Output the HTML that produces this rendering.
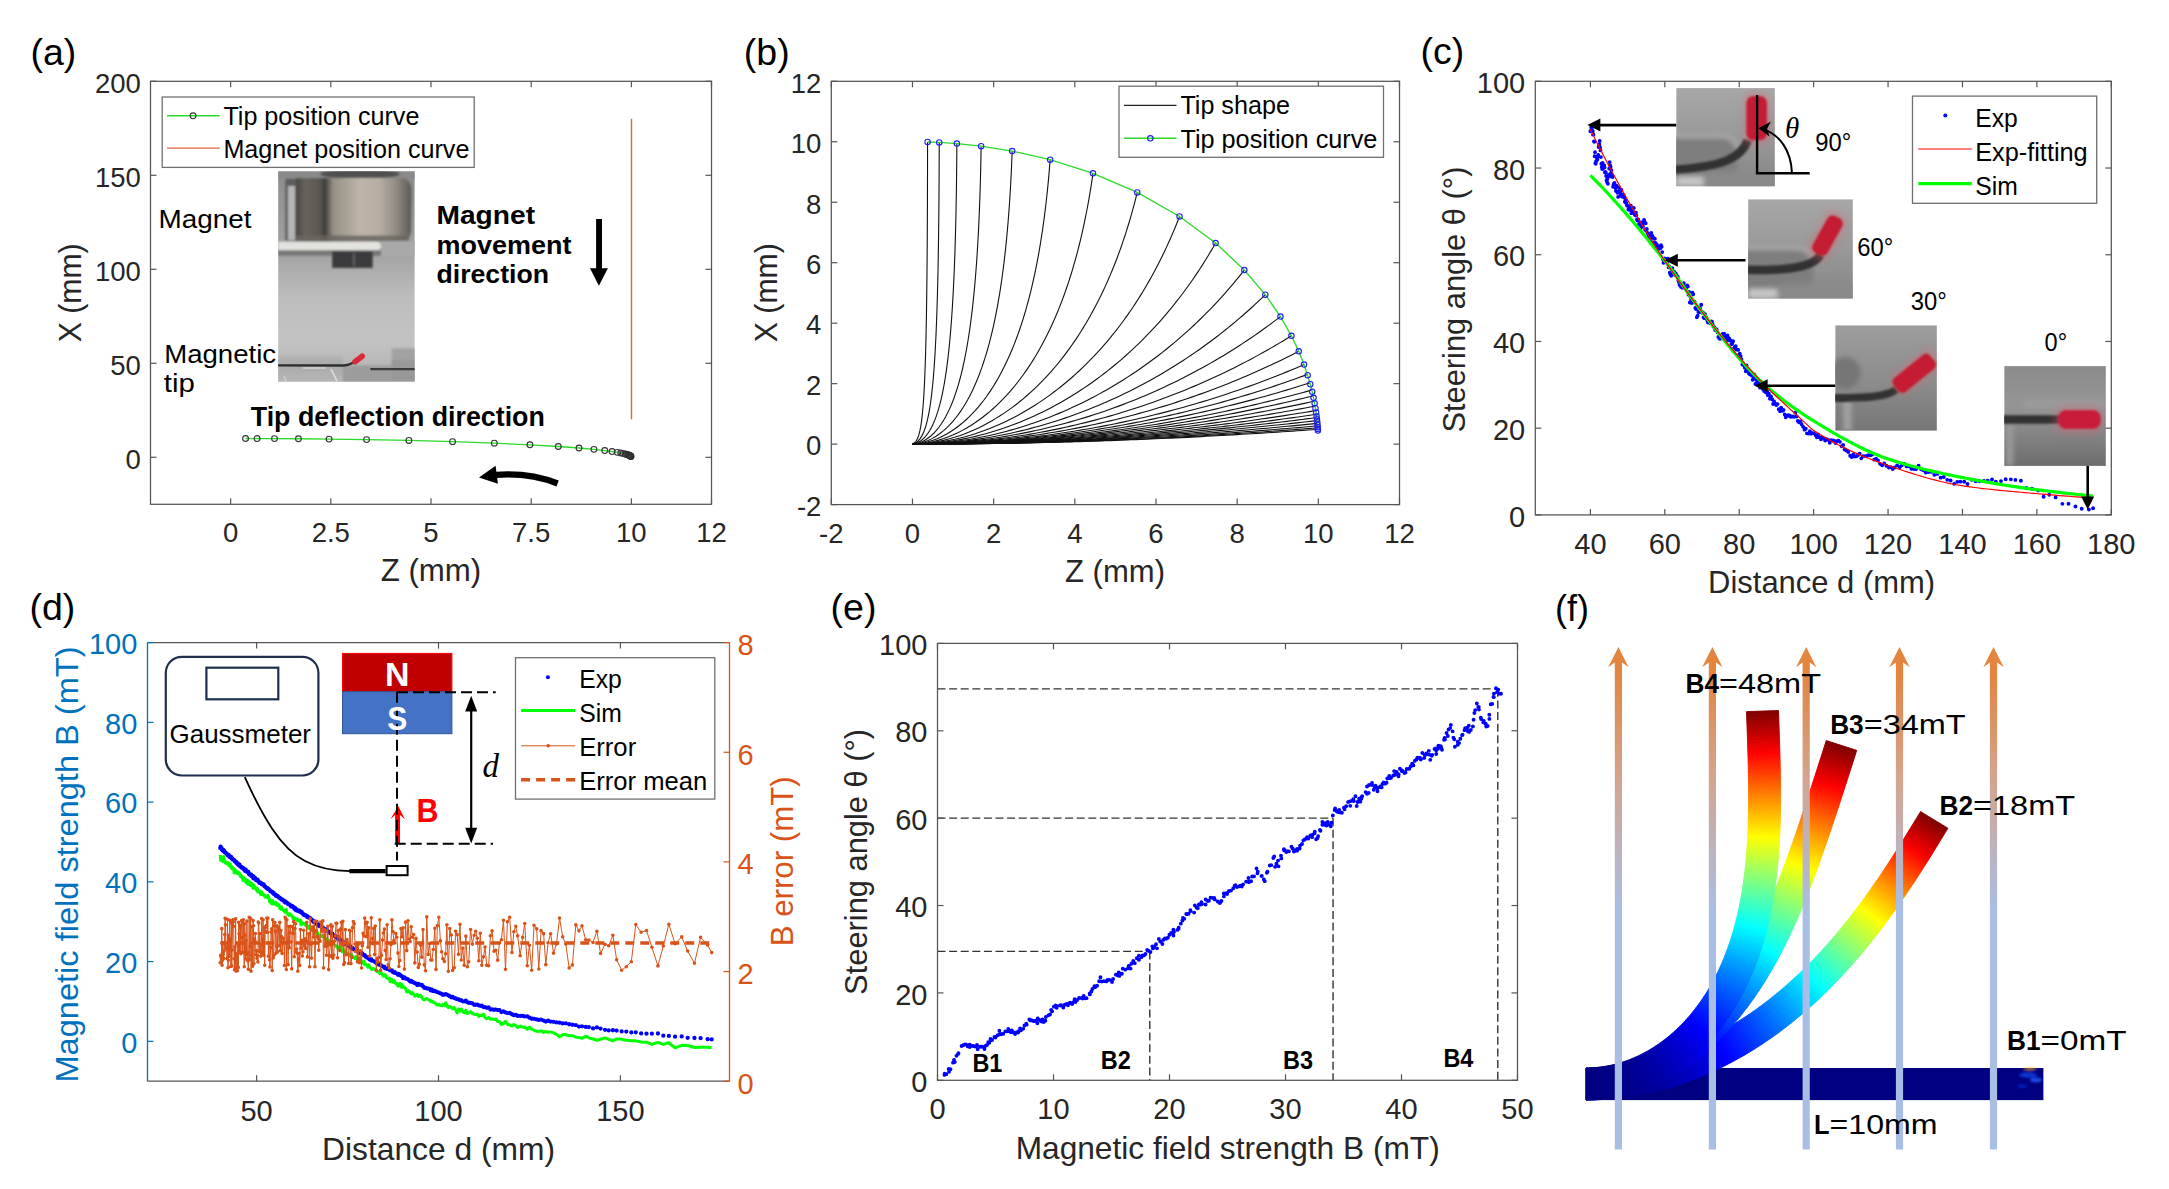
<!DOCTYPE html><html><head><meta charset="utf-8"><title>figure</title><style>html,body{margin:0;padding:0;background:#fff;overflow:hidden}svg{display:block}</style></head><body>
<svg width="2169" height="1189" viewBox="0 0 2169 1189" font-family="Liberation Sans, sans-serif">
<rect width="100%" height="100%" fill="#fff"/>
<text x="30.5" y="64.7" font-size="37.5" fill="#000">(a)</text>
<line x1="631.5" y1="118.8" x2="631.5" y2="419.3" stroke="#e0663a" stroke-width="1.4"/>
<!--tip-->
<polyline points="245.54,438.51 257.06,438.54 274.48,438.61 298.43,438.77 329.08,439.08 366.58,439.61 408.88,440.46 452.57,441.65 494.33,443.14 529.92,444.8 558.29,446.48 578.99,448.01 593.96,449.37 604.77,450.57 612.02,451.53 617.25,452.36 620.8,453.01 623.42,453.58 625.32,454.05 626.64,454.42 627.69,454.76 628.51,455.06 629.16,455.33 629.64,455.56 630.01,455.76 630.31,455.94 630.54,456.1 630.73,456.25 630.86,456.37 630.95,456.45" fill="none" stroke="#2bd92b" stroke-width="1.3"/>
<circle cx="245.54" cy="438.51" r="2.9" fill="none" stroke="#333" stroke-width="1.1"/>
<circle cx="257.06" cy="438.54" r="2.9" fill="none" stroke="#333" stroke-width="1.1"/>
<circle cx="274.48" cy="438.61" r="2.9" fill="none" stroke="#333" stroke-width="1.1"/>
<circle cx="298.43" cy="438.77" r="2.9" fill="none" stroke="#333" stroke-width="1.1"/>
<circle cx="329.08" cy="439.08" r="2.9" fill="none" stroke="#333" stroke-width="1.1"/>
<circle cx="366.58" cy="439.61" r="2.9" fill="none" stroke="#333" stroke-width="1.1"/>
<circle cx="408.88" cy="440.46" r="2.9" fill="none" stroke="#333" stroke-width="1.1"/>
<circle cx="452.57" cy="441.65" r="2.9" fill="none" stroke="#333" stroke-width="1.1"/>
<circle cx="494.33" cy="443.14" r="2.9" fill="none" stroke="#333" stroke-width="1.1"/>
<circle cx="529.92" cy="444.8" r="2.9" fill="none" stroke="#333" stroke-width="1.1"/>
<circle cx="558.29" cy="446.48" r="2.9" fill="none" stroke="#333" stroke-width="1.1"/>
<circle cx="578.99" cy="448.01" r="2.9" fill="none" stroke="#333" stroke-width="1.1"/>
<circle cx="593.96" cy="449.37" r="2.9" fill="none" stroke="#333" stroke-width="1.1"/>
<circle cx="604.77" cy="450.57" r="2.9" fill="none" stroke="#333" stroke-width="1.1"/>
<circle cx="612.02" cy="451.53" r="2.9" fill="none" stroke="#333" stroke-width="1.1"/>
<circle cx="617.25" cy="452.36" r="2.9" fill="none" stroke="#333" stroke-width="1.1"/>
<circle cx="620.8" cy="453.01" r="2.9" fill="none" stroke="#333" stroke-width="1.1"/>
<circle cx="623.42" cy="453.58" r="2.9" fill="none" stroke="#333" stroke-width="1.1"/>
<circle cx="625.32" cy="454.05" r="2.9" fill="none" stroke="#333" stroke-width="1.1"/>
<circle cx="626.64" cy="454.42" r="2.9" fill="none" stroke="#333" stroke-width="1.1"/>
<circle cx="627.69" cy="454.76" r="2.9" fill="none" stroke="#333" stroke-width="1.1"/>
<circle cx="628.51" cy="455.06" r="2.9" fill="none" stroke="#333" stroke-width="1.1"/>
<circle cx="629.16" cy="455.33" r="2.9" fill="none" stroke="#333" stroke-width="1.1"/>
<circle cx="629.64" cy="455.56" r="2.9" fill="none" stroke="#333" stroke-width="1.1"/>
<circle cx="630.01" cy="455.76" r="2.9" fill="none" stroke="#333" stroke-width="1.1"/>
<circle cx="630.31" cy="455.94" r="2.9" fill="none" stroke="#333" stroke-width="1.1"/>
<circle cx="630.54" cy="456.1" r="2.9" fill="none" stroke="#333" stroke-width="1.1"/>
<circle cx="630.73" cy="456.25" r="2.9" fill="none" stroke="#333" stroke-width="1.1"/>
<circle cx="630.86" cy="456.37" r="2.9" fill="none" stroke="#333" stroke-width="1.1"/>
<circle cx="630.95" cy="456.45" r="2.9" fill="none" stroke="#333" stroke-width="1.1"/>
<rect x="150.5" y="81.3" width="561" height="423" fill="none" stroke="#555555" stroke-width="1.25"/>
<line x1="230.64" y1="504.3" x2="230.64" y2="498.3" stroke="#555555" stroke-width="1.2"/>
<line x1="230.64" y1="81.3" x2="230.64" y2="87.3" stroke="#555555" stroke-width="1.2"/>
<line x1="330.82" y1="504.3" x2="330.82" y2="498.3" stroke="#555555" stroke-width="1.2"/>
<line x1="330.82" y1="81.3" x2="330.82" y2="87.3" stroke="#555555" stroke-width="1.2"/>
<line x1="431" y1="504.3" x2="431" y2="498.3" stroke="#555555" stroke-width="1.2"/>
<line x1="431" y1="81.3" x2="431" y2="87.3" stroke="#555555" stroke-width="1.2"/>
<line x1="531.18" y1="504.3" x2="531.18" y2="498.3" stroke="#555555" stroke-width="1.2"/>
<line x1="531.18" y1="81.3" x2="531.18" y2="87.3" stroke="#555555" stroke-width="1.2"/>
<line x1="631.36" y1="504.3" x2="631.36" y2="498.3" stroke="#555555" stroke-width="1.2"/>
<line x1="631.36" y1="81.3" x2="631.36" y2="87.3" stroke="#555555" stroke-width="1.2"/>
<line x1="711.5" y1="504.3" x2="711.5" y2="498.3" stroke="#555555" stroke-width="1.2"/>
<line x1="711.5" y1="81.3" x2="711.5" y2="87.3" stroke="#555555" stroke-width="1.2"/>
<line x1="150.5" y1="457.3" x2="156.5" y2="457.3" stroke="#555555" stroke-width="1.2"/>
<line x1="711.5" y1="457.3" x2="705.5" y2="457.3" stroke="#555555" stroke-width="1.2"/>
<line x1="150.5" y1="363.3" x2="156.5" y2="363.3" stroke="#555555" stroke-width="1.2"/>
<line x1="711.5" y1="363.3" x2="705.5" y2="363.3" stroke="#555555" stroke-width="1.2"/>
<line x1="150.5" y1="269.3" x2="156.5" y2="269.3" stroke="#555555" stroke-width="1.2"/>
<line x1="711.5" y1="269.3" x2="705.5" y2="269.3" stroke="#555555" stroke-width="1.2"/>
<line x1="150.5" y1="175.3" x2="156.5" y2="175.3" stroke="#555555" stroke-width="1.2"/>
<line x1="711.5" y1="175.3" x2="705.5" y2="175.3" stroke="#555555" stroke-width="1.2"/>
<line x1="150.5" y1="81.3" x2="156.5" y2="81.3" stroke="#555555" stroke-width="1.2"/>
<line x1="711.5" y1="81.3" x2="705.5" y2="81.3" stroke="#555555" stroke-width="1.2"/>
<text x="230.64" y="541.6" font-size="27.5" fill="#262626" text-anchor="middle">0</text>
<text x="330.82" y="541.6" font-size="27.5" fill="#262626" text-anchor="middle">2.5</text>
<text x="431" y="541.6" font-size="27.5" fill="#262626" text-anchor="middle">5</text>
<text x="531.18" y="541.6" font-size="27.5" fill="#262626" text-anchor="middle">7.5</text>
<text x="631.36" y="541.6" font-size="27.5" fill="#262626" text-anchor="middle">10</text>
<text x="711.5" y="541.6" font-size="27.5" fill="#262626" text-anchor="middle">12</text>
<text x="140.8" y="468.9" font-size="27.5" fill="#262626" text-anchor="end">0</text>
<text x="140.8" y="374.9" font-size="27.5" fill="#262626" text-anchor="end">50</text>
<text x="140.8" y="280.9" font-size="27.5" fill="#262626" text-anchor="end">100</text>
<text x="140.8" y="186.9" font-size="27.5" fill="#262626" text-anchor="end">150</text>
<text x="140.8" y="92.9" font-size="27.5" fill="#262626" text-anchor="end">200</text>
<text x="0" y="0" transform="translate(80.8 292.85) rotate(-90)" font-size="30.5" fill="#262626" text-anchor="middle" textLength="99" lengthAdjust="spacingAndGlyphs">X (mm)</text>
<text x="431" y="580.8" font-size="30.5" fill="#262626" text-anchor="middle" textLength="100.5" lengthAdjust="spacingAndGlyphs">Z (mm)</text>
<rect x="162.2" y="97" width="312" height="70.4" fill="#fff" stroke="#707070" stroke-width="1.3"/>
<line x1="167.1" y1="115.8" x2="219.6" y2="115.8" stroke="#2bd92b" stroke-width="1.4"/>
<circle cx="193.1" cy="115.8" r="2.9" fill="none" stroke="#333" stroke-width="1.1"/>
<line x1="167.1" y1="148.1" x2="219.6" y2="148.1" stroke="#e0663a" stroke-width="1.4"/>
<text x="223.4" y="124.6" font-size="25" fill="#000" textLength="196" lengthAdjust="spacingAndGlyphs">Tip position curve</text>
<text x="223.4" y="157.5" font-size="25" fill="#000" textLength="246" lengthAdjust="spacingAndGlyphs">Magnet position curve</text>
<defs><clipPath id="clipA"><rect x="278.1" y="171.2" width="136.7" height="210.5"/></clipPath>
<linearGradient id="gA_bg" gradientUnits="userSpaceOnUse" x1="0" y1="171" x2="0" y2="382"><stop offset="0" stop-color="#8c8c8c"/><stop offset="0.4" stop-color="#a4a4a4"/><stop offset="0.6" stop-color="#bdbdbd"/><stop offset="0.8" stop-color="#c3c3c3"/><stop offset="1" stop-color="#b0b0b0"/></linearGradient>
<linearGradient id="gA_mag" gradientUnits="userSpaceOnUse" x1="296" y1="0" x2="412" y2="0"><stop offset="0" stop-color="#4a4741"/><stop offset="0.08" stop-color="#67635b"/><stop offset="0.2" stop-color="#5c5852"/><stop offset="0.25" stop-color="#3f3d39"/><stop offset="0.32" stop-color="#958f85"/><stop offset="0.55" stop-color="#bdb5a8"/><stop offset="0.72" stop-color="#b6aea2"/><stop offset="0.85" stop-color="#958f86"/><stop offset="0.96" stop-color="#6c6861"/><stop offset="1" stop-color="#55524c"/></linearGradient>
<linearGradient id="gA_plat" gradientUnits="userSpaceOnUse" x1="0" y1="355" x2="0" y2="382"><stop offset="0" stop-color="#b4b4b4"/><stop offset="0.35" stop-color="#aaaaaa"/><stop offset="1" stop-color="#b6b6b6"/></linearGradient>
<filter id="blurA" x="-5%" y="-5%" width="110%" height="110%"><feGaussianBlur stdDeviation="0.8"/></filter>
<filter id="blurA2" x="-20%" y="-20%" width="140%" height="140%"><feGaussianBlur stdDeviation="0.6"/></filter>
</defs>
<g clip-path="url(#clipA)">
<rect x="278.1" y="171.2" width="136.7" height="210.5" fill="url(#gA_bg)" stroke="none" stroke-width="1"/>
<g filter="url(#blurA)">
<rect x="278.1" y="171.2" width="136.7" height="8" fill="#8a8a8a" stroke="none" stroke-width="1"/>
<ellipse cx="360" cy="174" rx="40" ry="5" fill="#505050"/>
<rect x="285.4" y="178.8" width="11" height="62" fill="#5c5c5c" stroke="none" stroke-width="1"/>
<rect x="288" y="186" width="7" height="54" fill="#b5b5b5" stroke="none" stroke-width="1"/>
<path d="M296,178 L404,178 Q412,181 411.5,192 L411,232 Q410,241 398,243 L296,241 Z" fill="url(#gA_mag)" stroke="none" stroke-width="1"/>
<rect x="296" y="235.5" width="113" height="6" fill="#6a665f" stroke="none" stroke-width="1" opacity="0.85"/>
<path d="M278,241.8 L376,241.8 Q381,242 381,246 Q381,250.3 376,250.3 L278,250.3 Z" fill="#e2e2df" stroke="none" stroke-width="1"/>
<rect x="278.1" y="250.3" width="103" height="5.5" fill="#777777" stroke="none" stroke-width="1"/>
<rect x="381" y="241" width="34" height="15" fill="#a9a9a9" stroke="none" stroke-width="1"/>
<rect x="332.2" y="251.2" width="40.5" height="16.7" fill="#3a3a3c" stroke="none" stroke-width="1"/>
<line x1="354" y1="253" x2="354" y2="266" stroke="#9a9a9a" stroke-width="0.8"/>
<rect x="278.1" y="355.1" width="64.6" height="27" fill="url(#gA_plat)" stroke="none" stroke-width="1"/>
<rect x="278.1" y="355.1" width="64.6" height="2.5" fill="#b8b8b8" stroke="none" stroke-width="1"/>
<rect x="342.7" y="365.5" width="49" height="17" fill="#9c9c9c" stroke="none" stroke-width="1"/>
<rect x="391.6" y="348.4" width="24" height="34" fill="#a2a2a2" stroke="none" stroke-width="1"/>
<rect x="391.6" y="360" width="24" height="22" fill="#989898" stroke="none" stroke-width="1"/>
</g>
<g filter="url(#blurA2)" opacity="0.85">
<path d="M331,369 L337,381" fill="none" stroke="#e8e8e8" stroke-width="1.6"/>
<path d="M303,368 L326,368" fill="none" stroke="#e0e0e0" stroke-width="1.3"/>
<path d="M284,376 L286,381" fill="none" stroke="#dcdcdc" stroke-width="1.2"/>
</g>
<g filter="url(#blurA2)">
<line x1="370.3" y1="369.1" x2="414.8" y2="369.1" stroke="#3a3a3a" stroke-width="2.4"/>
<path d="M278,365.3 L343.7,365.5 Q349,365 353.5,362.4" fill="none" stroke="#2e2e2e" stroke-width="2.3"/>
<path d="M355,361.7 L362.2,356.2" fill="none" stroke="#d82a3a" stroke-width="5.6" stroke-linecap="round"/>
</g>
</g>
<text x="158.5" y="227.8" font-size="25.5" fill="#000" textLength="93" lengthAdjust="spacingAndGlyphs">Magnet</text>
<text x="164.2" y="362.6" font-size="25.5" fill="#000" textLength="112" lengthAdjust="spacingAndGlyphs">Magnetic</text>
<text x="163.8" y="391.6" font-size="25.5" fill="#000" textLength="31" lengthAdjust="spacingAndGlyphs">tip</text>
<text x="436.5" y="224" font-size="26" fill="#000" font-weight="bold" textLength="98.5" lengthAdjust="spacingAndGlyphs">Magnet</text>
<text x="436.5" y="253.8" font-size="26" fill="#000" font-weight="bold" textLength="135" lengthAdjust="spacingAndGlyphs">movement</text>
<text x="436.5" y="283" font-size="26" fill="#000" font-weight="bold" textLength="112.5" lengthAdjust="spacingAndGlyphs">direction</text>
<text x="250.8" y="426.3" font-size="27.5" fill="#000" font-weight="bold" textLength="294" lengthAdjust="spacingAndGlyphs">Tip deflection direction</text>
<path d="M596.1,218.9 H602 V268.2 H607.9 L598.9,285.7 L590,268.2 H596.1 Z" fill="#000"/>
<path d="M496,474.8 Q530,472.5 557.6,483.5" fill="none" stroke="#000" stroke-width="6.2"/>
<path d="M479,477.4 L495.6,465.8 L497.9,483.8 Z" fill="#000"/>
<text x="743.8" y="64.7" font-size="37.5" fill="#000">(b)</text>
<polyline points="912.47,444.13 915.99,441.38 917.83,437.84 919.06,434.15 919.97,430.42 920.69,426.66 921.29,422.89 921.79,419.11 922.22,415.32 922.6,411.54 922.94,407.75 923.24,403.96 923.52,400.17 923.77,396.37 923.99,392.58 924.2,388.78 924.4,384.99 924.58,381.2 924.74,377.4 924.9,373.6 925.05,369.81 925.18,366.01 925.31,362.22 925.43,358.42 925.55,354.62 925.65,350.83 925.76,347.03 925.85,343.23 925.94,339.44 926.03,335.64 926.11,331.84 926.19,328.05 926.27,324.25 926.34,320.45 926.4,316.66 926.47,312.86 926.53,309.06 926.59,305.26 926.64,301.47 926.69,297.67 926.74,293.87 926.79,290.08 926.84,286.28 926.88,282.48 926.92,278.68 926.96,274.89 927,271.09 927.04,267.29 927.07,263.49 927.1,259.7 927.13,255.9 927.16,252.1 927.19,248.31 927.22,244.51 927.24,240.71 927.27,236.91 927.29,233.12 927.31,229.32 927.33,225.52 927.35,221.72 927.37,217.93 927.39,214.13 927.4,210.33 927.42,206.54 927.43,202.74 927.45,198.94 927.46,195.14 927.47,191.35 927.48,187.55 927.49,183.75 927.5,179.95 927.51,176.16 927.52,172.36 927.53,168.56 927.53,164.76 927.54,160.97 927.54,157.17 927.55,153.37 927.55,149.58 927.55,145.78 927.56,141.98" fill="none" stroke="#111" stroke-width="1.1"/>
<polyline points="912.47,444.13 916.89,442.2 919.86,439.08 922.02,435.62 923.7,432.01 925.07,428.33 926.22,424.61 927.2,420.86 928.06,417.1 928.82,413.32 929.5,409.54 930.12,405.75 930.67,401.95 931.18,398.15 931.65,394.35 932.08,390.54 932.48,386.73 932.85,382.93 933.2,379.12 933.52,375.3 933.82,371.49 934.11,367.68 934.38,363.87 934.63,360.05 934.87,356.24 935.1,352.42 935.31,348.61 935.51,344.79 935.71,340.98 935.89,337.16 936.06,333.34 936.23,329.53 936.38,325.71 936.53,321.89 936.68,318.08 936.81,314.26 936.94,310.44 937.07,306.62 937.19,302.8 937.3,298.99 937.41,295.17 937.51,291.35 937.61,287.53 937.7,283.72 937.79,279.9 937.88,276.08 937.96,272.26 938.04,268.44 938.11,264.62 938.18,260.81 938.25,256.99 938.32,253.17 938.38,249.35 938.44,245.53 938.49,241.71 938.55,237.9 938.6,234.08 938.65,230.26 938.69,226.44 938.74,222.62 938.78,218.8 938.82,214.98 938.86,211.17 938.89,207.35 938.92,203.53 938.96,199.71 938.98,195.89 939.01,192.07 939.04,188.25 939.06,184.43 939.08,180.62 939.11,176.8 939.13,172.98 939.14,169.16 939.16,165.34 939.17,161.52 939.19,157.7 939.2,153.89 939.21,150.07 939.22,146.25 939.23,142.43" fill="none" stroke="#111" stroke-width="1.1"/>
<polyline points="912.47,444.13 917.38,442.91 921.37,440.47 924.62,437.48 927.32,434.19 929.62,430.74 931.6,427.18 933.35,423.56 934.89,419.88 936.28,416.17 937.53,412.44 938.67,408.68 939.72,404.91 940.68,401.12 941.57,397.33 942.39,393.53 943.16,389.72 943.88,385.9 944.55,382.09 945.18,378.26 945.77,374.44 946.33,370.61 946.86,366.78 947.36,362.94 947.83,359.11 948.27,355.27 948.7,351.43 949.1,347.59 949.49,343.75 949.85,339.91 950.2,336.07 950.53,332.22 950.85,328.38 951.15,324.53 951.44,320.69 951.72,316.84 951.98,313 952.23,309.15 952.47,305.3 952.7,301.45 952.92,297.61 953.14,293.76 953.34,289.91 953.53,286.06 953.72,282.21 953.9,278.36 954.07,274.51 954.23,270.66 954.39,266.81 954.54,262.97 954.68,259.12 954.82,255.26 954.95,251.41 955.07,247.56 955.19,243.71 955.31,239.86 955.42,236.01 955.52,232.16 955.62,228.31 955.72,224.46 955.81,220.61 955.9,216.76 955.98,212.91 956.06,209.06 956.13,205.21 956.2,201.36 956.27,197.5 956.33,193.65 956.39,189.8 956.45,185.95 956.5,182.1 956.55,178.25 956.6,174.4 956.64,170.55 956.68,166.69 956.72,162.84 956.75,158.99 956.79,155.14 956.82,151.29 956.84,147.44 956.87,143.59" fill="none" stroke="#111" stroke-width="1.1"/>
<polyline points="912.47,444.13 917.6,443.39 922.28,441.65 926.44,439.29 930.14,436.54 933.44,433.52 936.4,430.31 939.08,426.97 941.52,423.52 943.75,420 945.8,416.42 947.69,412.79 949.45,409.12 951.08,405.42 952.6,401.69 954.02,397.94 955.35,394.18 956.61,390.4 957.79,386.61 958.91,382.8 959.96,378.99 960.96,375.16 961.91,371.33 962.81,367.5 963.66,363.66 964.48,359.81 965.25,355.96 965.99,352.1 966.7,348.24 967.37,344.38 968.02,340.52 968.63,336.65 969.22,332.78 969.79,328.91 970.33,325.04 970.85,321.16 971.34,317.28 971.82,313.41 972.28,309.53 972.72,305.65 973.14,301.76 973.54,297.88 973.93,294 974.3,290.11 974.66,286.23 975.01,282.34 975.34,278.45 975.66,274.57 975.96,270.68 976.25,266.79 976.54,262.9 976.81,259.01 977.07,255.12 977.32,251.23 977.56,247.34 977.79,243.45 978.01,239.56 978.22,235.67 978.42,231.78 978.62,227.89 978.8,224 978.98,220.1 979.15,216.21 979.32,212.32 979.47,208.43 979.62,204.53 979.76,200.64 979.9,196.75 980.03,192.85 980.15,188.96 980.27,185.07 980.38,181.17 980.48,177.28 980.58,173.39 980.68,169.49 980.77,165.6 980.85,161.71 980.93,157.81 981,153.92 981.07,150.02 981.13,146.13" fill="none" stroke="#111" stroke-width="1.1"/>
<polyline points="912.47,444.13 917.73,443.67 922.78,442.49 927.54,440.76 931.99,438.63 936.13,436.18 940,433.48 943.6,430.6 946.97,427.55 950.11,424.38 953.07,421.11 955.84,417.75 958.45,414.32 960.9,410.83 963.23,407.28 965.42,403.7 967.5,400.07 969.48,396.41 971.35,392.73 973.14,389.01 974.84,385.28 976.46,381.52 978,377.75 979.48,373.97 980.89,370.17 982.24,366.35 983.53,362.53 984.77,358.7 985.96,354.85 987.1,351 988.2,347.15 989.25,343.28 990.26,339.41 991.23,335.53 992.16,331.65 993.06,327.77 993.92,323.88 994.76,319.98 995.56,316.09 996.33,312.18 997.07,308.28 997.79,304.37 998.48,300.46 999.14,296.55 999.79,292.64 1000.41,288.72 1001,284.8 1001.58,280.88 1002.13,276.96 1002.67,273.04 1003.18,269.12 1003.68,265.19 1004.16,261.26 1004.62,257.34 1005.07,253.41 1005.5,249.48 1005.91,245.55 1006.31,241.61 1006.69,237.68 1007.06,233.75 1007.42,229.81 1007.76,225.88 1008.09,221.94 1008.41,218.01 1008.71,214.07 1009.01,210.13 1009.29,206.2 1009.56,202.26 1009.82,198.32 1010.07,194.38 1010.3,190.44 1010.53,186.5 1010.75,182.56 1010.96,178.62 1011.16,174.68 1011.35,170.74 1011.53,166.8 1011.7,162.86 1011.87,158.92 1012.02,154.98 1012.17,151.04" fill="none" stroke="#111" stroke-width="1.1"/>
<polyline points="912.47,444.13 917.81,443.84 923.06,443.05 928.17,441.84 933.1,440.28 937.83,438.42 942.38,436.31 946.72,433.98 950.88,431.46 954.86,428.79 958.66,425.98 962.3,423.05 965.78,420.02 969.1,416.89 972.29,413.68 975.35,410.41 978.27,407.07 981.08,403.67 983.78,400.22 986.37,396.73 988.85,393.19 991.24,389.62 993.54,386.02 995.76,382.39 997.89,378.73 999.94,375.04 1001.92,371.33 1003.83,367.6 1005.67,363.86 1007.45,360.09 1009.16,356.31 1010.81,352.52 1012.41,348.71 1013.96,344.89 1015.45,341.06 1016.89,337.21 1018.29,333.36 1019.64,329.5 1020.94,325.63 1022.2,321.75 1023.42,317.87 1024.61,313.98 1025.75,310.08 1026.86,306.18 1027.93,302.27 1028.97,298.35 1029.97,294.43 1030.95,290.51 1031.89,286.58 1032.8,282.65 1033.69,278.71 1034.54,274.78 1035.37,270.83 1036.17,266.89 1036.95,262.94 1037.7,258.99 1038.43,255.04 1039.14,251.08 1039.82,247.12 1040.48,243.17 1041.12,239.2 1041.73,235.24 1042.33,231.28 1042.91,227.31 1043.47,223.34 1044.01,219.37 1044.53,215.4 1045.03,211.43 1045.52,207.45 1045.99,203.48 1046.44,199.5 1046.88,195.53 1047.3,191.55 1047.71,187.57 1048.1,183.59 1048.48,179.61 1048.84,175.63 1049.19,171.65 1049.52,167.67 1049.84,163.68 1050.15,159.7" fill="none" stroke="#111" stroke-width="1.1"/>
<polyline points="912.47,444.13 917.87,443.94 923.22,443.42 928.5,442.58 933.69,441.47 938.78,440.11 943.74,438.52 948.58,436.74 953.29,434.77 957.88,432.65 962.33,430.37 966.65,427.96 970.85,425.43 974.93,422.79 978.88,420.05 982.71,417.21 986.43,414.29 990.04,411.3 993.53,408.23 996.93,405.1 1000.22,401.92 1003.41,398.67 1006.51,395.38 1009.52,392.03 1012.44,388.65 1015.27,385.23 1018.02,381.76 1020.7,378.27 1023.29,374.74 1025.81,371.18 1028.26,367.59 1030.64,363.98 1032.95,360.35 1035.19,356.69 1037.38,353.01 1039.5,349.31 1041.56,345.59 1043.57,341.85 1045.52,338.1 1047.41,334.33 1049.26,330.55 1051.05,326.76 1052.79,322.95 1054.49,319.13 1056.14,315.3 1057.74,311.46 1059.31,307.61 1060.83,303.75 1062.3,299.88 1063.74,296 1065.14,292.11 1066.5,288.22 1067.82,284.32 1069.11,280.41 1070.36,276.5 1071.58,272.58 1072.77,268.65 1073.92,264.72 1075.04,260.79 1076.13,256.84 1077.19,252.9 1078.22,248.95 1079.22,245 1080.19,241.04 1081.14,237.08 1082.06,233.11 1082.95,229.15 1083.82,225.17 1084.66,221.2 1085.47,217.22 1086.27,213.24 1087.04,209.26 1087.79,205.28 1088.51,201.29 1089.21,197.3 1089.89,193.31 1090.55,189.32 1091.19,185.32 1091.81,181.33 1092.41,177.33 1092.99,173.33" fill="none" stroke="#111" stroke-width="1.1"/>
<polyline points="912.47,444.13 917.88,444 923.28,443.64 928.63,443.06 933.94,442.28 939.2,441.3 944.38,440.14 949.5,438.81 954.53,437.33 959.48,435.7 964.35,433.93 969.13,432.04 973.82,430.02 978.42,427.89 982.93,425.66 987.35,423.33 991.68,420.91 995.92,418.4 1000.07,415.81 1004.13,413.15 1008.11,410.41 1012,407.6 1015.81,404.73 1019.53,401.8 1023.17,398.82 1026.73,395.78 1030.22,392.69 1033.62,389.56 1036.96,386.38 1040.21,383.16 1043.4,379.9 1046.52,376.6 1049.56,373.26 1052.54,369.89 1055.45,366.49 1058.3,363.06 1061.08,359.6 1063.8,356.12 1066.46,352.6 1069.06,349.07 1071.61,345.5 1074.09,341.92 1076.53,338.32 1078.9,334.69 1081.23,331.05 1083.5,327.39 1085.72,323.71 1087.89,320.01 1090.01,316.3 1092.08,312.58 1094.11,308.84 1096.09,305.08 1098.03,301.32 1099.92,297.54 1101.77,293.75 1103.58,289.94 1105.35,286.13 1107.07,282.31 1108.76,278.48 1110.41,274.63 1112.02,270.78 1113.59,266.92 1115.13,263.05 1116.63,259.18 1118.09,255.29 1119.52,251.4 1120.92,247.51 1122.28,243.6 1123.61,239.69 1124.91,235.78 1126.18,231.86 1127.42,227.93 1128.62,224 1129.8,220.06 1130.95,216.12 1132.06,212.17 1133.16,208.22 1134.22,204.27 1135.25,200.31 1136.26,196.34 1137.25,192.38" fill="none" stroke="#111" stroke-width="1.1"/>
<polyline points="912.47,444.13 917.87,444.04 923.25,443.79 928.62,443.39 933.96,442.83 939.27,442.13 944.55,441.29 949.79,440.32 954.98,439.22 960.12,438 965.21,436.66 970.24,435.22 975.22,433.67 980.13,432.01 984.99,430.26 989.79,428.42 994.52,426.49 999.19,424.48 1003.79,422.38 1008.33,420.21 1012.81,417.96 1017.21,415.64 1021.56,413.26 1025.83,410.81 1030.04,408.29 1034.19,405.72 1038.27,403.09 1042.29,400.41 1046.24,397.67 1050.13,394.88 1053.95,392.05 1057.71,389.17 1061.41,386.24 1065.05,383.28 1068.63,380.27 1072.15,377.22 1075.61,374.13 1079.01,371.01 1082.35,367.86 1085.64,364.67 1088.86,361.45 1092.04,358.2 1095.15,354.92 1098.22,351.61 1101.23,348.27 1104.18,344.91 1107.09,341.52 1109.94,338.11 1112.74,334.68 1115.5,331.22 1118.2,327.74 1120.86,324.24 1123.46,320.72 1126.02,317.18 1128.53,313.63 1131,310.05 1133.42,306.46 1135.8,302.85 1138.13,299.23 1140.42,295.59 1142.67,291.94 1144.88,288.27 1147.04,284.58 1149.16,280.89 1151.25,277.18 1153.29,273.46 1155.29,269.73 1157.26,265.99 1159.19,262.23 1161.08,258.47 1162.93,254.69 1164.75,250.91 1166.53,247.11 1168.27,243.31 1169.98,239.5 1171.66,235.68 1173.3,231.85 1174.91,228.01 1176.48,224.17 1178.03,220.32 1179.54,216.46" fill="none" stroke="#111" stroke-width="1.1"/>
<polyline points="912.47,444.13 917.82,444.07 923.17,443.89 928.51,443.6 933.84,443.2 939.15,442.69 944.43,442.07 949.7,441.36 954.94,440.54 960.15,439.63 965.33,438.62 970.48,437.53 975.59,436.35 980.67,435.08 985.7,433.73 990.7,432.29 995.65,430.79 1000.57,429.2 1005.43,427.54 1010.26,425.81 1015.04,424.02 1019.77,422.15 1024.45,420.22 1029.09,418.23 1033.68,416.18 1038.22,414.06 1042.71,411.9 1047.16,409.67 1051.55,407.39 1055.89,405.06 1060.19,402.68 1064.43,400.25 1068.62,397.77 1072.77,395.25 1076.86,392.68 1080.91,390.06 1084.9,387.41 1088.85,384.71 1092.74,381.98 1096.59,379.2 1100.39,376.39 1104.13,373.55 1107.83,370.66 1111.48,367.75 1115.09,364.8 1118.64,361.82 1122.15,358.8 1125.61,355.76 1129.02,352.69 1132.39,349.59 1135.71,346.46 1138.99,343.31 1142.21,340.13 1145.4,336.92 1148.54,333.69 1151.63,330.43 1154.68,327.16 1157.69,323.86 1160.65,320.54 1163.57,317.19 1166.45,313.83 1169.28,310.45 1172.07,307.04 1174.82,303.62 1177.53,300.18 1180.2,296.73 1182.83,293.25 1185.42,289.76 1187.97,286.26 1190.48,282.73 1192.95,279.2 1195.38,275.64 1197.78,272.08 1200.13,268.49 1202.45,264.9 1204.73,261.29 1206.98,257.67 1209.18,254.04 1211.36,250.39 1213.49,246.74 1215.59,243.07" fill="none" stroke="#111" stroke-width="1.1"/>
<polyline points="912.47,444.13 917.77,444.09 923.07,443.96 928.36,443.74 933.65,443.45 938.93,443.07 944.19,442.61 949.45,442.08 954.68,441.47 959.9,440.78 965.11,440.02 970.29,439.19 975.45,438.29 980.59,437.31 985.7,436.27 990.79,435.17 995.85,433.99 1000.89,432.76 1005.89,431.46 1010.87,430.1 1015.81,428.68 1020.73,427.2 1025.61,425.66 1030.46,424.06 1035.28,422.41 1040.06,420.71 1044.81,418.96 1049.52,417.15 1054.2,415.29 1058.84,413.38 1063.45,411.42 1068.01,409.42 1072.55,407.37 1077.04,405.27 1081.49,403.13 1085.91,400.95 1090.29,398.72 1094.63,396.45 1098.93,394.14 1103.19,391.8 1107.41,389.41 1111.6,386.98 1115.74,384.52 1119.84,382.02 1123.91,379.48 1127.93,376.91 1131.92,374.31 1135.87,371.67 1139.77,369 1143.64,366.3 1147.47,363.57 1151.25,360.8 1155,358.01 1158.71,355.19 1162.38,352.34 1166.01,349.46 1169.6,346.55 1173.15,343.62 1176.66,340.66 1180.13,337.68 1183.57,334.67 1186.96,331.64 1190.32,328.58 1193.64,325.5 1196.92,322.4 1200.16,319.27 1203.36,316.13 1206.53,312.96 1209.65,309.77 1212.75,306.56 1215.8,303.33 1218.81,300.09 1221.79,296.82 1224.74,293.53 1227.64,290.23 1230.51,286.91 1233.34,283.57 1236.14,280.22 1238.9,276.85 1241.63,273.46 1244.32,270.06" fill="none" stroke="#111" stroke-width="1.1"/>
<polyline points="912.47,444.13 917.72,444.1 922.97,444 928.22,443.84 933.47,443.61 938.7,443.33 943.94,442.98 949.16,442.57 954.37,442.1 959.58,441.57 964.77,440.99 969.95,440.34 975.12,439.64 980.27,438.88 985.41,438.07 990.53,437.2 995.63,436.28 1000.72,435.3 1005.79,434.28 1010.84,433.2 1015.86,432.07 1020.87,430.89 1025.86,429.66 1030.82,428.38 1035.76,427.05 1040.68,425.67 1045.57,424.25 1050.44,422.78 1055.28,421.27 1060.1,419.71 1064.89,418.11 1069.66,416.46 1074.4,414.78 1079.11,413.05 1083.79,411.27 1088.45,409.46 1093.07,407.61 1097.67,405.72 1102.24,403.79 1106.78,401.82 1111.29,399.81 1115.76,397.77 1120.21,395.69 1124.63,393.57 1129.02,391.42 1133.37,389.23 1137.7,387.01 1141.99,384.76 1146.25,382.47 1150.48,380.15 1154.68,377.8 1158.84,375.41 1162.97,373 1167.08,370.55 1171.14,368.08 1175.18,365.57 1179.18,363.04 1183.15,360.47 1187.09,357.88 1190.99,355.27 1194.86,352.62 1198.7,349.95 1202.5,347.25 1206.27,344.53 1210.01,341.78 1213.71,339.01 1217.39,336.21 1221.02,333.39 1224.63,330.54 1228.2,327.67 1231.74,324.78 1235.24,321.86 1238.71,318.93 1242.15,315.97 1245.56,312.99 1248.93,309.99 1252.27,306.97 1255.57,303.93 1258.85,300.87 1262.09,297.79 1265.29,294.69" fill="none" stroke="#111" stroke-width="1.1"/>
<polyline points="912.47,444.13 917.68,444.1 922.89,444.03 928.1,443.9 933.3,443.73 938.51,443.51 943.7,443.24 948.9,442.92 954.08,442.55 959.26,442.14 964.44,441.68 969.6,441.17 974.76,440.62 979.91,440.02 985.05,439.38 990.18,438.69 995.29,437.95 1000.4,437.18 1005.49,436.36 1010.57,435.49 1015.64,434.58 1020.69,433.64 1025.73,432.64 1030.75,431.61 1035.76,430.54 1040.75,429.42 1045.72,428.27 1050.68,427.07 1055.62,425.84 1060.54,424.57 1065.44,423.25 1070.33,421.9 1075.19,420.51 1080.04,419.09 1084.87,417.62 1089.67,416.12 1094.46,414.59 1099.22,413.01 1103.96,411.41 1108.68,409.76 1113.38,408.08 1118.06,406.37 1122.71,404.63 1127.34,402.84 1131.95,401.03 1136.53,399.18 1141.09,397.31 1145.62,395.39 1150.13,393.45 1154.62,391.48 1159.08,389.47 1163.52,387.44 1167.93,385.37 1172.31,383.27 1176.67,381.15 1181.01,378.99 1185.31,376.81 1189.59,374.59 1193.85,372.35 1198.08,370.08 1202.28,367.79 1206.45,365.46 1210.6,363.11 1214.72,360.74 1218.81,358.33 1222.87,355.91 1226.91,353.45 1230.92,350.97 1234.9,348.47 1238.85,345.94 1242.78,343.38 1246.67,340.81 1250.54,338.21 1254.38,335.58 1258.19,332.94 1261.97,330.27 1265.73,327.57 1269.45,324.86 1273.15,322.12 1276.81,319.36 1280.45,316.59" fill="none" stroke="#111" stroke-width="1.1"/>
<polyline points="912.47,444.13 917.65,444.11 922.82,444.05 928,443.95 933.17,443.82 938.34,443.64 943.51,443.43 948.68,443.17 953.84,442.88 959,442.56 964.15,442.19 969.3,441.79 974.44,441.35 979.58,440.87 984.71,440.35 989.83,439.8 994.94,439.21 1000.05,438.59 1005.15,437.93 1010.24,437.23 1015.33,436.5 1020.4,435.73 1025.46,434.93 1030.52,434.09 1035.56,433.22 1040.59,432.31 1045.61,431.37 1050.62,430.4 1055.61,429.39 1060.6,428.35 1065.57,427.27 1070.52,426.16 1075.47,425.02 1080.4,423.84 1085.31,422.63 1090.22,421.39 1095.1,420.12 1099.97,418.82 1104.83,417.48 1109.67,416.11 1114.49,414.71 1119.3,413.28 1124.09,411.82 1128.86,410.33 1133.62,408.81 1138.36,407.26 1143.08,405.68 1147.78,404.07 1152.47,402.43 1157.14,400.76 1161.78,399.06 1166.41,397.33 1171.02,395.58 1175.61,393.8 1180.18,391.98 1184.73,390.15 1189.26,388.28 1193.77,386.38 1198.26,384.46 1202.73,382.52 1207.17,380.54 1211.6,378.54 1216,376.51 1220.38,374.46 1224.74,372.38 1229.08,370.28 1233.4,368.15 1237.69,366 1241.96,363.82 1246.21,361.62 1250.44,359.39 1254.64,357.14 1258.82,354.86 1262.97,352.56 1267.11,350.24 1271.22,347.89 1275.3,345.52 1279.36,343.13 1283.4,340.72 1287.41,338.28 1291.4,335.82" fill="none" stroke="#111" stroke-width="1.1"/>
<polyline points="912.47,444.13 917.62,444.11 922.77,444.07 927.92,443.99 933.07,443.88 938.22,443.73 943.37,443.56 948.51,443.35 953.65,443.12 958.79,442.85 963.93,442.55 969.06,442.22 974.19,441.86 979.31,441.47 984.43,441.05 989.55,440.6 994.66,440.12 999.77,439.6 1004.87,439.06 1009.96,438.49 1015.05,437.88 1020.13,437.25 1025.2,436.59 1030.27,435.9 1035.33,435.17 1040.38,434.42 1045.42,433.64 1050.46,432.83 1055.48,431.99 1060.5,431.12 1065.51,430.22 1070.51,429.3 1075.5,428.34 1080.48,427.36 1085.45,426.35 1090.41,425.3 1095.35,424.24 1100.29,423.14 1105.22,422.01 1110.13,420.86 1115.03,419.68 1119.92,418.47 1124.8,417.24 1129.66,415.98 1134.52,414.69 1139.35,413.37 1144.18,412.03 1148.99,410.66 1153.79,409.26 1158.57,407.84 1163.34,406.39 1168.1,404.91 1172.84,403.41 1177.57,401.88 1182.28,400.33 1186.97,398.75 1191.65,397.14 1196.31,395.51 1200.96,393.86 1205.59,392.18 1210.21,390.47 1214.81,388.74 1219.39,386.99 1223.95,385.21 1228.5,383.4 1233.03,381.57 1237.54,379.72 1242.03,377.85 1246.51,375.95 1250.97,374.02 1255.41,372.08 1259.83,370.11 1264.23,368.11 1268.61,366.1 1272.98,364.06 1277.32,361.99 1281.65,359.91 1285.95,357.8 1290.24,355.67 1294.5,353.52 1298.75,351.35" fill="none" stroke="#111" stroke-width="1.1"/>
<polyline points="912.47,444.13 917.6,444.12 922.74,444.08 927.87,444.01 933,443.92 938.13,443.8 943.26,443.66 948.38,443.49 953.51,443.3 958.63,443.08 963.76,442.83 968.87,442.56 973.99,442.26 979.11,441.94 984.22,441.59 989.32,441.22 994.43,440.82 999.53,440.39 1004.63,439.94 1009.72,439.47 1014.81,438.97 1019.89,438.44 1024.97,437.89 1030.04,437.31 1035.11,436.71 1040.17,436.08 1045.23,435.43 1050.28,434.75 1055.33,434.05 1060.36,433.32 1065.4,432.57 1070.42,431.79 1075.44,430.99 1080.45,430.16 1085.45,429.31 1090.45,428.43 1095.44,427.53 1100.42,426.61 1105.39,425.66 1110.35,424.68 1115.3,423.68 1120.25,422.66 1125.19,421.61 1130.11,420.54 1135.03,419.45 1139.94,418.33 1144.83,417.18 1149.72,416.02 1154.6,414.83 1159.47,413.61 1164.32,412.37 1169.17,411.11 1174,409.83 1178.82,408.52 1183.63,407.18 1188.43,405.83 1193.22,404.45 1197.99,403.05 1202.76,401.62 1207.51,400.17 1212.24,398.7 1216.97,397.21 1221.68,395.69 1226.38,394.15 1231.06,392.59 1235.73,391.01 1240.39,389.4 1245.03,387.77 1249.66,386.12 1254.28,384.45 1258.88,382.75 1263.46,381.03 1268.03,379.29 1272.59,377.53 1277.13,375.75 1281.65,373.94 1286.16,372.12 1290.65,370.27 1295.13,368.4 1299.59,366.51 1304.04,364.6" fill="none" stroke="#111" stroke-width="1.1"/>
<polyline points="912.47,444.13 917.59,444.12 922.71,444.08 927.83,444.03 932.94,443.95 938.06,443.85 943.18,443.72 948.29,443.58 953.41,443.41 958.52,443.22 963.63,443.01 968.74,442.77 973.84,442.51 978.95,442.24 984.05,441.93 989.15,441.61 994.25,441.26 999.34,440.89 1004.44,440.5 1009.52,440.09 1014.61,439.66 1019.69,439.2 1024.77,438.72 1029.84,438.22 1034.91,437.7 1039.98,437.15 1045.04,436.58 1050.1,435.99 1055.15,435.38 1060.2,434.75 1065.24,434.1 1070.28,433.42 1075.31,432.72 1080.34,432 1085.36,431.26 1090.37,430.5 1095.38,429.71 1100.38,428.9 1105.38,428.08 1110.37,427.23 1115.35,426.36 1120.33,425.46 1125.3,424.55 1130.26,423.62 1135.22,422.66 1140.17,421.68 1145.11,420.68 1150.04,419.66 1154.96,418.62 1159.88,417.56 1164.79,416.48 1169.68,415.37 1174.58,414.25 1179.46,413.1 1184.33,411.93 1189.19,410.75 1194.05,409.54 1198.89,408.31 1203.73,407.06 1208.56,405.79 1213.37,404.5 1218.18,403.18 1222.98,401.85 1227.76,400.5 1232.54,399.13 1237.3,397.73 1242.06,396.32 1246.8,394.89 1251.53,393.43 1256.25,391.96 1260.96,390.47 1265.66,388.95 1270.35,387.42 1275.02,385.87 1279.68,384.29 1284.33,382.7 1288.97,381.09 1293.6,379.46 1298.21,377.81 1302.81,376.14 1307.4,374.44" fill="none" stroke="#111" stroke-width="1.1"/>
<polyline points="912.47,444.13 917.58,444.12 922.69,444.09 927.8,444.04 932.9,443.97 938.01,443.88 943.12,443.77 948.22,443.65 953.32,443.5 958.43,443.33 963.53,443.15 968.63,442.94 973.73,442.72 978.83,442.47 983.92,442.21 989.02,441.92 994.11,441.62 999.2,441.3 1004.29,440.95 1009.37,440.59 1014.45,440.21 1019.53,439.81 1024.61,439.39 1029.68,438.95 1034.75,438.49 1039.82,438.02 1044.89,437.52 1049.95,437 1055.01,436.47 1060.06,435.91 1065.11,435.34 1070.15,434.75 1075.2,434.13 1080.23,433.5 1085.27,432.85 1090.29,432.18 1095.32,431.49 1100.34,430.79 1105.35,430.06 1110.36,429.32 1115.37,428.55 1120.36,427.77 1125.36,426.97 1130.35,426.15 1135.33,425.31 1140.3,424.45 1145.27,423.57 1150.24,422.68 1155.2,421.76 1160.15,420.83 1165.1,419.88 1170.04,418.91 1174.97,417.92 1179.89,416.91 1184.81,415.89 1189.73,414.84 1194.63,413.78 1199.53,412.7 1204.42,411.6 1209.3,410.48 1214.18,409.35 1219.04,408.19 1223.9,407.02 1228.76,405.83 1233.6,404.62 1238.44,403.4 1243.26,402.15 1248.08,400.89 1252.89,399.61 1257.69,398.31 1262.49,396.99 1267.27,395.66 1272.05,394.31 1276.81,392.94 1281.57,391.55 1286.32,390.15 1291.05,388.73 1295.78,387.29 1300.5,385.83 1305.21,384.35 1309.91,382.86" fill="none" stroke="#111" stroke-width="1.1"/>
<polyline points="912.47,444.13 917.57,444.12 922.67,444.09 927.77,444.05 932.87,443.99 937.97,443.91 943.07,443.82 948.17,443.71 953.26,443.58 958.36,443.43 963.46,443.26 968.55,443.08 973.64,442.89 978.74,442.67 983.83,442.44 988.92,442.19 994,441.92 999.09,441.64 1004.17,441.33 1009.26,441.02 1014.34,440.68 1019.42,440.33 1024.49,439.96 1029.57,439.57 1034.64,439.17 1039.71,438.75 1044.77,438.31 1049.84,437.86 1054.9,437.39 1059.95,436.9 1065.01,436.39 1070.06,435.87 1075.11,435.33 1080.16,434.77 1085.2,434.2 1090.24,433.61 1095.27,433.01 1100.3,432.38 1105.33,431.74 1110.35,431.09 1115.37,430.41 1120.39,429.72 1125.4,429.02 1130.41,428.29 1135.41,427.55 1140.41,426.8 1145.4,426.02 1150.39,425.23 1155.37,424.43 1160.35,423.6 1165.33,422.76 1170.3,421.91 1175.26,421.04 1180.22,420.15 1185.17,419.24 1190.12,418.32 1195.06,417.38 1200,416.43 1204.93,415.46 1209.86,414.47 1214.78,413.47 1219.69,412.45 1224.6,411.42 1229.5,410.37 1234.39,409.3 1239.28,408.22 1244.17,407.12 1249.04,406 1253.91,404.87 1258.77,403.72 1263.63,402.56 1268.48,401.38 1273.32,400.19 1278.15,398.97 1282.98,397.75 1287.8,396.51 1292.61,395.25 1297.42,393.97 1302.21,392.68 1307,391.38 1311.79,390.06" fill="none" stroke="#111" stroke-width="1.1"/>
<polyline points="912.47,444.13 917.57,444.12 922.66,444.1 927.76,444.06 932.85,444.01 937.94,443.94 943.04,443.85 948.13,443.75 953.22,443.64 958.31,443.51 963.4,443.36 968.49,443.2 973.58,443.02 978.67,442.83 983.76,442.62 988.84,442.4 993.93,442.16 999.01,441.91 1004.09,441.64 1009.18,441.36 1014.25,441.06 1019.33,440.75 1024.41,440.42 1029.48,440.07 1034.55,439.71 1039.62,439.34 1044.69,438.95 1049.76,438.55 1054.82,438.13 1059.88,437.69 1064.94,437.24 1070,436.78 1075.05,436.3 1080.1,435.8 1085.15,435.29 1090.19,434.77 1095.24,434.23 1100.28,433.67 1105.31,433.1 1110.35,432.52 1115.38,431.92 1120.41,431.3 1125.43,430.67 1130.45,430.03 1135.47,429.37 1140.48,428.7 1145.49,428.01 1150.5,427.3 1155.5,426.58 1160.5,425.85 1165.49,425.1 1170.48,424.34 1175.47,423.56 1180.45,422.77 1185.43,421.96 1190.41,421.14 1195.38,420.31 1200.34,419.46 1205.3,418.59 1210.26,417.71 1215.21,416.82 1220.15,415.91 1225.1,414.98 1230.03,414.05 1234.97,413.09 1239.89,412.13 1244.81,411.15 1249.73,410.15 1254.64,409.14 1259.55,408.12 1264.45,407.08 1269.34,406.03 1274.23,404.96 1279.11,403.88 1283.99,402.78 1288.86,401.67 1293.73,400.55 1298.59,399.41 1303.44,398.26 1308.29,397.09 1313.13,395.91" fill="none" stroke="#111" stroke-width="1.1"/>
<polyline points="912.47,444.13 917.56,444.12 922.65,444.1 927.74,444.07 932.83,444.02 937.92,443.96 943.01,443.88 948.1,443.79 953.19,443.69 958.27,443.58 963.36,443.45 968.45,443.3 973.53,443.15 978.62,442.98 983.7,442.79 988.79,442.6 993.87,442.38 998.95,442.16 1004.03,441.92 1009.11,441.67 1014.19,441.41 1019.26,441.13 1024.34,440.84 1029.41,440.53 1034.48,440.21 1039.55,439.88 1044.62,439.53 1049.69,439.17 1054.76,438.8 1059.82,438.42 1064.88,438.02 1069.94,437.6 1075,437.18 1080.06,436.74 1085.11,436.28 1090.16,435.82 1095.21,435.34 1100.26,434.85 1105.3,434.34 1110.34,433.82 1115.38,433.29 1120.42,432.74 1125.45,432.18 1130.49,431.61 1135.52,431.02 1140.54,430.42 1145.57,429.81 1150.59,429.19 1155.6,428.55 1160.62,427.9 1165.63,427.23 1170.64,426.55 1175.64,425.86 1180.64,425.16 1185.64,424.44 1190.64,423.71 1195.63,422.97 1200.62,422.21 1205.6,421.44 1210.58,420.66 1215.56,419.87 1220.53,419.06 1225.5,418.24 1230.47,417.4 1235.43,416.56 1240.39,415.7 1245.34,414.82 1250.29,413.94 1255.23,413.04 1260.17,412.13 1265.11,411.2 1270.04,410.27 1274.97,409.32 1279.89,408.36 1284.81,407.38 1289.73,406.39 1294.64,405.39 1299.54,404.38 1304.44,403.35 1309.34,402.31 1314.23,401.26" fill="none" stroke="#111" stroke-width="1.1"/>
<polyline points="912.47,444.13 917.56,444.12 922.64,444.1 927.73,444.07 932.82,444.03 937.9,443.98 942.99,443.91 948.07,443.83 953.16,443.74 958.24,443.64 963.33,443.52 968.41,443.4 973.49,443.26 978.58,443.11 983.66,442.95 988.74,442.77 993.82,442.58 998.9,442.39 1003.98,442.18 1009.06,441.95 1014.13,441.72 1019.21,441.47 1024.28,441.21 1029.36,440.94 1034.43,440.66 1039.5,440.37 1044.57,440.06 1049.64,439.74 1054.71,439.41 1059.77,439.07 1064.84,438.72 1069.9,438.35 1074.96,437.97 1080.02,437.58 1085.08,437.18 1090.13,436.77 1095.19,436.35 1100.24,435.91 1105.29,435.46 1110.34,435 1115.39,434.53 1120.43,434.04 1125.47,433.55 1130.52,433.04 1135.55,432.52 1140.59,431.99 1145.62,431.45 1150.66,430.9 1155.69,430.33 1160.71,429.75 1165.74,429.16 1170.76,428.56 1175.78,427.95 1180.8,427.33 1185.81,426.69 1190.82,426.04 1195.83,425.39 1200.84,424.71 1205.84,424.03 1210.84,423.34 1215.84,422.63 1220.83,421.92 1225.83,421.19 1230.81,420.45 1235.8,419.7 1240.78,418.94 1245.76,418.16 1250.74,417.38 1255.71,416.58 1260.68,415.77 1265.65,414.95 1270.61,414.12 1275.57,413.28 1280.52,412.42 1285.48,411.56 1290.42,410.68 1295.37,409.79 1300.31,408.89 1305.25,407.98 1310.18,407.06 1315.11,406.13" fill="none" stroke="#111" stroke-width="1.1"/>
<polyline points="912.47,444.13 917.55,444.12 922.64,444.11 927.72,444.08 932.81,444.04 937.89,444 942.97,443.94 948.05,443.87 953.14,443.79 958.22,443.7 963.3,443.6 968.38,443.48 973.46,443.36 978.54,443.23 983.62,443.08 988.7,442.93 993.78,442.77 998.86,442.59 1003.94,442.4 1009.01,442.21 1014.09,442 1019.16,441.78 1024.24,441.55 1029.31,441.32 1034.38,441.07 1039.46,440.81 1044.53,440.54 1049.6,440.25 1054.67,439.96 1059.73,439.66 1064.8,439.35 1069.86,439.03 1074.93,438.69 1079.99,438.35 1085.05,437.99 1090.11,437.63 1095.17,437.25 1100.23,436.87 1105.28,436.47 1110.34,436.07 1115.39,435.65 1120.44,435.22 1125.49,434.78 1130.54,434.34 1135.58,433.88 1140.63,433.41 1145.67,432.93 1150.71,432.44 1155.75,431.94 1160.79,431.43 1165.82,430.91 1170.86,430.38 1175.89,429.84 1180.92,429.28 1185.95,428.72 1190.97,428.15 1195.99,427.57 1201.01,426.98 1206.03,426.37 1211.05,425.76 1216.06,425.14 1221.08,424.5 1226.09,423.86 1231.09,423.2 1236.1,422.54 1241.1,421.87 1246.1,421.18 1251.1,420.49 1256.09,419.78 1261.08,419.07 1266.07,418.34 1271.06,417.61 1276.04,416.86 1281.03,416.11 1286,415.34 1290.98,414.56 1295.95,413.78 1300.92,412.98 1305.89,412.18 1310.85,411.36 1315.82,410.53" fill="none" stroke="#111" stroke-width="1.1"/>
<polyline points="912.47,444.13 917.55,444.12 922.63,444.11 927.72,444.09 932.8,444.05 937.88,444.01 942.96,443.96 948.04,443.9 953.12,443.83 958.2,443.75 963.28,443.66 968.36,443.56 973.44,443.45 978.52,443.33 983.6,443.2 988.67,443.07 993.75,442.92 998.83,442.76 1003.91,442.6 1008.98,442.42 1014.06,442.24 1019.13,442.05 1024.21,441.84 1029.28,441.63 1034.35,441.41 1039.42,441.18 1044.49,440.94 1049.57,440.69 1054.63,440.43 1059.7,440.16 1064.77,439.89 1069.84,439.6 1074.9,439.3 1079.97,439 1085.03,438.69 1090.09,438.36 1095.16,438.03 1100.22,437.69 1105.28,437.33 1110.33,436.97 1115.39,436.6 1120.45,436.22 1125.5,435.84 1130.56,435.44 1135.61,435.03 1140.66,434.61 1145.71,434.19 1150.75,433.75 1155.8,433.31 1160.85,432.86 1165.89,432.4 1170.93,431.92 1175.97,431.44 1181.01,430.95 1186.05,430.46 1191.08,429.95 1196.12,429.43 1201.15,428.9 1206.18,428.37 1211.21,427.82 1216.23,427.27 1221.26,426.71 1226.28,426.14 1231.3,425.55 1236.32,424.96 1241.34,424.37 1246.36,423.76 1251.37,423.14 1256.38,422.51 1261.39,421.88 1266.4,421.24 1271.4,420.58 1276.4,419.92 1281.41,419.25 1286.4,418.57 1291.4,417.88 1296.39,417.18 1301.39,416.47 1306.38,415.76 1311.36,415.03 1316.35,414.3" fill="none" stroke="#111" stroke-width="1.1"/>
<polyline points="912.47,444.13 917.55,444.12 922.63,444.11 927.71,444.09 932.79,444.06 937.87,444.02 942.95,443.98 948.03,443.92 953.11,443.86 958.19,443.79 963.26,443.71 968.34,443.62 973.42,443.52 978.5,443.42 983.58,443.3 988.65,443.18 993.73,443.05 998.81,442.91 1003.88,442.77 1008.96,442.61 1014.03,442.45 1019.11,442.28 1024.18,442.1 1029.25,441.91 1034.33,441.71 1039.4,441.5 1044.47,441.29 1049.54,441.07 1054.61,440.84 1059.68,440.6 1064.75,440.35 1069.82,440.1 1074.89,439.83 1079.95,439.56 1085.02,439.28 1090.08,438.99 1095.15,438.7 1100.21,438.39 1105.27,438.08 1110.33,437.76 1115.39,437.43 1120.45,437.09 1125.51,436.75 1130.57,436.39 1135.63,436.03 1140.68,435.66 1145.73,435.28 1150.79,434.89 1155.84,434.5 1160.89,434.09 1165.94,433.68 1170.99,433.26 1176.04,432.83 1181.08,432.4 1186.13,431.95 1191.17,431.5 1196.21,431.04 1201.25,430.57 1206.29,430.09 1211.33,429.61 1216.36,429.12 1221.4,428.62 1226.43,428.11 1231.46,427.59 1236.5,427.06 1241.52,426.53 1246.55,425.99 1251.58,425.44 1256.6,424.88 1261.62,424.31 1266.64,423.74 1271.66,423.16 1276.68,422.57 1281.7,421.97 1286.71,421.36 1291.72,420.75 1296.73,420.13 1301.74,419.5 1306.75,418.86 1311.76,418.21 1316.76,417.56" fill="none" stroke="#111" stroke-width="1.1"/>
<polyline points="912.47,444.13 917.55,444.12 922.63,444.11 927.71,444.09 932.78,444.07 937.86,444.04 942.94,443.99 948.02,443.95 953.1,443.89 958.17,443.83 963.25,443.76 968.33,443.68 973.41,443.59 978.48,443.5 983.56,443.4 988.63,443.29 993.71,443.17 998.79,443.05 1003.86,442.92 1008.94,442.78 1014.01,442.64 1019.09,442.49 1024.16,442.33 1029.23,442.16 1034.31,441.98 1039.38,441.8 1044.45,441.61 1049.52,441.42 1054.59,441.21 1059.66,441 1064.73,440.78 1069.8,440.56 1074.87,440.32 1079.94,440.08 1085.01,439.83 1090.07,439.58 1095.14,439.32 1100.2,439.05 1105.27,438.77 1110.33,438.48 1115.39,438.19 1120.46,437.89 1125.52,437.59 1130.58,437.27 1135.64,436.95 1140.7,436.62 1145.76,436.29 1150.81,435.94 1155.87,435.59 1160.93,435.23 1165.98,434.87 1171.03,434.5 1176.09,434.12 1181.14,433.73 1186.19,433.34 1191.24,432.94 1196.29,432.53 1201.34,432.11 1206.38,431.69 1211.43,431.26 1216.47,430.82 1221.51,430.38 1226.56,429.93 1231.6,429.47 1236.64,429 1241.68,428.53 1246.71,428.05 1251.75,427.56 1256.78,427.07 1261.82,426.56 1266.85,426.06 1271.88,425.54 1276.91,425.02 1281.94,424.49 1286.96,423.95 1291.99,423.4 1297.01,422.85 1302.04,422.29 1307.06,421.73 1312.08,421.15 1317.09,420.57" fill="none" stroke="#111" stroke-width="1.1"/>
<polyline points="912.47,444.13 917.55,444.13 922.63,444.12 927.7,444.1 932.78,444.08 937.86,444.05 942.93,444.01 948.01,443.97 953.09,443.92 958.16,443.86 963.24,443.8 968.32,443.73 973.39,443.65 978.47,443.57 983.54,443.48 988.62,443.39 993.7,443.29 998.77,443.18 1003.85,443.06 1008.92,442.94 1013.99,442.81 1019.07,442.68 1024.14,442.54 1029.22,442.39 1034.29,442.24 1039.36,442.08 1044.43,441.91 1049.5,441.74 1054.58,441.56 1059.65,441.37 1064.72,441.18 1069.79,440.98 1074.86,440.77 1079.93,440.56 1085,440.34 1090.06,440.11 1095.13,439.88 1100.2,439.64 1105.26,439.4 1110.33,439.15 1115.4,438.89 1120.46,438.63 1125.52,438.35 1130.59,438.08 1135.65,437.79 1140.71,437.5 1145.78,437.21 1150.84,436.91 1155.9,436.6 1160.96,436.28 1166.01,435.96 1171.07,435.63 1176.13,435.29 1181.19,434.95 1186.24,434.61 1191.3,434.25 1196.35,433.89 1201.4,433.52 1206.46,433.15 1211.51,432.77 1216.56,432.39 1221.61,431.99 1226.66,431.59 1231.71,431.19 1236.75,430.78 1241.8,430.36 1246.84,429.94 1251.89,429.51 1256.93,429.07 1261.97,428.63 1267.01,428.18 1272.05,427.72 1277.09,427.26 1282.13,426.79 1287.17,426.32 1292.2,425.83 1297.24,425.35 1302.27,424.85 1307.31,424.35 1312.34,423.85 1317.37,423.33" fill="none" stroke="#111" stroke-width="1.1"/>
<polyline points="912.47,444.13 917.55,444.13 922.62,444.12 927.7,444.1 932.78,444.08 937.85,444.06 942.93,444.02 948,443.99 953.08,443.94 958.16,443.89 963.23,443.84 968.31,443.78 973.38,443.71 978.46,443.64 983.53,443.56 988.61,443.48 993.68,443.39 998.76,443.29 1003.83,443.19 1008.91,443.09 1013.98,442.97 1019.05,442.85 1024.13,442.73 1029.2,442.6 1034.27,442.47 1039.35,442.32 1044.42,442.18 1049.49,442.02 1054.56,441.87 1059.64,441.7 1064.71,441.53 1069.78,441.36 1074.85,441.18 1079.92,440.99 1084.99,440.8 1090.06,440.6 1095.13,440.39 1100.19,440.18 1105.26,439.97 1110.33,439.75 1115.4,439.52 1120.46,439.29 1125.53,439.05 1130.6,438.81 1135.66,438.56 1140.73,438.3 1145.79,438.04 1150.85,437.78 1155.92,437.5 1160.98,437.23 1166.04,436.94 1171.1,436.65 1176.16,436.36 1181.22,436.06 1186.28,435.75 1191.34,435.44 1196.4,435.13 1201.46,434.8 1206.52,434.48 1211.57,434.14 1216.63,433.8 1221.68,433.46 1226.74,433.11 1231.79,432.75 1236.84,432.39 1241.9,432.02 1246.95,431.65 1252,431.27 1257.05,430.88 1262.1,430.49 1267.15,430.1 1272.19,429.7 1277.24,429.29 1282.29,428.88 1287.33,428.46 1292.38,428.04 1297.42,427.61 1302.46,427.18 1307.5,426.74 1312.55,426.29 1317.59,425.84" fill="none" stroke="#111" stroke-width="1.1"/>
<polyline points="912.47,444.13 917.55,444.13 922.62,444.12 927.7,444.11 932.77,444.09 937.85,444.06 942.92,444.04 948,444 953.08,443.96 958.15,443.92 963.23,443.87 968.3,443.82 973.38,443.76 978.45,443.69 983.53,443.62 988.6,443.55 993.68,443.47 998.75,443.38 1003.82,443.29 1008.9,443.2 1013.97,443.1 1019.05,442.99 1024.12,442.88 1029.19,442.76 1034.27,442.64 1039.34,442.52 1044.41,442.39 1049.48,442.25 1054.56,442.11 1059.63,441.96 1064.7,441.81 1069.77,441.65 1074.84,441.49 1079.91,441.33 1084.98,441.15 1090.05,440.98 1095.12,440.8 1100.19,440.61 1105.26,440.42 1110.33,440.22 1115.4,440.02 1120.47,439.81 1125.53,439.6 1130.6,439.38 1135.67,439.16 1140.73,438.93 1145.8,438.7 1150.87,438.46 1155.93,438.22 1161,437.97 1166.06,437.71 1171.12,437.46 1176.19,437.19 1181.25,436.93 1186.31,436.65 1191.37,436.37 1196.44,436.09 1201.5,435.8 1206.56,435.51 1211.62,435.21 1216.68,434.91 1221.73,434.6 1226.79,434.29 1231.85,433.97 1236.91,433.65 1241.96,433.32 1247.02,432.99 1252.08,432.65 1257.13,432.3 1262.18,431.96 1267.24,431.6 1272.29,431.25 1277.34,430.88 1282.39,430.51 1287.45,430.14 1292.5,429.76 1297.54,429.38 1302.59,428.99 1307.64,428.6 1312.69,428.2 1317.74,427.8" fill="none" stroke="#111" stroke-width="1.1"/>
<polyline points="912.47,444.13 917.55,444.13 922.62,444.12 927.7,444.11 932.77,444.09 937.85,444.07 942.92,444.04 948,444.01 953.07,443.98 958.15,443.94 963.22,443.89 968.3,443.85 973.37,443.79 978.45,443.73 983.52,443.67 988.6,443.6 993.67,443.53 998.74,443.45 1003.82,443.37 1008.89,443.28 1013.97,443.19 1019.04,443.1 1024.11,443 1029.19,442.89 1034.26,442.78 1039.33,442.67 1044.4,442.55 1049.48,442.43 1054.55,442.3 1059.62,442.16 1064.69,442.03 1069.76,441.89 1074.84,441.74 1079.91,441.59 1084.98,441.43 1090.05,441.27 1095.12,441.11 1100.19,440.94 1105.26,440.76 1110.33,440.58 1115.4,440.4 1120.47,440.21 1125.54,440.02 1130.6,439.82 1135.67,439.62 1140.74,439.41 1145.81,439.2 1150.87,438.99 1155.94,438.77 1161.01,438.54 1166.07,438.31 1171.14,438.08 1176.2,437.84 1181.27,437.6 1186.33,437.35 1191.4,437.1 1196.46,436.84 1201.52,436.58 1206.59,436.31 1211.65,436.04 1216.71,435.77 1221.77,435.49 1226.83,435.2 1231.89,434.92 1236.95,434.62 1242.01,434.32 1247.07,434.02 1252.13,433.72 1257.19,433.4 1262.24,433.09 1267.3,432.77 1272.36,432.44 1277.41,432.11 1282.47,431.78 1287.52,431.44 1292.58,431.1 1297.63,430.75 1302.69,430.4 1307.74,430.04 1312.79,429.68 1317.84,429.32" fill="none" stroke="#111" stroke-width="1.1"/>
<polyline points="927.56,141.98 939.23,142.43 956.87,143.59 981.13,146.13 1012.17,151.04 1050.15,159.7 1092.99,173.33 1137.25,192.38 1179.54,216.46 1215.59,243.07 1244.32,270.06 1265.29,294.69 1280.45,316.59 1291.4,335.82 1298.75,351.35 1304.04,364.6 1307.64,375.19 1310.29,384.26 1312.21,391.83 1313.55,397.87 1314.61,403.3 1315.45,408.17 1316.11,412.52 1316.59,416.2 1316.96,419.35 1317.26,422.25 1317.51,424.88 1317.7,427.25 1317.83,429.09 1317.92,430.52" fill="none" stroke="#2bd92b" stroke-width="1.3"/>
<circle cx="927.56" cy="141.98" r="2.7" fill="none" stroke="#2020f0" stroke-width="1.1"/>
<circle cx="939.23" cy="142.43" r="2.7" fill="none" stroke="#2020f0" stroke-width="1.1"/>
<circle cx="956.87" cy="143.59" r="2.7" fill="none" stroke="#2020f0" stroke-width="1.1"/>
<circle cx="981.13" cy="146.13" r="2.7" fill="none" stroke="#2020f0" stroke-width="1.1"/>
<circle cx="1012.17" cy="151.04" r="2.7" fill="none" stroke="#2020f0" stroke-width="1.1"/>
<circle cx="1050.15" cy="159.7" r="2.7" fill="none" stroke="#2020f0" stroke-width="1.1"/>
<circle cx="1092.99" cy="173.33" r="2.7" fill="none" stroke="#2020f0" stroke-width="1.1"/>
<circle cx="1137.25" cy="192.38" r="2.7" fill="none" stroke="#2020f0" stroke-width="1.1"/>
<circle cx="1179.54" cy="216.46" r="2.7" fill="none" stroke="#2020f0" stroke-width="1.1"/>
<circle cx="1215.59" cy="243.07" r="2.7" fill="none" stroke="#2020f0" stroke-width="1.1"/>
<circle cx="1244.32" cy="270.06" r="2.7" fill="none" stroke="#2020f0" stroke-width="1.1"/>
<circle cx="1265.29" cy="294.69" r="2.7" fill="none" stroke="#2020f0" stroke-width="1.1"/>
<circle cx="1280.45" cy="316.59" r="2.7" fill="none" stroke="#2020f0" stroke-width="1.1"/>
<circle cx="1291.4" cy="335.82" r="2.7" fill="none" stroke="#2020f0" stroke-width="1.1"/>
<circle cx="1298.75" cy="351.35" r="2.7" fill="none" stroke="#2020f0" stroke-width="1.1"/>
<circle cx="1304.04" cy="364.6" r="2.7" fill="none" stroke="#2020f0" stroke-width="1.1"/>
<circle cx="1307.64" cy="375.19" r="2.7" fill="none" stroke="#2020f0" stroke-width="1.1"/>
<circle cx="1310.29" cy="384.26" r="2.7" fill="none" stroke="#2020f0" stroke-width="1.1"/>
<circle cx="1312.21" cy="391.83" r="2.7" fill="none" stroke="#2020f0" stroke-width="1.1"/>
<circle cx="1313.55" cy="397.87" r="2.7" fill="none" stroke="#2020f0" stroke-width="1.1"/>
<circle cx="1314.61" cy="403.3" r="2.7" fill="none" stroke="#2020f0" stroke-width="1.1"/>
<circle cx="1315.45" cy="408.17" r="2.7" fill="none" stroke="#2020f0" stroke-width="1.1"/>
<circle cx="1316.11" cy="412.52" r="2.7" fill="none" stroke="#2020f0" stroke-width="1.1"/>
<circle cx="1316.59" cy="416.2" r="2.7" fill="none" stroke="#2020f0" stroke-width="1.1"/>
<circle cx="1316.96" cy="419.35" r="2.7" fill="none" stroke="#2020f0" stroke-width="1.1"/>
<circle cx="1317.26" cy="422.25" r="2.7" fill="none" stroke="#2020f0" stroke-width="1.1"/>
<circle cx="1317.51" cy="424.88" r="2.7" fill="none" stroke="#2020f0" stroke-width="1.1"/>
<circle cx="1317.7" cy="427.25" r="2.7" fill="none" stroke="#2020f0" stroke-width="1.1"/>
<circle cx="1317.83" cy="429.09" r="2.7" fill="none" stroke="#2020f0" stroke-width="1.1"/>
<circle cx="1317.92" cy="430.52" r="2.7" fill="none" stroke="#2020f0" stroke-width="1.1"/>
<rect x="831.3" y="81.3" width="568.2" height="423.3" fill="none" stroke="#555555" stroke-width="1.25"/>
<line x1="831.3" y1="504.6" x2="831.3" y2="498.6" stroke="#555555" stroke-width="1.2"/>
<line x1="831.3" y1="81.3" x2="831.3" y2="87.3" stroke="#555555" stroke-width="1.2"/>
<line x1="912.47" y1="504.6" x2="912.47" y2="498.6" stroke="#555555" stroke-width="1.2"/>
<line x1="912.47" y1="81.3" x2="912.47" y2="87.3" stroke="#555555" stroke-width="1.2"/>
<line x1="993.64" y1="504.6" x2="993.64" y2="498.6" stroke="#555555" stroke-width="1.2"/>
<line x1="993.64" y1="81.3" x2="993.64" y2="87.3" stroke="#555555" stroke-width="1.2"/>
<line x1="1074.81" y1="504.6" x2="1074.81" y2="498.6" stroke="#555555" stroke-width="1.2"/>
<line x1="1074.81" y1="81.3" x2="1074.81" y2="87.3" stroke="#555555" stroke-width="1.2"/>
<line x1="1155.99" y1="504.6" x2="1155.99" y2="498.6" stroke="#555555" stroke-width="1.2"/>
<line x1="1155.99" y1="81.3" x2="1155.99" y2="87.3" stroke="#555555" stroke-width="1.2"/>
<line x1="1237.16" y1="504.6" x2="1237.16" y2="498.6" stroke="#555555" stroke-width="1.2"/>
<line x1="1237.16" y1="81.3" x2="1237.16" y2="87.3" stroke="#555555" stroke-width="1.2"/>
<line x1="1318.33" y1="504.6" x2="1318.33" y2="498.6" stroke="#555555" stroke-width="1.2"/>
<line x1="1318.33" y1="81.3" x2="1318.33" y2="87.3" stroke="#555555" stroke-width="1.2"/>
<line x1="1399.5" y1="504.6" x2="1399.5" y2="498.6" stroke="#555555" stroke-width="1.2"/>
<line x1="1399.5" y1="81.3" x2="1399.5" y2="87.3" stroke="#555555" stroke-width="1.2"/>
<line x1="831.3" y1="504.6" x2="837.3" y2="504.6" stroke="#555555" stroke-width="1.2"/>
<line x1="1399.5" y1="504.6" x2="1393.5" y2="504.6" stroke="#555555" stroke-width="1.2"/>
<line x1="831.3" y1="444.13" x2="837.3" y2="444.13" stroke="#555555" stroke-width="1.2"/>
<line x1="1399.5" y1="444.13" x2="1393.5" y2="444.13" stroke="#555555" stroke-width="1.2"/>
<line x1="831.3" y1="383.66" x2="837.3" y2="383.66" stroke="#555555" stroke-width="1.2"/>
<line x1="1399.5" y1="383.66" x2="1393.5" y2="383.66" stroke="#555555" stroke-width="1.2"/>
<line x1="831.3" y1="323.19" x2="837.3" y2="323.19" stroke="#555555" stroke-width="1.2"/>
<line x1="1399.5" y1="323.19" x2="1393.5" y2="323.19" stroke="#555555" stroke-width="1.2"/>
<line x1="831.3" y1="262.71" x2="837.3" y2="262.71" stroke="#555555" stroke-width="1.2"/>
<line x1="1399.5" y1="262.71" x2="1393.5" y2="262.71" stroke="#555555" stroke-width="1.2"/>
<line x1="831.3" y1="202.24" x2="837.3" y2="202.24" stroke="#555555" stroke-width="1.2"/>
<line x1="1399.5" y1="202.24" x2="1393.5" y2="202.24" stroke="#555555" stroke-width="1.2"/>
<line x1="831.3" y1="141.77" x2="837.3" y2="141.77" stroke="#555555" stroke-width="1.2"/>
<line x1="1399.5" y1="141.77" x2="1393.5" y2="141.77" stroke="#555555" stroke-width="1.2"/>
<line x1="831.3" y1="81.3" x2="837.3" y2="81.3" stroke="#555555" stroke-width="1.2"/>
<line x1="1399.5" y1="81.3" x2="1393.5" y2="81.3" stroke="#555555" stroke-width="1.2"/>
<text x="831.3" y="542.6" font-size="27.5" fill="#262626" text-anchor="middle">-2</text>
<text x="912.47" y="542.6" font-size="27.5" fill="#262626" text-anchor="middle">0</text>
<text x="993.64" y="542.6" font-size="27.5" fill="#262626" text-anchor="middle">2</text>
<text x="1074.81" y="542.6" font-size="27.5" fill="#262626" text-anchor="middle">4</text>
<text x="1155.99" y="542.6" font-size="27.5" fill="#262626" text-anchor="middle">6</text>
<text x="1237.16" y="542.6" font-size="27.5" fill="#262626" text-anchor="middle">8</text>
<text x="1318.33" y="542.6" font-size="27.5" fill="#262626" text-anchor="middle">10</text>
<text x="1399.5" y="542.6" font-size="27.5" fill="#262626" text-anchor="middle">12</text>
<text x="821.4" y="515.9" font-size="27.5" fill="#262626" text-anchor="end">-2</text>
<text x="821.4" y="455.43" font-size="27.5" fill="#262626" text-anchor="end">0</text>
<text x="821.4" y="394.96" font-size="27.5" fill="#262626" text-anchor="end">2</text>
<text x="821.4" y="334.49" font-size="27.5" fill="#262626" text-anchor="end">4</text>
<text x="821.4" y="274.01" font-size="27.5" fill="#262626" text-anchor="end">6</text>
<text x="821.4" y="213.54" font-size="27.5" fill="#262626" text-anchor="end">8</text>
<text x="821.4" y="153.07" font-size="27.5" fill="#262626" text-anchor="end">10</text>
<text x="821.4" y="92.6" font-size="27.5" fill="#262626" text-anchor="end">12</text>
<text x="0" y="0" transform="translate(776.7 292.7) rotate(-90)" font-size="30.5" fill="#262626" text-anchor="middle" textLength="99" lengthAdjust="spacingAndGlyphs">X (mm)</text>
<text x="1115" y="581.8" font-size="30.5" fill="#262626" text-anchor="middle" textLength="100" lengthAdjust="spacingAndGlyphs">Z (mm)</text>
<rect x="1119" y="86.2" width="264.5" height="71.1" fill="#fff" stroke="#707070" stroke-width="1.3"/>
<line x1="1124" y1="105.3" x2="1176.5" y2="105.3" stroke="#222" stroke-width="1.2"/>
<line x1="1124" y1="138.3" x2="1176.5" y2="138.3" stroke="#2bd92b" stroke-width="1.4"/>
<circle cx="1150.3" cy="138.3" r="2.7" fill="none" stroke="#2020f0" stroke-width="1.1"/>
<text x="1180.4" y="114.2" font-size="25" fill="#000" textLength="109.5" lengthAdjust="spacingAndGlyphs">Tip shape</text>
<text x="1180.4" y="147.5" font-size="25" fill="#000" textLength="197" lengthAdjust="spacingAndGlyphs">Tip position curve</text>
<text x="1420.6" y="64.2" font-size="37.5" fill="#000">(c)</text>
<path d="M1590.4 131.22h0M1590.79 131.26h0M1591.2 127.17h0M1591.61 129.3h0M1591.95 129.51h0M1592.31 125.78h0M1592.73 131.14h0M1593.05 134.65h0M1593.47 134.44h0M1593.89 141.33h0M1594.27 141.71h0M1594.63 156.21h0M1594.99 152.14h0M1595.35 163.25h0M1595.73 163.72h0M1596.12 161.08h0M1596.52 160.98h0M1596.97 158.23h0M1597.4 159.62h0M1597.81 156.3h0M1598.26 155h0M1598.63 146.98h0M1598.99 144.69h0M1599.4 144.38h0M1599.75 141.02h0M1600.09 147.48h0M1600.5 150.41h0M1600.9 157.09h0M1601.36 163.78h0M1601.79 167.24h0M1602.2 169.12h0M1602.61 162.93h0M1602.99 168.65h0M1603.34 164.93h0M1603.72 166.48h0M1604.16 165.4h0M1604.54 167.4h0M1604.94 172.22h0M1605.3 171.93h0M1605.76 172.35h0M1606.14 175.94h0M1606.54 180.25h0M1607.01 181.96h0M1607.44 178.85h0M1607.92 183.8h0M1608.36 176.49h0M1608.83 174.78h0M1609.21 168.6h0M1609.65 162.16h0M1610.09 165.34h0M1610.57 166.72h0M1610.99 173.22h0M1611.45 170.2h0M1611.83 176.79h0M1612.26 175.09h0M1612.68 177.04h0M1613.08 186.82h0M1613.57 184.63h0M1614 183.43h0M1614.52 182.87h0M1614.98 185.86h0M1615.45 187.7h0M1615.93 191.01h0M1616.41 185.66h0M1616.82 186.01h0M1617.27 191.93h0M1617.7 192.89h0M1618.14 196.88h0M1618.55 191.67h0M1619.08 187.92h0M1619.51 191.68h0M1620.01 190.59h0M1620.45 191.88h0M1620.97 194.93h0M1621.47 190.07h0M1621.89 196.46h0M1622.42 194.94h0M1622.96 194.75h0M1623.5 194.85h0M1623.99 196.51h0M1624.43 197.83h0M1624.87 201.69h0M1625.42 202.38h0M1625.91 200.67h0M1626.36 203.28h0M1626.91 205.47h0M1627.42 205.86h0M1627.93 205.83h0M1628.4 209.5h0M1628.89 209.1h0M1629.35 209.88h0M1629.78 208.11h0M1630.34 207.5h0M1630.84 205.77h0M1631.36 213.17h0M1631.84 211.47h0M1632.39 208.9h0M1632.83 211.63h0M1633.32 212.02h0M1633.76 208.06h0M1634.22 212.38h0M1634.81 214.66h0M1635.36 215.19h0M1635.87 212.82h0M1636.4 215.34h0M1636.98 219.56h0M1637.48 220.48h0M1638.03 219.36h0M1638.59 220.81h0M1639.1 224.22h0M1639.63 223.25h0M1640.21 224.19h0M1640.82 228.06h0M1641.3 225.08h0M1641.91 222.56h0M1642.37 224.12h0M1642.96 226.53h0M1643.56 221.92h0M1644.05 219.85h0M1644.59 221.77h0M1645.19 229.74h0M1645.67 223.27h0M1646.24 230.53h0M1646.85 228.88h0M1647.41 232.85h0M1648.01 233.67h0M1648.53 235.36h0M1649.05 238.36h0M1649.59 235.46h0M1650.1 238.77h0M1650.65 242.65h0M1651.3 232.92h0M1651.89 237.78h0M1652.44 235.89h0M1652.98 242.53h0M1653.63 237.84h0M1654.21 238.61h0M1654.88 238.79h0M1655.47 242.86h0M1656.06 245.99h0M1656.72 244.37h0M1657.36 249.34h0M1657.97 249.05h0M1658.55 246.48h0M1659.22 248.78h0M1659.8 247.67h0M1660.48 248.13h0M1661.01 245.19h0M1661.61 246.65h0M1662.22 252.12h0M1662.91 259.23h0M1663.48 262.72h0M1664.15 261.51h0M1664.8 258.39h0M1665.46 262h0M1666.11 259.74h0M1666.82 261.25h0M1667.42 261.37h0M1668.03 258.59h0M1668.6 267.23h0M1669.15 266.55h0M1669.73 272.66h0M1670.45 274.56h0M1671.15 275.71h0M1671.72 269.74h0M1672.38 268.15h0M1673.02 271.14h0M1673.69 273.61h0M1674.37 271.91h0M1674.98 274.96h0M1675.73 273.53h0M1676.38 274.89h0M1677.06 275.98h0M1677.75 276.76h0M1678.35 280.37h0M1678.93 282.13h0M1679.58 284.93h0M1680.3 285.25h0M1681.03 287h0M1681.75 286.79h0M1682.35 287.81h0M1683.11 284.79h0M1683.86 283.1h0M1684.62 287.7h0M1685.31 287.47h0M1686.08 288.36h0M1686.68 286.27h0M1687.28 285.57h0M1687.87 286.53h0M1688.52 294.67h0M1689.16 292.04h0M1689.8 302.57h0M1690.52 296.86h0M1691.12 299.92h0M1691.85 303.06h0M1692.49 292.77h0M1693.24 294.27h0M1693.85 301.38h0M1694.53 301.7h0M1695.34 307.97h0M1696.07 308.94h0M1696.86 317.28h0M1697.63 315.64h0M1698.38 312.06h0M1699.04 312.25h0M1699.79 307.76h0M1700.43 309.51h0M1701.24 304.77h0M1702.08 312.49h0M1702.9 312.57h0M1703.55 317.36h0M1704.26 318.14h0M1704.97 314.12h0M1705.64 318.13h0M1706.42 317.72h0M1707.25 320.43h0M1707.97 322.56h0M1708.82 321.77h0M1709.65 322.32h0M1710.34 323.02h0M1711.17 321.33h0M1712.03 321.75h0M1712.74 324.33h0M1713.54 326.65h0M1714.35 327.09h0M1715.16 330.02h0M1715.86 329.12h0M1716.68 329.4h0M1717.51 332.37h0M1718.38 336.95h0M1719.25 338.19h0M1720.01 338.89h0M1720.87 337.45h0M1721.77 335.34h0M1722.67 333.91h0M1723.4 333.94h0M1724.1 333.6h0M1724.96 336.73h0M1725.71 337h0M1726.55 340.39h0M1727.48 335.46h0M1728.28 339.95h0M1729.05 338.2h0M1729.87 340.56h0M1730.75 340.45h0M1731.49 344.14h0M1732.3 343.47h0M1733.05 341.27h0M1733.94 348.45h0M1734.88 346.95h0M1735.7 346.2h0M1736.52 349.67h0M1737.39 349.81h0M1738.18 349.89h0M1738.98 354.61h0M1739.8 353.69h0M1740.66 356.31h0M1741.43 359.45h0M1742.37 364.46h0M1743.27 363.5h0M1744.1 365.62h0M1744.87 367.65h0M1745.83 371.23h0M1746.62 365.5h0M1747.41 368.59h0M1748.21 370.52h0M1748.99 373.48h0M1750 374.38h0M1750.84 374.17h0M1751.7 375.56h0M1752.7 379.7h0M1753.65 377.24h0M1754.48 374.6h0M1755.38 383.94h0M1756.4 379.91h0M1757.3 382.34h0M1758.28 383.98h0M1759.1 381.94h0M1760.11 387.63h0M1761.14 386.5h0M1762.19 385.55h0M1763.2 389.51h0M1764.14 390.95h0M1764.99 391.04h0M1765.98 392.59h0M1767.05 391.18h0M1767.96 395.2h0M1768.91 393.78h0M1769.93 398.65h0M1771.04 396.54h0M1772.2 399.23h0M1773.13 404.04h0M1774.08 401.49h0M1775.23 403.74h0M1776.35 405.1h0M1777.5 404.08h0M1778.75 409.18h0M1779.99 411.27h0M1781.21 407.74h0M1782.42 410.81h0M1783.51 410.05h0M1784.7 414.43h0M1785.73 417.3h0M1786.98 416.17h0M1788.23 415.2h0M1789.48 415.36h0M1790.65 416.72h0M1791.79 416.53h0M1792.97 416.44h0M1794.01 416.86h0M1795.35 412.63h0M1796.6 416.55h0M1797.8 421.06h0M1799.07 422.25h0M1800.41 421.5h0M1801.64 424.18h0M1803.04 426.8h0M1804.5 429.63h0M1805.76 428.67h0M1806.93 433.37h0M1808.36 433.46h0M1809.89 431.17h0M1811.09 433.73h0M1812.53 433.1h0M1814.04 433.26h0M1815.59 435.22h0M1816.82 437.24h0M1818.05 434.49h0M1819.67 437.23h0M1820.93 439.25h0M1822.23 437.8h0M1823.71 438.43h0M1825.14 440.52h0M1826.72 439.24h0M1828.06 439.83h0M1829.74 442.75h0M1831.12 440.27h0M1832.76 440.57h0M1834.09 440.77h0M1835.62 443.02h0M1836.95 441.08h0M1838.43 440.72h0M1839.91 441.83h0M1841.61 446.3h0M1843.19 445.03h0M1844.58 449.56h0M1846.45 450.48h0M1848.28 452.01h0M1850.14 455.77h0M1851.68 457.03h0M1853.31 454.44h0M1854.88 456.49h0M1856.41 456.18h0M1857.91 455.22h0M1859.67 453.59h0M1861.26 458.37h0M1862.88 456.11h0M1864.91 456.1h0M1866.75 455.98h0M1868.44 455.24h0M1870.43 455.37h0M1872.22 454.56h0M1874.18 459.66h0M1876.01 458.64h0M1878.01 460.51h0M1880.1 463.86h0M1882.17 465.3h0M1884.17 463.42h0M1886.44 465.71h0M1888.8 467.49h0M1890.74 467.1h0M1892.67 469.03h0M1894.62 467.49h0M1897.16 465.37h0M1899.71 467.25h0M1901.81 465.36h0M1904.45 463.86h0M1906.59 466.39h0M1908.96 466.3h0M1911.36 468.86h0M1914.09 468.99h0M1916.22 469.11h0M1918.57 465.76h0M1921.17 469.32h0M1923.39 470.21h0M1925.77 472.47h0M1928.36 471.93h0M1931.35 471.88h0M1934.33 474.86h0M1937.46 473.89h0M1940.62 477.65h0M1943.82 476.99h0M1947.25 479.86h0M1950.61 480.51h0M1954.12 483.83h0M1957.3 481.87h0M1960.41 481.66h0M1964.23 481.68h0M1967.5 483.98h0M1971.7 479.77h0M1975.66 481.35h0M1979.4 481.22h0M1983.98 480.87h0M1987.72 480.6h0M1992.01 479.54h0M1995.86 481.82h0M2000.97 481.12h0M2005.7 479.27h0M2010.88 479.34h0M2015.45 479.89h0M2020.91 480.81h0M2026.38 488.05h0M2031.91 488.71h0M2038.1 490.61h0M2043.6 496.77h0M2049.26 494.71h0M2055.59 497.4h0M2062.41 503.84h0M2068.51 503.73h0M2075.47 506.44h0M2081.72 508.77h0M2088.89 509.53h0M2093.07 508.31h0" stroke="#0000ff" stroke-width="3.9" stroke-linecap="round" fill="none"/>
<polyline points="1590.4,175.27 1594.62,179.51 1598.84,183.84 1603.06,188.25 1607.28,192.75 1611.5,197.33 1615.73,201.98 1619.95,206.71 1624.17,211.51 1628.39,216.38 1632.61,221.32 1636.83,226.32 1641.05,231.37 1645.27,236.49 1649.49,241.66 1653.71,246.87 1657.94,252.14 1662.16,257.45 1666.38,262.82 1670.6,268.42 1674.82,274.24 1679.04,280.2 1683.26,286.24 1687.48,292.27 1691.7,298.23 1695.92,304.05 1700.15,309.65 1704.37,315.06 1708.59,320.47 1712.81,325.87 1717.03,331.26 1721.25,336.6 1725.47,341.89 1729.69,347.09 1733.91,352.2 1738.13,357.18 1742.36,362.03 1746.58,366.72 1750.8,371.23 1755.02,375.54 1759.24,379.64 1763.46,383.51 1767.68,387.24 1771.9,390.85 1776.12,394.34 1780.34,397.72 1784.57,400.99 1788.79,404.15 1793.01,407.21 1797.23,410.18 1801.45,413.05 1805.67,415.83 1809.89,418.53 1814.11,421.15 1818.33,423.75 1822.55,426.32 1826.77,428.87 1831,431.38 1835.22,433.84 1839.44,436.27 1843.66,438.64 1847.88,440.95 1852.1,443.2 1856.32,445.38 1860.54,447.49 1864.76,449.51 1868.98,451.45 1873.21,453.29 1877.43,455.04 1881.65,456.68 1885.87,458.22 1890.09,459.64 1894.31,461 1898.53,462.31 1902.75,463.57 1906.97,464.78 1911.19,465.94 1915.42,467.06 1919.64,468.14 1923.86,469.19 1928.08,470.2 1932.3,471.18 1936.52,472.14 1940.74,473.06 1944.96,473.97 1949.18,474.85 1953.4,475.72 1957.63,476.57 1961.85,477.41 1966.07,478.24 1970.29,479.06 1974.51,479.86 1978.73,480.64 1982.95,481.4 1987.17,482.15 1991.39,482.89 1995.61,483.6 1999.83,484.3 2004.06,484.99 2008.28,485.65 2012.5,486.31 2016.72,486.94 2020.94,487.56 2025.16,488.16 2029.38,488.75 2033.6,489.32 2037.82,489.87 2042.04,490.41 2046.27,490.94 2050.49,491.46 2054.71,491.96 2058.93,492.45 2063.15,492.93 2067.37,493.39 2071.59,493.84 2075.81,494.27 2080.03,494.69 2084.25,495.1 2088.48,495.48 2092.7,495.85" fill="none" stroke="#00ff00" stroke-width="3.2"/>
<polyline points="1590.4,129.52 1594.62,138 1598.84,146.38 1603.06,154.64 1607.28,162.76 1611.5,170.72 1615.73,178.52 1619.95,186.15 1624.17,193.7 1628.39,201.19 1632.61,208.61 1636.83,215.94 1641.05,223.15 1645.27,230.23 1649.49,237.16 1653.71,243.93 1657.94,250.52 1662.16,256.9 1666.38,263.08 1670.6,269.15 1674.82,275.14 1679.04,281.06 1683.26,286.9 1687.48,292.66 1691.7,298.35 1695.92,303.97 1700.15,309.5 1704.37,314.97 1708.59,320.36 1712.81,325.67 1717.03,330.91 1721.25,336.08 1725.47,341.18 1729.69,346.2 1733.91,351.15 1738.13,356.02 1742.36,360.83 1746.58,365.56 1750.8,370.22 1755.02,374.82 1759.24,379.34 1763.46,383.78 1767.68,388.07 1771.9,392.21 1776.12,396.25 1780.34,400.18 1784.57,404.05 1788.79,407.88 1793.01,411.68 1797.23,415.5 1801.45,419.34 1805.67,423.36 1809.89,427.37 1814.11,430.66 1818.33,433.42 1822.55,436.05 1826.77,438.56 1831,440.96 1835.22,443.26 1839.44,445.45 1843.66,447.55 1847.88,449.57 1852.1,451.5 1856.32,453.36 1860.54,455.14 1864.76,456.86 1868.98,458.52 1873.21,460.13 1877.43,461.7 1881.65,463.22 1885.87,464.71 1890.09,466.17 1894.31,467.62 1898.53,469.04 1902.75,470.45 1906.97,471.83 1911.19,473.18 1915.42,474.49 1919.64,475.77 1923.86,477.01 1928.08,478.21 1932.3,479.35 1936.52,480.45 1940.74,481.49 1944.96,482.46 1949.18,483.38 1953.4,484.22 1957.63,485 1961.85,485.7 1966.07,486.33 1970.29,486.92 1974.51,487.49 1978.73,488.02 1982.95,488.53 1987.17,489.01 1991.39,489.47 1995.61,489.91 1999.83,490.33 2004.06,490.73 2008.28,491.13 2012.5,491.51 2016.72,491.89 2020.94,492.26 2025.16,492.63 2029.38,492.99 2033.6,493.36 2037.82,493.74 2042.04,494.11 2046.27,494.47 2050.49,494.83 2054.71,495.18 2058.93,495.53 2063.15,495.86 2067.37,496.19 2071.59,496.52 2075.81,496.83 2080.03,497.14 2084.25,497.44 2088.48,497.73 2092.7,498.01" fill="none" stroke="#ff0000" stroke-width="1.2"/>
<rect x="1535.3" y="81.3" width="576" height="433.6" fill="none" stroke="#555555" stroke-width="1.25"/>
<line x1="1590.4" y1="514.9" x2="1590.4" y2="508.9" stroke="#555555" stroke-width="1.2"/>
<line x1="1590.4" y1="81.3" x2="1590.4" y2="87.3" stroke="#555555" stroke-width="1.2"/>
<line x1="1664.81" y1="514.9" x2="1664.81" y2="508.9" stroke="#555555" stroke-width="1.2"/>
<line x1="1664.81" y1="81.3" x2="1664.81" y2="87.3" stroke="#555555" stroke-width="1.2"/>
<line x1="1739.23" y1="514.9" x2="1739.23" y2="508.9" stroke="#555555" stroke-width="1.2"/>
<line x1="1739.23" y1="81.3" x2="1739.23" y2="87.3" stroke="#555555" stroke-width="1.2"/>
<line x1="1813.64" y1="514.9" x2="1813.64" y2="508.9" stroke="#555555" stroke-width="1.2"/>
<line x1="1813.64" y1="81.3" x2="1813.64" y2="87.3" stroke="#555555" stroke-width="1.2"/>
<line x1="1888.06" y1="514.9" x2="1888.06" y2="508.9" stroke="#555555" stroke-width="1.2"/>
<line x1="1888.06" y1="81.3" x2="1888.06" y2="87.3" stroke="#555555" stroke-width="1.2"/>
<line x1="1962.47" y1="514.9" x2="1962.47" y2="508.9" stroke="#555555" stroke-width="1.2"/>
<line x1="1962.47" y1="81.3" x2="1962.47" y2="87.3" stroke="#555555" stroke-width="1.2"/>
<line x1="2036.89" y1="514.9" x2="2036.89" y2="508.9" stroke="#555555" stroke-width="1.2"/>
<line x1="2036.89" y1="81.3" x2="2036.89" y2="87.3" stroke="#555555" stroke-width="1.2"/>
<line x1="2111.3" y1="514.9" x2="2111.3" y2="508.9" stroke="#555555" stroke-width="1.2"/>
<line x1="2111.3" y1="81.3" x2="2111.3" y2="87.3" stroke="#555555" stroke-width="1.2"/>
<line x1="1535.3" y1="514.9" x2="1541.3" y2="514.9" stroke="#555555" stroke-width="1.2"/>
<line x1="2111.3" y1="514.9" x2="2105.3" y2="514.9" stroke="#555555" stroke-width="1.2"/>
<line x1="1535.3" y1="428.18" x2="1541.3" y2="428.18" stroke="#555555" stroke-width="1.2"/>
<line x1="2111.3" y1="428.18" x2="2105.3" y2="428.18" stroke="#555555" stroke-width="1.2"/>
<line x1="1535.3" y1="341.46" x2="1541.3" y2="341.46" stroke="#555555" stroke-width="1.2"/>
<line x1="2111.3" y1="341.46" x2="2105.3" y2="341.46" stroke="#555555" stroke-width="1.2"/>
<line x1="1535.3" y1="254.74" x2="1541.3" y2="254.74" stroke="#555555" stroke-width="1.2"/>
<line x1="2111.3" y1="254.74" x2="2105.3" y2="254.74" stroke="#555555" stroke-width="1.2"/>
<line x1="1535.3" y1="168.02" x2="1541.3" y2="168.02" stroke="#555555" stroke-width="1.2"/>
<line x1="2111.3" y1="168.02" x2="2105.3" y2="168.02" stroke="#555555" stroke-width="1.2"/>
<line x1="1535.3" y1="81.3" x2="1541.3" y2="81.3" stroke="#555555" stroke-width="1.2"/>
<line x1="2111.3" y1="81.3" x2="2105.3" y2="81.3" stroke="#555555" stroke-width="1.2"/>
<text x="1590.4" y="553.9" font-size="29" fill="#262626" text-anchor="middle">40</text>
<text x="1664.81" y="553.9" font-size="29" fill="#262626" text-anchor="middle">60</text>
<text x="1739.23" y="553.9" font-size="29" fill="#262626" text-anchor="middle">80</text>
<text x="1813.64" y="553.9" font-size="29" fill="#262626" text-anchor="middle">100</text>
<text x="1888.06" y="553.9" font-size="29" fill="#262626" text-anchor="middle">120</text>
<text x="1962.47" y="553.9" font-size="29" fill="#262626" text-anchor="middle">140</text>
<text x="2036.89" y="553.9" font-size="29" fill="#262626" text-anchor="middle">160</text>
<text x="2111.3" y="553.9" font-size="29" fill="#262626" text-anchor="middle">180</text>
<text x="1525.2" y="526.6" font-size="29" fill="#262626" text-anchor="end">0</text>
<text x="1525.2" y="439.88" font-size="29" fill="#262626" text-anchor="end">20</text>
<text x="1525.2" y="353.16" font-size="29" fill="#262626" text-anchor="end">40</text>
<text x="1525.2" y="266.44" font-size="29" fill="#262626" text-anchor="end">60</text>
<text x="1525.2" y="179.72" font-size="29" fill="#262626" text-anchor="end">80</text>
<text x="1525.2" y="93" font-size="29" fill="#262626" text-anchor="end">100</text>
<text x="0" y="0" transform="translate(1465.4 299.6) rotate(-90)" font-size="30.5" fill="#262626" text-anchor="middle" textLength="266" lengthAdjust="spacingAndGlyphs">Steering angle θ (°)</text>
<text x="1821.6" y="592.5" font-size="30.5" fill="#262626" text-anchor="middle" textLength="227" lengthAdjust="spacingAndGlyphs">Distance d (mm)</text>
<defs><clipPath id="clp1"><rect x="1676.2" y="88.1" width="98.7" height="98.3"/></clipPath>
<linearGradient id="bgp1" x1="0" y1="0" x2="0" y2="1"><stop offset="0" stop-color="#a7a7a7"/><stop offset="0.5" stop-color="#999999"/><stop offset="1" stop-color="#858585"/></linearGradient>
<filter id="blp1" x="-30%" y="-30%" width="160%" height="160%"><feGaussianBlur stdDeviation="2.6"/></filter>
<filter id="bsp1" x="-30%" y="-30%" width="160%" height="160%"><feGaussianBlur stdDeviation="1.3"/></filter>
<filter id="bg2p1" x="-50%" y="-50%" width="200%" height="200%"><feGaussianBlur stdDeviation="3.5"/></filter>
</defs>
<g clip-path="url(#clp1)">
<rect x="1676.2" y="88.1" width="98.7" height="98.3" fill="url(#bgp1)" stroke="none" stroke-width="1"/>
<g filter="url(#blp1)">
<rect x="1656.2" y="137.25" width="81.19" height="41.29" rx="14" fill="#7e7e7e"/>
<path d="M1671.2,136.27 L1720.62,136.27 Q1735.42,137.25 1737.39,149.05" fill="none" stroke="#b0b0b0" stroke-width="3"/>
<rect x="1676.2" y="176.57" width="27.64" height="9.83" fill="#c6c6c6" stroke="none" stroke-width="1"/>
<rect x="1705.81" y="171.66" width="69.09" height="14.75" fill="#8a8a8a" stroke="none" stroke-width="1"/>
</g>
<g filter="url(#bsp1)">
<path d="M1673.2,169.69 C1720.62,166.74 1741.34,158.88 1747.76,140.2" fill="none" stroke="#333" stroke-width="8.5"/>
<rect x="1743.32" y="93.02" width="26.65" height="52.1" rx="7" fill="#e06070" opacity="0.35" filter="url(#bg2p1)"/>
<rect x="1746.28" y="95.96" width="20.73" height="44.24" rx="7" fill="#c41f32"/>
</g></g>
<defs><clipPath id="clp2"><rect x="1748.1" y="199.2" width="104.8" height="99.5"/></clipPath>
<linearGradient id="bgp2" x1="0" y1="0" x2="0" y2="1"><stop offset="0" stop-color="#a7a7a7"/><stop offset="0.5" stop-color="#999999"/><stop offset="1" stop-color="#858585"/></linearGradient>
<filter id="blp2" x="-30%" y="-30%" width="160%" height="160%"><feGaussianBlur stdDeviation="2.6"/></filter>
<filter id="bsp2" x="-30%" y="-30%" width="160%" height="160%"><feGaussianBlur stdDeviation="1.3"/></filter>
<filter id="bg2p2" x="-50%" y="-50%" width="200%" height="200%"><feGaussianBlur stdDeviation="3.5"/></filter>
</defs>
<g clip-path="url(#clp2)">
<rect x="1748.1" y="199.2" width="104.8" height="99.5" fill="url(#bgp2)" stroke="none" stroke-width="1"/>
<g filter="url(#blp2)">
<rect x="1728.1" y="248.95" width="84.98" height="41.79" rx="14" fill="#7e7e7e"/>
<path d="M1743.1,247.95 L1795.26,247.95 Q1810.98,248.95 1813.08,260.89" fill="none" stroke="#b0b0b0" stroke-width="3"/>
<rect x="1748.1" y="288.75" width="29.34" height="9.95" fill="#c6c6c6" stroke="none" stroke-width="1"/>
<rect x="1779.54" y="283.77" width="73.36" height="14.92" fill="#8a8a8a" stroke="none" stroke-width="1"/>
</g>
<g filter="url(#bsp2)">
<path d="M1745.1,269.84 C1790.02,270.84 1813.08,266.86 1820.41,254.92" fill="none" stroke="#333" stroke-width="8.5"/>
<g transform="translate(1837.7 217.11) rotate(29)"><rect x="-12" y="-4" width="24" height="50" rx="7" fill="#e06070" opacity="0.35" filter="url(#bg2p2)"/><rect x="-8.5" y="0" width="17" height="42" rx="6" fill="#c41f32"/></g>
</g></g>
<defs><clipPath id="clp3"><rect x="1835.2" y="325.2" width="101.7" height="105.6"/></clipPath>
<linearGradient id="bgp3" x1="0" y1="0" x2="0" y2="1"><stop offset="0" stop-color="#9d9d9d"/><stop offset="0.55" stop-color="#8c8c8c"/><stop offset="1" stop-color="#767676"/></linearGradient>
<filter id="blp3" x="-30%" y="-30%" width="160%" height="160%"><feGaussianBlur stdDeviation="2.6"/></filter>
<filter id="bsp3" x="-30%" y="-30%" width="160%" height="160%"><feGaussianBlur stdDeviation="1.3"/></filter>
<filter id="bg2p3" x="-50%" y="-50%" width="200%" height="200%"><feGaussianBlur stdDeviation="3.5"/></filter>
</defs>
<g clip-path="url(#clp3)">
<rect x="1835.2" y="325.2" width="101.7" height="105.6" fill="url(#bgp3)" stroke="none" stroke-width="1"/>
<g filter="url(#blp3)">
<ellipse cx="1845.37" cy="372.72" rx="15.26" ry="15.84" fill="#767676"/>
<rect x="1843.34" y="397.01" width="8.14" height="33.79" fill="#a2a2a2" stroke="none" stroke-width="1"/>
</g>
<g filter="url(#bsp3)">
<path d="M1832.2,398.06 C1865.71,398.06 1886.05,397.01 1896.22,389.62" fill="none" stroke="#333" stroke-width="8"/>
<g transform="translate(1932.5 358.5) rotate(51)"><rect x="-12" y="-4" width="24" height="52" rx="6" fill="#e06070" opacity="0.35" filter="url(#bg2p3)"/><rect x="-9" y="0" width="18" height="47" rx="5" fill="#c41f32"/></g>
</g></g>
<defs><clipPath id="clp4"><rect x="2004.2" y="366.1" width="101.7" height="99.8"/></clipPath>
<linearGradient id="bgp4" x1="0" y1="0" x2="0" y2="1"><stop offset="0" stop-color="#8b8b8b"/><stop offset="0.4" stop-color="#959595"/><stop offset="0.6" stop-color="#8a8a8a"/><stop offset="1" stop-color="#6d6d6d"/></linearGradient>
<filter id="blp4" x="-30%" y="-30%" width="160%" height="160%"><feGaussianBlur stdDeviation="2.6"/></filter>
<filter id="bsp4" x="-30%" y="-30%" width="160%" height="160%"><feGaussianBlur stdDeviation="1.3"/></filter>
<filter id="bg2p4" x="-50%" y="-50%" width="200%" height="200%"><feGaussianBlur stdDeviation="3.5"/></filter>
</defs>
<g clip-path="url(#clp4)">
<rect x="2004.2" y="366.1" width="101.7" height="99.8" fill="url(#bgp4)" stroke="none" stroke-width="1"/>
<g filter="url(#blp4)">
<rect x="2006.23" y="423.98" width="7.12" height="41.92" fill="#9a9a9a" stroke="none" stroke-width="1"/>
<rect x="2024.54" y="398.04" width="81.36" height="9.98" fill="#9c9c9c" stroke="none" stroke-width="1" opacity="0.7"/>
</g>
<g filter="url(#bsp4)">
<path d="M2001.2,419.49 L2061.15,419.49" fill="none" stroke="#333" stroke-width="8.5"/>
<rect x="2055.05" y="406.02" width="47.8" height="27.94" rx="8" fill="#e06070" opacity="0.35" filter="url(#bg2p4)"/>
<rect x="2058.1" y="410.01" width="42.71" height="18.96" rx="8" fill="#c91d3a"/>
</g></g>
<line x1="1599.4" y1="125.1" x2="1676.2" y2="125.1" stroke="#000" stroke-width="2.6"/>
<path d="M1587.4,125.1 L1600.4,118.6 L1600.4,131.6 Z" fill="#000"/>
<line x1="1676.8" y1="260.3" x2="1745.5" y2="260.3" stroke="#000" stroke-width="2.6"/>
<path d="M1664.8,260.3 L1677.8,253.8 L1677.8,266.8 Z" fill="#000"/>
<line x1="1766.6" y1="385.8" x2="1835.2" y2="385.8" stroke="#000" stroke-width="2.6"/>
<path d="M1754.6,385.8 L1767.6,379.3 L1767.6,392.3 Z" fill="#000"/>
<line x1="2087.7" y1="465.9" x2="2087.7" y2="497" stroke="#000" stroke-width="2.6"/>
<path d="M2087.7,509.6 L2081.2,496.6 L2094.2,496.6 Z" fill="#000"/>
<line x1="1757.1" y1="95.1" x2="1757.1" y2="173.3" stroke="#000" stroke-width="2.4"/>
<line x1="1755.9" y1="173.3" x2="1809.7" y2="173.3" stroke="#000" stroke-width="2.4"/>
<path d="M1791.9,172.3 C1791,152 1781,134 1761,128.6" fill="none" stroke="#000" stroke-width="2"/>
<path d="M1758.5,128.2 L1771,121.5 L1767,128.8 L1769.5,136.5 Z" fill="#000"/>
<text x="1785" y="138" font-size="29" fill="#000" font-style="italic" font-family="Liberation Serif">θ</text>
<text x="1815.2" y="150.6" font-size="25" fill="#000" textLength="36" lengthAdjust="spacingAndGlyphs">90°</text>
<text x="1857.3" y="256.3" font-size="25" fill="#000" textLength="36" lengthAdjust="spacingAndGlyphs">60°</text>
<text x="1910.8" y="310.3" font-size="25" fill="#000" textLength="36" lengthAdjust="spacingAndGlyphs">30°</text>
<text x="2044.6" y="351" font-size="25" fill="#000" textLength="22.5" lengthAdjust="spacingAndGlyphs">0°</text>
<rect x="1912.5" y="96.1" width="184.2" height="107.2" fill="#fff" stroke="#707070" stroke-width="1.3"/>
<circle cx="1945.3" cy="115.5" r="2" fill="#0000ff"/>
<line x1="1918.3" y1="149" x2="1971.8" y2="149" stroke="#ff0000" stroke-width="1.2"/>
<line x1="1918.3" y1="183.6" x2="1971.8" y2="183.6" stroke="#00ff00" stroke-width="3.2"/>
<text x="1975.2" y="126.9" font-size="25" fill="#000" textLength="42.5" lengthAdjust="spacingAndGlyphs">Exp</text>
<text x="1975.2" y="161" font-size="25" fill="#000" textLength="112.5" lengthAdjust="spacingAndGlyphs">Exp-fitting</text>
<text x="1975.2" y="194.5" font-size="25" fill="#000" textLength="42.5" lengthAdjust="spacingAndGlyphs">Sim</text>
<text x="29.5" y="619.7" font-size="37.5" fill="#000">(d)</text>
<path d="M220.25 848.08h0M220.63 846.69h0M221.04 848.38h0M221.43 847.91h0M221.77 849.3h0M222.12 849.24h0M222.53 850.51h0M222.84 850.19h0M223.25 849.92h0M223.66 851.37h0M224.03 850.61h0M224.39 851.3h0M224.74 852.29h0M225.09 852.35h0M225.46 852.68h0M225.84 852.84h0M226.23 853.44h0M226.67 853.99h0M227.09 854.12h0M227.49 854.84h0M227.94 855.38h0M228.29 855.11h0M228.64 854.99h0M229.05 856.52h0M229.39 856.09h0M229.73 856.72h0M230.13 857.24h0M230.52 856.72h0M230.97 857.78h0M231.38 857.2h0M231.78 858.65h0M232.18 858.46h0M232.56 859.09h0M232.9 859.66h0M233.27 859.35h0M233.7 860.09h0M234.07 860.06h0M234.47 860.73h0M234.82 861.54h0M235.27 861.47h0M235.64 861.73h0M236.03 861.64h0M236.49 862.95h0M236.91 862.9h0M237.37 864.12h0M237.81 863.37h0M238.27 864.6h0M238.64 865.28h0M239.07 864.82h0M239.5 864.64h0M239.97 866.31h0M240.38 866.46h0M240.83 866.69h0M241.2 867.2h0M241.62 866.84h0M242.03 867.77h0M242.42 868.07h0M242.9 867.86h0M243.33 868.86h0M243.83 868.73h0M244.28 869.79h0M244.74 870.3h0M245.2 871h0M245.68 869.63h0M246.08 871.02h0M246.52 871.13h0M246.93 871.61h0M247.37 871.9h0M247.77 872.29h0M248.29 871.84h0M248.71 873.6h0M249.19 874.26h0M249.63 874.36h0M250.14 874.95h0M250.63 874.36h0M251.04 874.67h0M251.55 875.95h0M252.08 876.6h0M252.61 876.54h0M253.09 876.11h0M253.52 878.47h0M253.95 877.23h0M254.48 878.44h0M254.97 877.83h0M255.4 879.2h0M255.94 879.26h0M256.44 880.26h0M256.94 880.41h0M257.4 879.66h0M257.88 880.32h0M258.33 881.27h0M258.75 881.84h0M259.3 882.77h0M259.79 882.45h0M260.29 882.68h0M260.76 883.08h0M261.3 883.52h0M261.73 884.35h0M262.21 884.24h0M262.64 884.57h0M263.09 884.29h0M263.67 884.47h0M264.2 885.86h0M264.7 886.55h0M265.22 886.63h0M265.79 887.34h0M266.28 887.79h0M266.81 887.88h0M267.36 888.78h0M267.86 888.38h0M268.38 889.13h0M268.95 889.4h0M269.54 890.07h0M270.01 890.7h0M270.61 891.27h0M271.06 891.28h0M271.64 891.87h0M272.22 891.95h0M272.7 892.43h0M273.22 893.48h0M273.82 893.25h0M274.28 894.28h0M274.84 894.36h0M275.44 894.66h0M275.99 895.93h0M276.57 895.34h0M277.08 895.69h0M277.58 896.22h0M278.12 896.75h0M278.62 897.1h0M279.15 897.79h0M279.79 897.93h0M280.36 898.49h0M280.9 898.58h0M281.43 899.59h0M282.07 899.38h0M282.63 899.84h0M283.28 900.46h0M283.86 901.02h0M284.44 900.97h0M285.09 902.49h0M285.71 901.92h0M286.31 902.45h0M286.88 902.83h0M287.53 903.24h0M288.1 904.13h0M288.77 904.4h0M289.28 904.33h0M289.86 904.82h0M290.46 905.34h0M291.14 906.62h0M291.7 906.01h0M292.35 906.15h0M292.99 906.65h0M293.63 907.46h0M294.27 908.73h0M294.96 908h0M295.55 908.91h0M296.14 910.44h0M296.7 909.42h0M297.24 910.67h0M297.81 910.95h0M298.51 911.1h0M299.19 910.64h0M299.75 911.79h0M300.4 911.92h0M301.02 911.63h0M301.67 912.13h0M302.34 913.39h0M302.94 913.86h0M303.67 914.83h0M304.3 914.99h0M304.97 914.91h0M305.64 915.38h0M306.23 915.92h0M306.8 915.88h0M307.43 917.17h0M308.14 917.31h0M308.86 917.43h0M309.56 917.99h0M310.15 918.17h0M310.89 919.01h0M311.62 919.86h0M312.36 920.06h0M313.04 921.19h0M313.79 922.03h0M314.38 921.38h0M314.96 922.1h0M315.54 922.34h0M316.17 923.75h0M316.8 923.56h0M317.42 924.12h0M318.13 924.75h0M318.72 925.84h0M319.43 925.43h0M320.06 925.29h0M320.79 926.06h0M321.39 926.96h0M322.05 927.15h0M322.85 927.35h0M323.56 929.55h0M324.33 928.85h0M325.08 929.06h0M325.81 929.52h0M326.46 929.5h0M327.2 930.3h0M327.82 931.14h0M328.61 931.71h0M329.43 932.07h0M330.24 933.28h0M330.87 933.49h0M331.57 933.54h0M332.26 933.53h0M332.91 935.01h0M333.68 935.5h0M334.49 935.96h0M335.19 935.91h0M336.02 937.15h0M336.83 937.01h0M337.5 938.64h0M338.32 938.84h0M339.16 939.43h0M339.85 939.44h0M340.63 939.86h0M341.43 941.64h0M342.22 941.9h0M342.9 941.76h0M343.71 942.79h0M344.52 943.76h0M345.37 943.11h0M346.22 943.94h0M346.96 944.44h0M347.8 945.46h0M348.68 945.32h0M349.56 946.52h0M350.28 946.34h0M350.96 947.75h0M351.8 948.26h0M352.53 948.23h0M353.35 949.19h0M354.27 949.11h0M355.05 949.8h0M355.8 950.83h0M356.6 950.86h0M357.46 951.59h0M358.18 951.44h0M358.98 952.67h0M359.71 953.03h0M360.58 952.77h0M361.5 952.84h0M362.3 953.44h0M363.11 954.86h0M363.96 955.3h0M364.73 955.13h0M365.51 956.4h0M366.31 957.29h0M367.15 957.27h0M367.9 957.55h0M368.82 958.71h0M369.7 959.62h0M370.51 960h0M371.26 959.43h0M372.2 960.66h0M372.97 960.82h0M373.75 961.1h0M374.53 961.36h0M375.3 962.26h0M376.28 962.42h0M377.11 963.56h0M377.94 963.78h0M378.92 964.66h0M379.84 964.15h0M380.66 965.16h0M381.54 966h0M382.54 966.37h0M383.41 966.8h0M384.38 966.89h0M385.18 968.43h0M386.16 968.71h0M387.17 968.94h0M388.19 968.11h0M389.19 969.4h0M390.1 970.4h0M390.93 970.46h0M391.9 970.34h0M392.95 971.99h0M393.84 972.53h0M394.76 972.26h0M395.77 973.13h0M396.85 973.61h0M397.98 974.77h0M398.89 974.07h0M399.82 974.66h0M400.95 975.78h0M402.04 976.29h0M403.16 978.16h0M404.39 977.51h0M405.6 978.52h0M406.79 978.82h0M407.98 979.28h0M409.04 980.3h0M410.2 981.51h0M411.22 981.01h0M412.43 982.12h0M413.66 982.5h0M414.88 983.19h0M416.02 983.58h0M417.14 985.02h0M418.29 983.83h0M419.31 984.72h0M420.62 984.85h0M421.84 984.94h0M423.01 986.35h0M424.25 987.73h0M425.56 987.82h0M426.76 988.45h0M428.14 988.66h0M429.56 988.95h0M430.79 990.43h0M431.94 989.75h0M433.33 991.18h0M434.83 990.89h0M436.01 991.54h0M437.42 992.17h0M438.88 992.6h0M440.4 993.39h0M441.61 993.87h0M442.81 994.83h0M444.4 994.61h0M445.63 994.16h0M446.9 994.54h0M448.34 995.37h0M449.74 996.16h0M451.29 997.35h0M452.6 996.79h0M454.24 998.06h0M455.59 998.52h0M457.19 999.16h0M458.49 999.4h0M459.98 1000.14h0M461.29 1000.39h0M462.73 1001.33h0M464.18 1001.44h0M465.84 1000.68h0M467.38 1002.28h0M468.75 1002.77h0M470.57 1002.94h0M472.36 1003.38h0M474.18 1004.77h0M475.69 1004.76h0M477.28 1004.67h0M478.81 1005.39h0M480.31 1005.87h0M481.78 1005.58h0M483.5 1007.1h0M485.05 1007.15h0M486.64 1007.85h0M488.62 1007.4h0M490.42 1009.51h0M492.07 1009.32h0M494.02 1009.75h0M495.77 1009.61h0M497.68 1010.12h0M499.48 1010.18h0M501.43 1012.08h0M503.47 1011.46h0M505.49 1012.43h0M507.45 1013.07h0M509.67 1013.01h0M511.97 1014.24h0M513.87 1015.22h0M515.76 1014.83h0M517.66 1015.79h0M520.15 1015.92h0M522.64 1015.97h0M524.69 1016.43h0M527.27 1016.36h0M529.36 1017.64h0M531.69 1018.74h0M534.03 1018.84h0M536.7 1019.43h0M538.78 1019.97h0M541.08 1019.61h0M543.62 1020.59h0M545.79 1021.62h0M548.12 1020.75h0M550.65 1021.58h0M553.58 1021.84h0M556.49 1022.44h0M559.55 1022.68h0M562.64 1023.44h0M565.77 1023.35h0M569.12 1024.24h0M572.41 1024.74h0M575.84 1025.22h0M578.94 1026.55h0M581.99 1026.36h0M585.71 1026.9h0M588.92 1027.1h0M593.03 1028.38h0M596.89 1027.44h0M600.55 1028.62h0M605.03 1029.79h0M608.69 1030.46h0M612.88 1030.26h0M616.64 1030.59h0M621.64 1031.44h0M626.26 1031.54h0M631.33 1032.42h0M635.79 1032.31h0M641.13 1033.45h0M646.48 1033.65h0M651.89 1033.68h0M657.93 1033.48h0M663.32 1035.68h0M668.85 1035.91h0M675.04 1036.63h0M681.7 1036.4h0M687.67 1037.8h0M694.47 1037.99h0M700.59 1038.21h0M707.59 1039.14h0M711.68 1039.39h0" stroke="#0000ff" stroke-width="4.3" stroke-linecap="round" fill="none"/>
<polyline points="220.25,854.84 220.63,860.32 221.04,857.38 221.43,858.85 221.77,859.03 222.12,859.09 222.53,861.48 222.84,859.78 223.25,860.86 223.66,856.56 224.03,860.36 224.39,861.34 224.74,861.58 225.09,862.34 225.46,863.11 225.84,862.72 226.23,862.1 226.67,863.31 227.09,862.36 227.49,864.02 227.94,864.18 228.29,862.8 228.64,864.24 229.05,865.78 229.39,865.73 229.73,865.23 230.13,864.04 230.52,866.86 230.97,867.24 231.38,866.22 231.78,868.69 232.18,868.39 232.56,867.42 232.9,868.07 233.27,868.95 233.7,868.69 234.07,872.93 234.47,868.99 234.82,871.52 235.27,872.71 235.64,870.87 236.03,870.75 236.49,872.44 236.91,873.52 237.37,872.7 237.81,873.18 238.27,871.96 238.64,873.02 239.07,874.02 239.5,873.38 239.97,875.27 240.38,876.44 240.83,875.14 241.2,875.47 241.62,876.73 242.03,877.73 242.42,876.94 242.9,880.4 243.33,877.22 243.83,877.88 244.28,880.65 244.74,879.15 245.2,880.7 245.68,879.19 246.08,882.65 246.52,881.79 246.93,880.33 247.37,880.21 247.77,884.26 248.29,882.85 248.71,882.28 249.19,883.74 249.63,881.66 250.14,885.2 250.63,883.89 251.04,885.81 251.55,883.5 252.08,885.54 252.61,886.38 253.09,888.29 253.52,884.85 253.95,886.25 254.48,886.69 254.97,886.67 255.4,887.91 255.94,889.46 256.44,890.06 256.94,890.47 257.4,888.43 257.88,891.98 258.33,891.39 258.75,891.43 259.3,891.26 259.79,891.27 260.29,893.72 260.76,894.63 261.3,893.14 261.73,892.13 262.21,893.03 262.64,893.98 263.09,894.93 263.67,894.71 264.2,895.73 264.7,894.95 265.22,897.15 265.79,896.57 266.28,897.23 266.81,896.91 267.36,897.7 267.86,895.49 268.38,897.07 268.95,897.51 269.54,901.92 270.01,900.38 270.61,901.14 271.06,900.21 271.64,903.79 272.22,900.38 272.7,900.86 273.22,903.91 273.82,904 274.28,904.15 274.84,903.63 275.44,903.41 275.99,902.25 276.57,905.2 277.08,904.5 277.58,905.56 278.12,904.16 278.62,905.67 279.15,905.37 279.79,908.57 280.36,908 280.9,909.09 281.43,906.89 282.07,908.31 282.63,909.79 283.28,910.44 283.86,909.81 284.44,911.56 285.09,912.28 285.71,911.15 286.31,909.37 286.88,912.81 287.53,913.62 288.1,914.72 288.77,915.38 289.28,913.67 289.86,913.72 290.46,915.09 291.14,915.21 291.7,915.84 292.35,916.28 292.99,918.59 293.63,917.85 294.27,917.66 294.96,919.15 295.55,919.21 296.14,920.01 296.7,919.86 297.24,918.91 297.81,920.71 298.51,920.91 299.19,920.31 299.75,920.88 300.4,920.16 301.02,924.82 301.67,921.97 302.34,923.92 302.94,923.65 303.67,923.36 304.3,923.52 304.97,924.02 305.64,925.47 306.23,924.24 306.8,926.74 307.43,927.01 308.14,926.44 308.86,928.43 309.56,925.88 310.15,927.55 310.89,926.75 311.62,929.7 312.36,930.6 313.04,930.43 313.79,930.3 314.38,932.17 314.96,931.48 315.54,932.31 316.17,930.9 316.8,933.86 317.42,932.37 318.13,934.72 318.72,935.47 319.43,935.65 320.06,936.6 320.79,935.59 321.39,935 322.05,936.4 322.85,936.41 323.56,935.75 324.33,937.78 325.08,938.35 325.81,939.35 326.46,941.27 327.2,939.1 327.82,942.31 328.61,940.14 329.43,941.42 330.24,940.67 330.87,942.41 331.57,943.7 332.26,942.84 332.91,944.28 333.68,944.35 334.49,944.63 335.19,945.28 336.02,945.87 336.83,947.12 337.5,946.83 338.32,949.53 339.16,947.87 339.85,949.47 340.63,947.39 341.43,947.73 342.22,951.84 342.9,949.93 343.71,950.75 344.52,952.3 345.37,951.09 346.22,952.74 346.96,954.68 347.8,953.54 348.68,953.97 349.56,954.25 350.28,956.2 350.96,954.58 351.8,954.99 352.53,957.56 353.35,957.54 354.27,957.48 355.05,958.53 355.8,956.43 356.6,958.66 357.46,960.57 358.18,960.79 358.98,960.48 359.71,958.32 360.58,961.64 361.5,961.88 362.3,961.96 363.11,963.09 363.96,961.03 364.73,964.66 365.51,963.73 366.31,964.89 367.15,964.91 367.9,967.38 368.82,964.67 369.7,967.33 370.51,967.67 371.26,969.22 372.2,969.58 372.97,968.61 373.75,968.63 374.53,969.37 375.3,969.34 376.28,970.5 377.11,971.77 377.94,971.39 378.92,972.26 379.84,973.6 380.66,973.18 381.54,973.09 382.54,974.88 383.41,976.07 384.38,975.45 385.18,974.62 386.16,977.57 387.17,978.04 388.19,978.71 389.19,977.79 390.1,981.75 390.93,979.79 391.9,979.45 392.95,982.31 393.84,980.26 394.76,981.87 395.77,983.68 396.85,983.47 397.98,986.07 398.89,985.52 399.82,983.39 400.95,987.09 402.04,984.68 403.16,987.51 404.39,987.04 405.6,988.83 406.79,992.11 407.98,990.95 409.04,990.74 410.2,992.91 411.22,993.72 412.43,992.49 413.66,994.31 414.88,996.13 416.02,995.59 417.14,994.42 418.29,996.46 419.31,995.35 420.62,995.25 421.84,997.43 423.01,999.21 424.25,999.9 425.56,999 426.76,998.46 428.14,999.67 429.56,999.9 430.79,1001.47 431.94,1001.06 433.33,1002.42 434.83,1002.79 436.01,1004.28 437.42,1005.08 438.88,1004.36 440.4,1005.57 441.61,1005.8 442.81,1004.37 444.4,1005.75 445.63,1002.76 446.9,1005.38 448.34,1007.56 449.74,1006.42 451.29,1007.35 452.6,1008.91 454.24,1007.39 455.59,1009.88 457.19,1012.89 458.49,1008.97 459.98,1010.97 461.29,1008.99 462.73,1011.78 464.18,1012.78 465.84,1010.19 467.38,1013.54 468.75,1012.49 470.57,1011.6 472.36,1013.59 474.18,1014.31 475.69,1014.52 477.28,1014.13 478.81,1016.39 480.31,1015.23 481.78,1015.67 483.5,1014.19 485.05,1017.61 486.64,1018.7 488.62,1017.41 490.42,1019.18 492.07,1018.88 494.02,1019.61 495.77,1018.94 497.68,1021.51 499.48,1021.38 501.43,1024.67 503.47,1023.38 505.49,1021.23 507.45,1024.24 509.67,1024.86 511.97,1026.05 513.87,1024.55 515.76,1025.5 517.66,1027.51 520.15,1026.08 522.64,1027.16 524.69,1027.11 527.27,1029.29 529.36,1027.12 531.69,1029.14 534.03,1030.25 536.7,1031.28 538.78,1031.41 541.08,1030.65 543.62,1032.4 545.79,1031.31 548.12,1032.28 550.65,1031.86 553.58,1032.92 556.49,1034.34 559.55,1036.82 562.64,1034.77 565.77,1034.62 569.12,1035.73 572.41,1035.67 575.84,1037.21 578.94,1037.44 581.99,1038.39 585.71,1036.2 588.92,1037.85 593.03,1038.97 596.89,1040.26 600.55,1039.27 605.03,1037.88 608.69,1039.29 612.88,1040.97 616.64,1038.88 621.64,1039.31 626.26,1040.2 631.33,1040.86 635.79,1040.85 641.13,1042.01 646.48,1042.23 651.89,1044.45 657.93,1042.43 663.32,1044.31 668.85,1042.78 675.04,1047.85 681.7,1045.33 687.67,1045.51 694.47,1047.54 700.59,1047.14 707.59,1047.35 711.68,1047.86" fill="none" stroke="#00ff00" stroke-width="3" stroke-linejoin="round"/>
<polyline points="220.25,962.73 220.63,955.36 221.04,957.03 221.43,957.94 221.77,928.63 222.12,965.3 222.53,960.29 222.84,942.69 223.25,954.41 223.66,958.38 224.03,951.08 224.39,944.03 224.74,934.58 225.09,918.25 225.46,924.8 225.84,947.98 226.23,946.79 226.67,948.76 227.09,958.45 227.49,919.37 227.94,967.79 228.29,960.31 228.64,935.26 229.05,939.23 229.39,956.27 229.73,920.18 230.13,949.1 230.52,938.86 230.97,966.56 231.38,922.71 231.78,965.9 232.18,949.95 232.56,923 232.9,919.74 233.27,921.99 233.7,926.18 234.07,958.76 234.47,969.8 234.82,946.78 235.27,968.09 235.64,918.89 236.03,971.1 236.49,953.71 236.91,960.4 237.37,970.8 237.81,944.19 238.27,967.38 238.64,922.21 239.07,933.85 239.5,951.26 239.97,925.41 240.38,927.86 240.83,953.65 241.2,925.1 241.62,920.6 242.03,937.56 242.42,952.26 242.9,922.18 243.33,919.86 243.83,952.51 244.28,966.82 244.74,923.97 245.2,935.1 245.68,958.83 246.08,940.47 246.52,954.65 246.93,921.16 247.37,952.79 247.77,960.79 248.29,969.18 248.71,952.77 249.19,917.3 249.63,959.58 250.14,946.44 250.63,918.25 251.04,971.18 251.55,955.37 252.08,926.53 252.61,966.3 253.09,920.66 253.52,925.8 253.95,963.71 254.48,939.07 254.97,941.09 255.4,933.52 255.94,954.73 256.44,950.49 256.94,958.35 257.4,955.55 257.88,961.92 258.33,921.97 258.75,922.9 259.3,951.81 259.79,933.54 260.29,944.67 260.76,956.16 261.3,952.38 261.73,918.64 262.21,952.83 262.64,939.82 263.09,919.73 263.67,955.23 264.2,927.2 264.7,965.3 265.22,931.35 265.79,927.32 266.28,925.64 266.81,918.09 267.36,932.57 267.86,917.97 268.38,956.29 268.95,942.96 269.54,959.81 270.01,966.97 270.61,947.49 271.06,932.09 271.64,928.87 272.22,970.62 272.7,919.89 273.22,958 273.82,955.53 274.28,925.91 274.84,922.52 275.44,931.17 275.99,953.3 276.57,946.17 277.08,925.79 277.58,951.96 278.12,927.4 278.62,928.68 279.15,945.86 279.79,922.4 280.36,950.47 280.9,930.44 281.43,936.48 282.07,953.39 282.63,942.39 283.28,938.32 283.86,942.12 284.44,965.48 285.09,917.19 285.71,918.56 286.31,969.5 286.88,919.78 287.53,942.41 288.1,964.66 288.77,926.56 289.28,947.81 289.86,932.45 290.46,926.2 291.14,942.05 291.7,968.83 292.35,926.46 292.99,933.5 293.63,921.65 294.27,956.74 294.96,928.5 295.55,923.68 296.14,952.08 296.7,949.06 297.24,953.24 297.81,971.24 298.51,958.85 299.19,953.37 299.75,965.61 300.4,929.58 301.02,948.14 301.67,940.4 302.34,955.95 302.94,951.79 303.67,930.25 304.3,945.79 304.97,938.85 305.64,948.38 306.23,941.01 306.8,922.35 307.43,956.89 308.14,943.09 308.86,933.87 309.56,966.79 310.15,918.81 310.89,944.21 311.62,958.1 312.36,929.86 313.04,926.84 313.79,936.98 314.38,921.32 314.96,966.68 315.54,942.62 316.17,930.82 316.8,921.29 317.42,936.38 318.13,938.53 318.72,950.27 319.43,940.21 320.06,941.13 320.79,921.93 321.39,926.2 322.05,931.13 322.85,920.9 323.56,967.92 324.33,929.36 325.08,946.13 325.81,930.33 326.46,955.31 327.2,945.93 327.82,926.34 328.61,969.62 329.43,955.59 330.24,944.77 330.87,924.87 331.57,956.75 332.26,926.42 332.91,958.14 333.68,954.93 334.49,941.19 335.19,935.7 336.02,923.3 336.83,923.33 337.5,957.83 338.32,930.67 339.16,936.74 339.85,950.38 340.63,929 341.43,922.34 342.22,945.28 342.9,921.32 343.71,964.55 344.52,962.44 345.37,929.65 346.22,954.8 346.96,939.46 347.8,944.3 348.68,963.56 349.56,930.2 350.28,930.9 350.96,963.59 351.8,957.31 352.53,927.66 353.35,921.54 354.27,923.85 355.05,944.04 355.8,951.41 356.6,947.14 357.46,961.88 358.18,944.36 358.98,958.89 359.71,962.67 360.58,950.68 361.5,968.04 362.3,945.76 363.11,933.38 363.96,935.84 364.73,918.08 365.51,922.99 366.31,936.8 367.15,922.34 367.9,947.18 368.82,927.75 369.7,955.95 370.51,942.67 371.26,917.83 372.2,938.72 372.97,943.77 373.75,928.39 374.53,954.43 375.3,925.99 376.28,970.53 377.11,958.49 377.94,961.83 378.92,957.44 379.84,919.71 380.66,970.24 381.54,955.17 382.54,940.06 383.41,933 384.38,929.13 385.18,950.54 386.16,959.48 387.17,924.82 388.19,964.86 389.19,967.99 390.1,958.85 390.93,944.54 391.9,919.9 392.95,931.59 393.84,940.63 394.76,942.97 395.77,933.53 396.85,937.2 397.98,953.11 398.89,966.47 399.82,960.53 400.95,928.64 402.04,936.77 403.16,927.84 404.39,969.11 405.6,922.16 406.79,950.59 407.98,920.77 409.04,938.96 410.2,941.54 411.22,926.7 412.43,937.26 413.66,934.57 414.88,962.91 416.02,938.41 417.14,952 418.29,967.41 419.31,964.25 420.62,945.25 421.84,957.16 423.01,929.59 424.25,964.84 425.56,970.79 426.76,916.89 428.14,954.39 429.56,943.6 430.79,960.03 431.94,960.1 433.33,949.49 434.83,928.25 436.01,969.41 437.42,925.64 438.88,917.26 440.4,940.89 441.61,951.81 442.81,958.72 444.4,961.52 445.63,953.82 446.9,924.86 448.34,971.37 449.74,928.46 451.29,934.96 452.6,970.51 454.24,967.74 455.59,931.25 457.19,934.64 458.49,954.36 459.98,924.33 461.29,960.03 462.73,948.14 464.18,965.24 465.84,936.15 467.38,966.78 468.75,961.71 470.57,929.53 472.36,944.12 474.18,935.26 475.69,931.31 477.28,938.3 478.81,960.71 480.31,933.26 481.78,965.19 483.5,956.76 485.05,946.98 486.64,965.28 488.62,965.74 490.42,935.79 492.07,930.87 494.02,951.23 495.77,950.18 497.68,960.17 499.48,942.95 501.43,939.73 503.47,920.37 505.49,969.33 507.45,921.73 509.67,917.24 511.97,952.56 513.87,931.76 515.76,926.33 517.66,935.85 520.15,955.71 522.64,937.4 524.69,923.47 527.27,965.68 529.36,945.24 531.69,970.31 534.03,925.23 536.7,928.87 538.78,969.03 541.08,930.66 543.62,933.64 545.79,964.63 548.12,942.76 550.65,933.76 553.58,953.16 556.49,943.92 559.55,918.04 562.64,936.7 565.77,944.03 569.12,967.93 572.41,964.91 575.84,924.91 578.94,930.84 581.99,925.77 585.71,939.86 588.92,939.97 593.03,942.46 596.89,931.25 600.55,953.45 605.03,944.32 608.69,945.79 612.88,935.28 616.64,959.7 621.64,970.18 626.26,966.69 631.33,961.72 635.79,924.55 641.13,932.25 646.48,930.43 651.89,947.2 657.93,965.92 663.32,946.04 668.85,924.24 675.04,943.64 681.7,936.91 687.67,951.03 694.47,963.32 700.59,937.2 707.59,944.96 711.68,952.6" fill="none" stroke="#d95319" stroke-width="1"/>
<path d="M220.25 962.73h0M220.63 955.36h0M221.04 957.03h0M221.43 957.94h0M221.77 928.63h0M222.12 965.3h0M222.53 960.29h0M222.84 942.69h0M223.25 954.41h0M223.66 958.38h0M224.03 951.08h0M224.39 944.03h0M224.74 934.58h0M225.09 918.25h0M225.46 924.8h0M225.84 947.98h0M226.23 946.79h0M226.67 948.76h0M227.09 958.45h0M227.49 919.37h0M227.94 967.79h0M228.29 960.31h0M228.64 935.26h0M229.05 939.23h0M229.39 956.27h0M229.73 920.18h0M230.13 949.1h0M230.52 938.86h0M230.97 966.56h0M231.38 922.71h0M231.78 965.9h0M232.18 949.95h0M232.56 923h0M232.9 919.74h0M233.27 921.99h0M233.7 926.18h0M234.07 958.76h0M234.47 969.8h0M234.82 946.78h0M235.27 968.09h0M235.64 918.89h0M236.03 971.1h0M236.49 953.71h0M236.91 960.4h0M237.37 970.8h0M237.81 944.19h0M238.27 967.38h0M238.64 922.21h0M239.07 933.85h0M239.5 951.26h0M239.97 925.41h0M240.38 927.86h0M240.83 953.65h0M241.2 925.1h0M241.62 920.6h0M242.03 937.56h0M242.42 952.26h0M242.9 922.18h0M243.33 919.86h0M243.83 952.51h0M244.28 966.82h0M244.74 923.97h0M245.2 935.1h0M245.68 958.83h0M246.08 940.47h0M246.52 954.65h0M246.93 921.16h0M247.37 952.79h0M247.77 960.79h0M248.29 969.18h0M248.71 952.77h0M249.19 917.3h0M249.63 959.58h0M250.14 946.44h0M250.63 918.25h0M251.04 971.18h0M251.55 955.37h0M252.08 926.53h0M252.61 966.3h0M253.09 920.66h0M253.52 925.8h0M253.95 963.71h0M254.48 939.07h0M254.97 941.09h0M255.4 933.52h0M255.94 954.73h0M256.44 950.49h0M256.94 958.35h0M257.4 955.55h0M257.88 961.92h0M258.33 921.97h0M258.75 922.9h0M259.3 951.81h0M259.79 933.54h0M260.29 944.67h0M260.76 956.16h0M261.3 952.38h0M261.73 918.64h0M262.21 952.83h0M262.64 939.82h0M263.09 919.73h0M263.67 955.23h0M264.2 927.2h0M264.7 965.3h0M265.22 931.35h0M265.79 927.32h0M266.28 925.64h0M266.81 918.09h0M267.36 932.57h0M267.86 917.97h0M268.38 956.29h0M268.95 942.96h0M269.54 959.81h0M270.01 966.97h0M270.61 947.49h0M271.06 932.09h0M271.64 928.87h0M272.22 970.62h0M272.7 919.89h0M273.22 958h0M273.82 955.53h0M274.28 925.91h0M274.84 922.52h0M275.44 931.17h0M275.99 953.3h0M276.57 946.17h0M277.08 925.79h0M277.58 951.96h0M278.12 927.4h0M278.62 928.68h0M279.15 945.86h0M279.79 922.4h0M280.36 950.47h0M280.9 930.44h0M281.43 936.48h0M282.07 953.39h0M282.63 942.39h0M283.28 938.32h0M283.86 942.12h0M284.44 965.48h0M285.09 917.19h0M285.71 918.56h0M286.31 969.5h0M286.88 919.78h0M287.53 942.41h0M288.1 964.66h0M288.77 926.56h0M289.28 947.81h0M289.86 932.45h0M290.46 926.2h0M291.14 942.05h0M291.7 968.83h0M292.35 926.46h0M292.99 933.5h0M293.63 921.65h0M294.27 956.74h0M294.96 928.5h0M295.55 923.68h0M296.14 952.08h0M296.7 949.06h0M297.24 953.24h0M297.81 971.24h0M298.51 958.85h0M299.19 953.37h0M299.75 965.61h0M300.4 929.58h0M301.02 948.14h0M301.67 940.4h0M302.34 955.95h0M302.94 951.79h0M303.67 930.25h0M304.3 945.79h0M304.97 938.85h0M305.64 948.38h0M306.23 941.01h0M306.8 922.35h0M307.43 956.89h0M308.14 943.09h0M308.86 933.87h0M309.56 966.79h0M310.15 918.81h0M310.89 944.21h0M311.62 958.1h0M312.36 929.86h0M313.04 926.84h0M313.79 936.98h0M314.38 921.32h0M314.96 966.68h0M315.54 942.62h0M316.17 930.82h0M316.8 921.29h0M317.42 936.38h0M318.13 938.53h0M318.72 950.27h0M319.43 940.21h0M320.06 941.13h0M320.79 921.93h0M321.39 926.2h0M322.05 931.13h0M322.85 920.9h0M323.56 967.92h0M324.33 929.36h0M325.08 946.13h0M325.81 930.33h0M326.46 955.31h0M327.2 945.93h0M327.82 926.34h0M328.61 969.62h0M329.43 955.59h0M330.24 944.77h0M330.87 924.87h0M331.57 956.75h0M332.26 926.42h0M332.91 958.14h0M333.68 954.93h0M334.49 941.19h0M335.19 935.7h0M336.02 923.3h0M336.83 923.33h0M337.5 957.83h0M338.32 930.67h0M339.16 936.74h0M339.85 950.38h0M340.63 929h0M341.43 922.34h0M342.22 945.28h0M342.9 921.32h0M343.71 964.55h0M344.52 962.44h0M345.37 929.65h0M346.22 954.8h0M346.96 939.46h0M347.8 944.3h0M348.68 963.56h0M349.56 930.2h0M350.28 930.9h0M350.96 963.59h0M351.8 957.31h0M352.53 927.66h0M353.35 921.54h0M354.27 923.85h0M355.05 944.04h0M355.8 951.41h0M356.6 947.14h0M357.46 961.88h0M358.18 944.36h0M358.98 958.89h0M359.71 962.67h0M360.58 950.68h0M361.5 968.04h0M362.3 945.76h0M363.11 933.38h0M363.96 935.84h0M364.73 918.08h0M365.51 922.99h0M366.31 936.8h0M367.15 922.34h0M367.9 947.18h0M368.82 927.75h0M369.7 955.95h0M370.51 942.67h0M371.26 917.83h0M372.2 938.72h0M372.97 943.77h0M373.75 928.39h0M374.53 954.43h0M375.3 925.99h0M376.28 970.53h0M377.11 958.49h0M377.94 961.83h0M378.92 957.44h0M379.84 919.71h0M380.66 970.24h0M381.54 955.17h0M382.54 940.06h0M383.41 933h0M384.38 929.13h0M385.18 950.54h0M386.16 959.48h0M387.17 924.82h0M388.19 964.86h0M389.19 967.99h0M390.1 958.85h0M390.93 944.54h0M391.9 919.9h0M392.95 931.59h0M393.84 940.63h0M394.76 942.97h0M395.77 933.53h0M396.85 937.2h0M397.98 953.11h0M398.89 966.47h0M399.82 960.53h0M400.95 928.64h0M402.04 936.77h0M403.16 927.84h0M404.39 969.11h0M405.6 922.16h0M406.79 950.59h0M407.98 920.77h0M409.04 938.96h0M410.2 941.54h0M411.22 926.7h0M412.43 937.26h0M413.66 934.57h0M414.88 962.91h0M416.02 938.41h0M417.14 952h0M418.29 967.41h0M419.31 964.25h0M420.62 945.25h0M421.84 957.16h0M423.01 929.59h0M424.25 964.84h0M425.56 970.79h0M426.76 916.89h0M428.14 954.39h0M429.56 943.6h0M430.79 960.03h0M431.94 960.1h0M433.33 949.49h0M434.83 928.25h0M436.01 969.41h0M437.42 925.64h0M438.88 917.26h0M440.4 940.89h0M441.61 951.81h0M442.81 958.72h0M444.4 961.52h0M445.63 953.82h0M446.9 924.86h0M448.34 971.37h0M449.74 928.46h0M451.29 934.96h0M452.6 970.51h0M454.24 967.74h0M455.59 931.25h0M457.19 934.64h0M458.49 954.36h0M459.98 924.33h0M461.29 960.03h0M462.73 948.14h0M464.18 965.24h0M465.84 936.15h0M467.38 966.78h0M468.75 961.71h0M470.57 929.53h0M472.36 944.12h0M474.18 935.26h0M475.69 931.31h0M477.28 938.3h0M478.81 960.71h0M480.31 933.26h0M481.78 965.19h0M483.5 956.76h0M485.05 946.98h0M486.64 965.28h0M488.62 965.74h0M490.42 935.79h0M492.07 930.87h0M494.02 951.23h0M495.77 950.18h0M497.68 960.17h0M499.48 942.95h0M501.43 939.73h0M503.47 920.37h0M505.49 969.33h0M507.45 921.73h0M509.67 917.24h0M511.97 952.56h0M513.87 931.76h0M515.76 926.33h0M517.66 935.85h0M520.15 955.71h0M522.64 937.4h0M524.69 923.47h0M527.27 965.68h0M529.36 945.24h0M531.69 970.31h0M534.03 925.23h0M536.7 928.87h0M538.78 969.03h0M541.08 930.66h0M543.62 933.64h0M545.79 964.63h0M548.12 942.76h0M550.65 933.76h0M553.58 953.16h0M556.49 943.92h0M559.55 918.04h0M562.64 936.7h0M565.77 944.03h0M569.12 967.93h0M572.41 964.91h0M575.84 924.91h0M578.94 930.84h0M581.99 925.77h0M585.71 939.86h0M588.92 939.97h0M593.03 942.46h0M596.89 931.25h0M600.55 953.45h0M605.03 944.32h0M608.69 945.79h0M612.88 935.28h0M616.64 959.7h0M621.64 970.18h0M626.26 966.69h0M631.33 961.72h0M635.79 924.55h0M641.13 932.25h0M646.48 930.43h0M651.89 947.2h0M657.93 965.92h0M663.32 946.04h0M668.85 924.24h0M675.04 943.64h0M681.7 936.91h0M687.67 951.03h0M694.47 963.32h0M700.59 937.2h0M707.59 944.96h0M711.68 952.6h0" stroke="#d95319" stroke-width="3.6" stroke-linecap="round" fill="none"/>
<line x1="220.25" y1="943.04" x2="711.31" y2="943.04" stroke="#d95319" stroke-width="3.4" stroke-dasharray="9 6"/>
<line x1="147.5" y1="642.6" x2="729.5" y2="642.6" stroke="#555555" stroke-width="1.25"/>
<line x1="147.5" y1="1081.2" x2="729.5" y2="1081.2" stroke="#555555" stroke-width="1.25"/>
<line x1="147.5" y1="642.6" x2="147.5" y2="1081.2" stroke="#0072bd" stroke-width="1.3"/>
<line x1="729.5" y1="642.6" x2="729.5" y2="1081.2" stroke="#d95319" stroke-width="1.3"/>
<line x1="256.62" y1="1081.2" x2="256.62" y2="1075.2" stroke="#555555" stroke-width="1.2"/>
<line x1="256.62" y1="642.6" x2="256.62" y2="648.6" stroke="#555555" stroke-width="1.2"/>
<text x="256.62" y="1120.7" font-size="29" fill="#262626" text-anchor="middle">50</text>
<line x1="438.5" y1="1081.2" x2="438.5" y2="1075.2" stroke="#555555" stroke-width="1.2"/>
<line x1="438.5" y1="642.6" x2="438.5" y2="648.6" stroke="#555555" stroke-width="1.2"/>
<text x="438.5" y="1120.7" font-size="29" fill="#262626" text-anchor="middle">100</text>
<line x1="620.38" y1="1081.2" x2="620.38" y2="1075.2" stroke="#555555" stroke-width="1.2"/>
<line x1="620.38" y1="642.6" x2="620.38" y2="648.6" stroke="#555555" stroke-width="1.2"/>
<text x="620.38" y="1120.7" font-size="29" fill="#262626" text-anchor="middle">150</text>
<line x1="147.5" y1="1041.33" x2="153.5" y2="1041.33" stroke="#0072bd" stroke-width="1.2"/>
<text x="137.3" y="1052.63" font-size="29" fill="#0072bd" text-anchor="end">0</text>
<line x1="147.5" y1="961.58" x2="153.5" y2="961.58" stroke="#0072bd" stroke-width="1.2"/>
<text x="137.3" y="972.88" font-size="29" fill="#0072bd" text-anchor="end">20</text>
<line x1="147.5" y1="881.84" x2="153.5" y2="881.84" stroke="#0072bd" stroke-width="1.2"/>
<text x="137.3" y="893.14" font-size="29" fill="#0072bd" text-anchor="end">40</text>
<line x1="147.5" y1="802.09" x2="153.5" y2="802.09" stroke="#0072bd" stroke-width="1.2"/>
<text x="137.3" y="813.39" font-size="29" fill="#0072bd" text-anchor="end">60</text>
<line x1="147.5" y1="722.35" x2="153.5" y2="722.35" stroke="#0072bd" stroke-width="1.2"/>
<text x="137.3" y="733.65" font-size="29" fill="#0072bd" text-anchor="end">80</text>
<line x1="147.5" y1="642.6" x2="153.5" y2="642.6" stroke="#0072bd" stroke-width="1.2"/>
<text x="137.3" y="653.9" font-size="29" fill="#0072bd" text-anchor="end">100</text>
<line x1="729.5" y1="1081.2" x2="723.5" y2="1081.2" stroke="#d95319" stroke-width="1.2"/>
<text x="737.6" y="1093.5" font-size="29" fill="#d95319">0</text>
<line x1="729.5" y1="971.55" x2="723.5" y2="971.55" stroke="#d95319" stroke-width="1.2"/>
<text x="737.6" y="983.85" font-size="29" fill="#d95319">2</text>
<line x1="729.5" y1="861.9" x2="723.5" y2="861.9" stroke="#d95319" stroke-width="1.2"/>
<text x="737.6" y="874.2" font-size="29" fill="#d95319">4</text>
<line x1="729.5" y1="752.25" x2="723.5" y2="752.25" stroke="#d95319" stroke-width="1.2"/>
<text x="737.6" y="764.55" font-size="29" fill="#d95319">6</text>
<line x1="729.5" y1="642.6" x2="723.5" y2="642.6" stroke="#d95319" stroke-width="1.2"/>
<text x="737.6" y="654.9" font-size="29" fill="#d95319">8</text>
<text x="0" y="0" transform="translate(77.7 864.5) rotate(-90)" font-size="30.5" fill="#0072bd" text-anchor="middle" textLength="436" lengthAdjust="spacingAndGlyphs">Magnetic field strength B (mT)</text>
<text x="0" y="0" transform="translate(792.8 861.3) rotate(-90)" font-size="30.5" fill="#d95319" text-anchor="middle" textLength="170" lengthAdjust="spacingAndGlyphs">B error (mT)</text>
<text x="438.5" y="1159.8" font-size="30.5" fill="#262626" text-anchor="middle" textLength="233" lengthAdjust="spacingAndGlyphs">Distance d (mm)</text>
<rect x="165.8" y="656.9" width="152.6" height="118.6" rx="16" ry="16" fill="#fff" stroke="#1f2f4f" stroke-width="2.2"/>
<rect x="206.4" y="667.7" width="71.9" height="31.6" fill="none" stroke="#1f2f4f" stroke-width="2.2"/>
<text x="169.5" y="743.2" font-size="25" fill="#000" textLength="141.5" lengthAdjust="spacingAndGlyphs">Gaussmeter</text>
<path d="M244.8,777.2 C262,815 280,848 305,861 C320,869 335,871 350,871.2" fill="none" stroke="#000" stroke-width="1.8"/>
<line x1="349.3" y1="871.1" x2="385.6" y2="871.1" stroke="#000" stroke-width="4.2"/>
<rect x="386.6" y="866" width="21" height="9.2" fill="#fff" stroke="#000" stroke-width="2"/>
<rect x="342.5" y="653.4" width="109.4" height="38.3" fill="#c00000" stroke="#ff0000" stroke-width="1"/>
<rect x="342.5" y="691.7" width="109.4" height="42" fill="#4472c4" stroke="#2f5597" stroke-width="1"/>
<path d="M395.1,843.4 L395.1,815 L390.4,819.3 L398.3,806.1 L405,819.5 L400,815 L400,843.4 Z" fill="#ff0000"/>
<line x1="397" y1="691.7" x2="397" y2="860.4" stroke="#000" stroke-width="2" stroke-dasharray="11 5"/>
<line x1="397" y1="692.2" x2="495.7" y2="692.2" stroke="#000" stroke-width="2" stroke-dasharray="11 5"/>
<line x1="394.7" y1="843.8" x2="493" y2="843.8" stroke="#000" stroke-width="2" stroke-dasharray="11 5"/>
<text x="397.2" y="685.6" font-size="33" fill="#fff" text-anchor="middle" font-weight="bold" textLength="24.5" lengthAdjust="spacingAndGlyphs">N</text>
<text x="397.2" y="729.9" font-size="33" fill="#fff" text-anchor="middle" font-weight="bold" textLength="20" lengthAdjust="spacingAndGlyphs">S</text>
<line x1="471.2" y1="705" x2="471.2" y2="834" stroke="#000" stroke-width="2.2"/>
<path d="M471.2,695.8 L465.2,711.5 L477.2,711.5 Z" fill="#000"/>
<path d="M471.2,843.4 L465.2,827.7 L477.2,827.7 Z" fill="#000"/>
<text x="482.5" y="777.1" font-size="33" fill="#000" font-style="italic" font-family="Liberation Serif">d</text>
<text x="416.6" y="821.8" font-size="33" fill="#ff0000" font-weight="bold" textLength="22" lengthAdjust="spacingAndGlyphs">B</text>
<rect x="515.5" y="657.7" width="199.3" height="141.4" fill="#fff" stroke="#707070" stroke-width="1.3"/>
<circle cx="547.9" cy="677.2" r="2" fill="#0000ff"/>
<line x1="521.1" y1="710.6" x2="575.2" y2="710.6" stroke="#00ff00" stroke-width="3"/>
<line x1="521.1" y1="745.8" x2="575.2" y2="745.8" stroke="#d95319" stroke-width="1"/>
<circle cx="548.2" cy="745.8" r="1.8" fill="#d95319"/>
<line x1="521.1" y1="779.8" x2="575.2" y2="779.8" stroke="#d95319" stroke-width="3.4" stroke-dasharray="9 6"/>
<text x="579.2" y="687.9" font-size="25" fill="#000" textLength="42.5" lengthAdjust="spacingAndGlyphs">Exp</text>
<text x="579.2" y="721.5" font-size="25" fill="#000" textLength="42.5" lengthAdjust="spacingAndGlyphs">Sim</text>
<text x="579.2" y="756.4" font-size="25" fill="#000" textLength="57" lengthAdjust="spacingAndGlyphs">Error</text>
<text x="579.2" y="790" font-size="25" fill="#000" textLength="128" lengthAdjust="spacingAndGlyphs">Error mean</text>
<text x="830.6" y="619.7" font-size="37.5" fill="#000">(e)</text>
<line x1="937.5" y1="951.41" x2="1149.78" y2="951.41" stroke="#333" stroke-width="1.4" stroke-dasharray="8 3.6"/>
<line x1="1149.78" y1="951.41" x2="1149.78" y2="1080.3" stroke="#333" stroke-width="1.4" stroke-dasharray="8 3.6"/>
<line x1="937.5" y1="818.16" x2="1333.06" y2="818.16" stroke="#333" stroke-width="1.4" stroke-dasharray="8 3.6"/>
<line x1="1333.06" y1="818.16" x2="1333.06" y2="1080.3" stroke="#333" stroke-width="1.4" stroke-dasharray="8 3.6"/>
<line x1="937.5" y1="688.84" x2="1497.78" y2="688.84" stroke="#333" stroke-width="1.4" stroke-dasharray="8 3.6"/>
<line x1="1497.78" y1="688.84" x2="1497.78" y2="1080.3" stroke="#333" stroke-width="1.4" stroke-dasharray="8 3.6"/>
<path d="M1500.98 693.7h0M1498.99 693.74h0M1498.24 689.61h0M1497.75 691.77h0M1497.14 691.98h0M1495.99 688.22h0M1493.94 693.62h0M1493.83 697.16h0M1493.44 696.95h0M1492.19 703.89h0M1490.8 704.27h0M1489.37 718.88h0M1489.29 714.78h0M1487.63 725.97h0M1486.27 726.45h0M1485.45 723.79h0M1485.71 723.68h0M1483.8 720.92h0M1483.22 722.31h0M1481.19 718.97h0M1480.81 717.66h0M1478.97 709.58h0M1478.28 707.27h0M1478.73 706.96h0M1476.83 703.57h0M1475.19 710.09h0M1474.38 713.04h0M1473.57 719.77h0M1472.9 726.5h0M1470.81 730h0M1469.02 731.89h0M1468.81 725.65h0M1468 731.41h0M1467.14 727.67h0M1466.88 729.23h0M1465.17 728.14h0M1464.48 730.16h0M1462.34 735.02h0M1462.57 734.72h0M1462.1 735.15h0M1460.37 738.76h0M1459.07 743.11h0M1457.81 744.83h0M1457.67 741.69h0M1454.9 746.68h0M1454.25 739.31h0M1453.42 737.59h0M1452.63 731.36h0M1450.84 724.88h0M1450.18 728.08h0M1448.62 729.47h0M1447.81 736.02h0M1446.53 732.98h0M1444.99 739.62h0M1444.58 737.9h0M1444.06 739.86h0M1442 749.73h0M1441.22 747.52h0M1440.68 746.31h0M1438.4 745.74h0M1437.99 748.75h0M1436.13 750.61h0M1436.24 753.94h0M1435.75 748.55h0M1434.58 748.9h0M1432.19 754.87h0M1431.71 755.84h0M1430.27 759.86h0M1429.27 754.61h0M1428.83 750.83h0M1426.13 754.62h0M1426.33 753.52h0M1424.63 754.82h0M1424.22 757.89h0M1422.32 753h0M1420.81 759.44h0M1420.11 757.91h0M1419.09 757.72h0M1417.41 757.82h0M1416.51 759.48h0M1414.9 760.81h0M1412.93 764.7h0M1413.4 765.4h0M1412.12 763.68h0M1410.76 766.31h0M1409.43 768.52h0M1408.79 768.91h0M1406.75 768.88h0M1405.5 772.57h0M1404.67 772.17h0M1404.4 772.96h0M1401.91 771.17h0M1402.12 770.56h0M1399.9 768.82h0M1398.46 776.28h0M1398.72 774.56h0M1396.68 771.97h0M1394.98 774.73h0M1394.4 775.12h0M1394.14 771.12h0M1393.26 775.47h0M1390.98 777.77h0M1390.23 778.31h0M1389.26 775.92h0M1387.28 778.46h0M1386.55 782.71h0M1385.2 783.64h0M1383.69 782.51h0M1382.47 783.97h0M1381.66 787.4h0M1380.44 786.43h0M1378.81 787.37h0M1377.55 791.28h0M1377.38 788.27h0M1375.51 785.73h0M1374.88 787.3h0M1373.77 789.73h0M1372.11 785.09h0M1372.01 783h0M1369.04 784.94h0M1368.67 792.97h0M1366.99 786.45h0M1367 793.76h0M1365.59 792.1h0M1362.26 796.1h0M1361.54 796.93h0M1361.37 798.63h0M1360.34 801.66h0M1359.14 798.73h0M1357.57 802.07h0M1356.72 805.98h0M1355.45 796.18h0M1353.77 801.07h0M1353.25 799.16h0M1350.2 805.86h0M1350.49 801.13h0M1348.31 801.9h0M1348.07 802.09h0M1346.16 806.18h0M1344.56 809.34h0M1343.94 807.71h0M1341.9 812.72h0M1340.67 812.43h0M1339.13 809.84h0M1338.69 812.15h0M1337.84 811.04h0M1336.81 811.5h0M1335.11 808.54h0M1334.64 810.01h0M1332.86 815.52h0M1331.45 822.68h0M1330.75 826.2h0M1329.75 824.98h0M1327.7 821.84h0M1326.5 825.47h0M1325.32 823.2h0M1324.12 824.72h0M1322.43 824.84h0M1322.4 822.04h0M1320.49 830.74h0M1319.96 830.06h0M1318.12 836.21h0M1317.46 838.14h0M1316.16 839.29h0M1314.62 833.27h0M1314.79 831.67h0M1312.62 834.68h0M1312.17 837.17h0M1310.41 835.46h0M1308.3 838.54h0M1307.04 837.09h0M1306.27 838.46h0M1304.73 839.56h0M1303.39 840.35h0M1302.03 843.98h0M1300.02 845.76h0M1299.66 848.58h0M1297.08 848.9h0M1297.13 850.66h0M1295.07 850.45h0M1293.89 851.48h0M1292.66 848.44h0M1291.46 846.74h0M1288.95 851.37h0M1287.38 851.14h0M1286.22 852.03h0M1284.45 849.93h0M1283.87 849.22h0M1284.15 850.2h0M1281.31 858.39h0M1280.99 855.75h0M1278.53 866.35h0M1278.04 860.6h0M1276.44 863.69h0M1275.11 866.85h0M1274.18 856.48h0M1273.33 857.99h0M1271.18 865.15h0M1269.76 865.48h0M1267.46 871.8h0M1266.87 872.78h0M1264.77 881.17h0M1263.84 879.53h0M1261.79 875.91h0M1261.47 876.11h0M1257.77 871.58h0M1257.45 873.35h0M1256.49 868.57h0M1254.06 876.35h0M1252.13 876.43h0M1251.12 881.26h0M1249.02 882.04h0M1248.45 877.99h0M1248.45 882.03h0M1246.11 881.61h0M1243.13 884.35h0M1241.82 886.49h0M1240.39 885.7h0M1239.54 886.26h0M1237.11 886.95h0M1235.52 885.26h0M1234.72 885.68h0M1233.31 888.28h0M1231.02 890.61h0M1228.98 891.06h0M1227.14 894.01h0M1226.28 893.11h0M1223.78 893.39h0M1223.92 896.38h0M1221.43 900.99h0M1220.41 902.24h0M1219.76 902.95h0M1217.73 901.5h0M1214.7 899.38h0M1214.17 897.93h0M1212.98 897.96h0M1210.58 897.62h0M1208.88 900.77h0M1208 901.04h0M1205.61 904.47h0M1205.7 899.49h0M1202.03 904.02h0M1201.41 902.26h0M1200.44 904.64h0M1198.91 904.52h0M1197.84 908.24h0M1196.47 907.57h0M1194.87 905.35h0M1194.11 912.58h0M1190.58 911.07h0M1190.4 910.32h0M1188.56 913.81h0M1187.55 913.96h0M1186.25 914.04h0M1184.23 918.79h0M1182.98 917.86h0M1182.35 920.51h0M1180.81 923.67h0M1178.62 928.71h0M1178.68 927.75h0M1177.45 929.88h0M1173.98 931.93h0M1173.41 935.53h0M1173.37 929.76h0M1171.06 932.88h0M1169.42 934.82h0M1167.89 937.8h0M1166.04 938.71h0M1164.86 938.5h0M1163.28 939.9h0M1162.41 944.07h0M1160.23 941.6h0M1158.87 938.93h0M1156.99 948.34h0M1156.02 944.28h0M1154.12 946.73h0M1152.98 948.39h0M1152.4 946.33h0M1150.43 952.06h0M1148.91 950.93h0M1147.2 949.97h0M1145.46 953.95h0M1143.91 955.4h0M1142.5 955.5h0M1141.61 957.06h0M1138.91 955.64h0M1138.94 959.69h0M1136.77 958.26h0M1134.78 963.17h0M1133.28 961.04h0M1131.46 963.75h0M1130.57 968.6h0M1128.67 966.02h0M1128.06 968.3h0M1125.31 969.67h0M1122.78 968.64h0M1121.86 973.77h0M1119.34 975.88h0M1118.74 972.33h0M1117.66 975.42h0M1115.9 974.65h0M1113.1 979.06h0M1112.02 981.96h0M1111.81 980.82h0M1109.3 979.84h0M1107.48 980h0M1106.6 981.37h0M1105.96 981.19h0M1103.85 981.09h0M1101.92 981.51h0M1100.46 977.25h0M1099.16 981.2h0M1097.05 985.75h0M1095.33 986.94h0M1094.43 986.19h0M1092.45 988.89h0M1091.37 991.53h0M1089.83 994.38h0M1089.72 993.42h0M1086.57 998.15h0M1085.42 998.24h0M1083.72 995.93h0M1082.76 998.51h0M1081.56 997.88h0M1079.07 998.04h0M1077.23 1000.02h0M1075.46 1002.05h0M1074.59 999.27h0M1073.77 1002.04h0M1072.19 1004.08h0M1070.26 1002.62h0M1069.15 1003.25h0M1067.95 1005.35h0M1066.67 1004.06h0M1064.72 1004.66h0M1063.3 1007.61h0M1061.08 1005.1h0M1059.92 1005.41h0M1060.28 1005.6h0M1056.66 1007.87h0M1056.52 1005.92h0M1055.51 1005.55h0M1053.84 1006.67h0M1052.1 1011.18h0M1051.16 1009.9h0M1050 1014.46h0M1048.38 1015.39h0M1045.82 1016.93h0M1045.31 1020.72h0M1043.67 1021.99h0M1042.56 1019.38h0M1041.79 1021.44h0M1040.86 1021.13h0M1039.87 1020.17h0M1037.72 1018.52h0M1037.36 1023.34h0M1036.29 1021.07h0M1034.78 1021.05h0M1033.57 1020.94h0M1031.45 1020.19h0M1030.01 1020.32h0M1029.31 1019.5h0M1026.66 1024.64h0M1026.29 1023.61h0M1024.48 1025.5h0M1023.15 1028.87h0M1020.95 1030.33h0M1020.11 1028.43h0M1019.11 1030.74h0M1018.1 1032.53h0M1016.91 1032.14h0M1015.06 1034.08h0M1013.78 1032.53h0M1011.83 1030.39h0M1010.99 1032.28h0M1009.35 1030.39h0M1008.29 1028.87h0M1007.71 1031.42h0M1005.32 1031.33h0M1003.12 1033.9h0M1001.98 1034.04h0M1000.48 1034.16h0M999.38 1030.78h0M999.48 1034.38h0M997.71 1035.27h0M995.51 1037.55h0M995.5 1037.01h0M994.42 1036.95h0M992.09 1039.96h0M990.49 1038.98h0M989.28 1042.77h0M988.24 1042.1h0M986.99 1045h0M985.9 1045.64h0M984.48 1048.99h0M983.2 1047.02h0M982.08 1046.81h0M980.2 1046.82h0M977.7 1049.14h0M976.97 1044.9h0M975.81 1046.5h0M974.09 1046.36h0M973.28 1046.01h0M971.29 1045.74h0M969.56 1044.67h0M969.71 1046.97h0M967.66 1046.26h0M965.97 1044.4h0M964.84 1044.47h0M963.6 1045.02h0M961.62 1045.95h0M958.48 1053.24h0M958 1053.91h0M956.48 1055.83h0M954.75 1062.04h0M954.01 1059.96h0M953.04 1062.66h0M950.47 1069.16h0M948.72 1069.04h0M949.05 1071.78h0M946.34 1074.13h0M944.51 1074.89h0M944.6 1073.66h0" stroke="#0000ff" stroke-width="3.9" stroke-linecap="round" fill="none"/>
<rect x="937.5" y="643.4" width="580" height="436.9" fill="none" stroke="#555555" stroke-width="1.25"/>
<line x1="937.5" y1="1080.3" x2="937.5" y2="1074.3" stroke="#555555" stroke-width="1.2"/>
<line x1="937.5" y1="643.4" x2="937.5" y2="649.4" stroke="#555555" stroke-width="1.2"/>
<line x1="1053.5" y1="1080.3" x2="1053.5" y2="1074.3" stroke="#555555" stroke-width="1.2"/>
<line x1="1053.5" y1="643.4" x2="1053.5" y2="649.4" stroke="#555555" stroke-width="1.2"/>
<line x1="1169.5" y1="1080.3" x2="1169.5" y2="1074.3" stroke="#555555" stroke-width="1.2"/>
<line x1="1169.5" y1="643.4" x2="1169.5" y2="649.4" stroke="#555555" stroke-width="1.2"/>
<line x1="1285.5" y1="1080.3" x2="1285.5" y2="1074.3" stroke="#555555" stroke-width="1.2"/>
<line x1="1285.5" y1="643.4" x2="1285.5" y2="649.4" stroke="#555555" stroke-width="1.2"/>
<line x1="1401.5" y1="1080.3" x2="1401.5" y2="1074.3" stroke="#555555" stroke-width="1.2"/>
<line x1="1401.5" y1="643.4" x2="1401.5" y2="649.4" stroke="#555555" stroke-width="1.2"/>
<line x1="1517.5" y1="1080.3" x2="1517.5" y2="1074.3" stroke="#555555" stroke-width="1.2"/>
<line x1="1517.5" y1="643.4" x2="1517.5" y2="649.4" stroke="#555555" stroke-width="1.2"/>
<line x1="937.5" y1="1080.3" x2="943.5" y2="1080.3" stroke="#555555" stroke-width="1.2"/>
<line x1="1517.5" y1="1080.3" x2="1511.5" y2="1080.3" stroke="#555555" stroke-width="1.2"/>
<line x1="937.5" y1="992.92" x2="943.5" y2="992.92" stroke="#555555" stroke-width="1.2"/>
<line x1="1517.5" y1="992.92" x2="1511.5" y2="992.92" stroke="#555555" stroke-width="1.2"/>
<line x1="937.5" y1="905.54" x2="943.5" y2="905.54" stroke="#555555" stroke-width="1.2"/>
<line x1="1517.5" y1="905.54" x2="1511.5" y2="905.54" stroke="#555555" stroke-width="1.2"/>
<line x1="937.5" y1="818.16" x2="943.5" y2="818.16" stroke="#555555" stroke-width="1.2"/>
<line x1="1517.5" y1="818.16" x2="1511.5" y2="818.16" stroke="#555555" stroke-width="1.2"/>
<line x1="937.5" y1="730.78" x2="943.5" y2="730.78" stroke="#555555" stroke-width="1.2"/>
<line x1="1517.5" y1="730.78" x2="1511.5" y2="730.78" stroke="#555555" stroke-width="1.2"/>
<line x1="937.5" y1="643.4" x2="943.5" y2="643.4" stroke="#555555" stroke-width="1.2"/>
<line x1="1517.5" y1="643.4" x2="1511.5" y2="643.4" stroke="#555555" stroke-width="1.2"/>
<text x="937.5" y="1118.8" font-size="29" fill="#262626" text-anchor="middle">0</text>
<text x="1053.5" y="1118.8" font-size="29" fill="#262626" text-anchor="middle">10</text>
<text x="1169.5" y="1118.8" font-size="29" fill="#262626" text-anchor="middle">20</text>
<text x="1285.5" y="1118.8" font-size="29" fill="#262626" text-anchor="middle">30</text>
<text x="1401.5" y="1118.8" font-size="29" fill="#262626" text-anchor="middle">40</text>
<text x="1517.5" y="1118.8" font-size="29" fill="#262626" text-anchor="middle">50</text>
<text x="927.4" y="1092" font-size="29" fill="#262626" text-anchor="end">0</text>
<text x="927.4" y="1004.62" font-size="29" fill="#262626" text-anchor="end">20</text>
<text x="927.4" y="917.24" font-size="29" fill="#262626" text-anchor="end">40</text>
<text x="927.4" y="829.86" font-size="29" fill="#262626" text-anchor="end">60</text>
<text x="927.4" y="742.48" font-size="29" fill="#262626" text-anchor="end">80</text>
<text x="927.4" y="655.1" font-size="29" fill="#262626" text-anchor="end">100</text>
<text x="0" y="0" transform="translate(867.3 861.9) rotate(-90)" font-size="30.5" fill="#262626" text-anchor="middle" textLength="266" lengthAdjust="spacingAndGlyphs">Steering angle θ (°)</text>
<text x="1227.7" y="1159.4" font-size="30.5" fill="#262626" text-anchor="middle" textLength="424" lengthAdjust="spacingAndGlyphs">Magnetic field strength B (mT)</text>
<text x="972.4" y="1071.5" font-size="25" fill="#000" font-weight="bold" textLength="30" lengthAdjust="spacingAndGlyphs">B1</text>
<text x="1100.8" y="1069.2" font-size="25" fill="#000" font-weight="bold" textLength="30" lengthAdjust="spacingAndGlyphs">B2</text>
<text x="1283" y="1068.5" font-size="25" fill="#000" font-weight="bold" textLength="30" lengthAdjust="spacingAndGlyphs">B3</text>
<text x="1443.4" y="1066.6" font-size="25" fill="#000" font-weight="bold" textLength="30" lengthAdjust="spacingAndGlyphs">B4</text>
<text x="1555" y="620.5" font-size="36" fill="#000" textLength="34" lengthAdjust="spacingAndGlyphs">(f)</text>
<rect x="1586.1" y="1068" width="457.3" height="32.1" fill="#000080" stroke="none" stroke-width="1"/>
<g opacity="0.8" filter="url(#fblur)"><defs><filter id="fblur"><feGaussianBlur stdDeviation="1.2"/></filter></defs>
<ellipse cx="2028" cy="1075" rx="9" ry="3" fill="#1040e0"/><ellipse cx="2036" cy="1080" rx="6" ry="2.5" fill="#2060ff"/><ellipse cx="2030" cy="1069" rx="7" ry="1.2" fill="#ffb000"/><ellipse cx="2022" cy="1086" rx="5" ry="2" fill="#0020c0"/>
</g>
<g>
<path d="M1586,1068L1588.69,1067.99L1589.04,1099.98L1586,1100Z" fill="#000080" stroke="#000080" stroke-width="0.9"/>
<path d="M1588.69,1067.99L1591.38,1067.94L1592.08,1099.93L1589.04,1099.98Z" fill="#000080" stroke="#000080" stroke-width="0.9"/>
<path d="M1591.38,1067.94L1594.07,1067.87L1595.12,1099.85L1592.08,1099.93Z" fill="#000080" stroke="#000080" stroke-width="0.9"/>
<path d="M1594.07,1067.87L1596.76,1067.77L1598.15,1099.74L1595.12,1099.85Z" fill="#000080" stroke="#000080" stroke-width="0.9"/>
<path d="M1596.76,1067.77L1599.45,1067.63L1601.18,1099.59L1598.15,1099.74Z" fill="#000081" stroke="#000081" stroke-width="0.9"/>
<path d="M1599.45,1067.63L1602.14,1067.47L1604.21,1099.41L1601.18,1099.59Z" fill="#000081" stroke="#000081" stroke-width="0.9"/>
<path d="M1602.14,1067.47L1604.83,1067.29L1607.24,1099.19L1604.21,1099.41Z" fill="#000082" stroke="#000082" stroke-width="0.9"/>
<path d="M1604.83,1067.29L1607.52,1067.07L1610.27,1098.95L1607.24,1099.19Z" fill="#000083" stroke="#000083" stroke-width="0.9"/>
<path d="M1607.52,1067.07L1610.2,1066.82L1613.29,1098.67L1610.27,1098.95Z" fill="#000084" stroke="#000084" stroke-width="0.9"/>
<path d="M1610.2,1066.82L1612.89,1066.55L1616.3,1098.36L1613.29,1098.67Z" fill="#000084" stroke="#000084" stroke-width="0.9"/>
<path d="M1612.89,1066.55L1615.57,1066.25L1619.32,1098.02L1616.3,1098.36Z" fill="#000086" stroke="#000086" stroke-width="0.9"/>
<path d="M1615.57,1066.25L1618.24,1065.92L1622.33,1097.65L1619.32,1098.02Z" fill="#000087" stroke="#000087" stroke-width="0.9"/>
<path d="M1618.24,1065.92L1620.92,1065.56L1625.33,1097.25L1622.33,1097.65Z" fill="#000088" stroke="#000088" stroke-width="0.9"/>
<path d="M1620.92,1065.56L1623.59,1065.17L1628.33,1096.82L1625.33,1097.25Z" fill="#000089" stroke="#000089" stroke-width="0.9"/>
<path d="M1623.59,1065.17L1626.26,1064.76L1631.32,1096.36L1628.33,1096.82Z" fill="#00008b" stroke="#00008b" stroke-width="0.9"/>
<path d="M1626.26,1064.76L1628.93,1064.32L1634.31,1095.86L1631.32,1096.36Z" fill="#00008d" stroke="#00008d" stroke-width="0.9"/>
<path d="M1628.93,1064.32L1631.59,1063.85L1637.29,1095.34L1634.31,1095.86Z" fill="#00008e" stroke="#00008e" stroke-width="0.9"/>
<path d="M1631.59,1063.85L1634.25,1063.35L1640.26,1094.78L1637.29,1095.34Z" fill="#000090" stroke="#000090" stroke-width="0.9"/>
<path d="M1634.25,1063.35L1636.9,1062.83L1643.23,1094.2L1640.26,1094.78Z" fill="#000092" stroke="#000092" stroke-width="0.9"/>
<path d="M1636.9,1062.83L1639.55,1062.28L1646.2,1093.59L1643.23,1094.2Z" fill="#000094" stroke="#000094" stroke-width="0.9"/>
<path d="M1639.55,1062.28L1642.2,1061.71L1649.15,1092.94L1646.2,1093.59Z" fill="#000096" stroke="#000096" stroke-width="0.9"/>
<path d="M1642.2,1061.71L1644.83,1061.11L1652.1,1092.27L1649.15,1092.94Z" fill="#000098" stroke="#000098" stroke-width="0.9"/>
<path d="M1644.83,1061.11L1647.47,1060.48L1655.04,1091.57L1652.1,1092.27Z" fill="#00009b" stroke="#00009b" stroke-width="0.9"/>
<path d="M1647.47,1060.48L1650.1,1059.83L1657.97,1090.84L1655.04,1091.57Z" fill="#00009d" stroke="#00009d" stroke-width="0.9"/>
<path d="M1650.1,1059.83L1652.72,1059.15L1660.89,1090.09L1657.97,1090.84Z" fill="#0000a0" stroke="#0000a0" stroke-width="0.9"/>
<path d="M1652.72,1059.15L1655.34,1058.44L1663.81,1089.3L1660.89,1090.09Z" fill="#0000a2" stroke="#0000a2" stroke-width="0.9"/>
<path d="M1655.34,1058.44L1657.95,1057.71L1666.72,1088.49L1663.81,1089.3Z" fill="#0000a5" stroke="#0000a5" stroke-width="0.9"/>
<path d="M1657.95,1057.71L1660.55,1056.96L1669.62,1087.65L1666.72,1088.49Z" fill="#0000a8" stroke="#0000a8" stroke-width="0.9"/>
<path d="M1660.55,1056.96L1663.15,1056.18L1672.51,1086.78L1669.62,1087.65Z" fill="#0000ab" stroke="#0000ab" stroke-width="0.9"/>
<path d="M1663.15,1056.18L1665.74,1055.37L1675.39,1085.88L1672.51,1086.78Z" fill="#0000ae" stroke="#0000ae" stroke-width="0.9"/>
<path d="M1665.74,1055.37L1668.32,1054.54L1678.26,1084.96L1675.39,1085.88Z" fill="#0000b1" stroke="#0000b1" stroke-width="0.9"/>
<path d="M1668.32,1054.54L1670.9,1053.68L1681.12,1084.01L1678.26,1084.96Z" fill="#0000b4" stroke="#0000b4" stroke-width="0.9"/>
<path d="M1670.9,1053.68L1673.47,1052.81L1683.97,1083.03L1681.12,1084.01Z" fill="#0000b8" stroke="#0000b8" stroke-width="0.9"/>
<path d="M1673.47,1052.81L1676.03,1051.9L1686.81,1082.03L1683.97,1083.03Z" fill="#0000bb" stroke="#0000bb" stroke-width="0.9"/>
<path d="M1676.03,1051.9L1678.59,1050.97L1689.64,1081L1686.81,1082.03Z" fill="#0000be" stroke="#0000be" stroke-width="0.9"/>
<path d="M1678.59,1050.97L1681.13,1050.02L1692.47,1079.95L1689.64,1081Z" fill="#0000c2" stroke="#0000c2" stroke-width="0.9"/>
<path d="M1681.13,1050.02L1683.67,1049.05L1695.28,1078.87L1692.47,1079.95Z" fill="#0000c6" stroke="#0000c6" stroke-width="0.9"/>
<path d="M1683.67,1049.05L1686.2,1048.05L1698.08,1077.77L1695.28,1078.87Z" fill="#0000c9" stroke="#0000c9" stroke-width="0.9"/>
<path d="M1686.2,1048.05L1688.73,1047.03L1700.87,1076.64L1698.08,1077.77Z" fill="#0000cd" stroke="#0000cd" stroke-width="0.9"/>
<path d="M1688.73,1047.03L1691.24,1045.99L1703.64,1075.48L1700.87,1076.64Z" fill="#0000d1" stroke="#0000d1" stroke-width="0.9"/>
<path d="M1691.24,1045.99L1693.74,1044.92L1706.41,1074.31L1703.64,1075.48Z" fill="#0000d5" stroke="#0000d5" stroke-width="0.9"/>
<path d="M1693.74,1044.92L1696.24,1043.83L1709.17,1073.1L1706.41,1074.31Z" fill="#0000d9" stroke="#0000d9" stroke-width="0.9"/>
<path d="M1696.24,1043.83L1698.73,1042.72L1711.91,1071.88L1709.17,1073.1Z" fill="#0000de" stroke="#0000de" stroke-width="0.9"/>
<path d="M1698.73,1042.72L1701.21,1041.59L1714.64,1070.63L1711.91,1071.88Z" fill="#0000e2" stroke="#0000e2" stroke-width="0.9"/>
<path d="M1701.21,1041.59L1703.68,1040.43L1717.36,1069.35L1714.64,1070.63Z" fill="#0000e6" stroke="#0000e6" stroke-width="0.9"/>
<path d="M1703.68,1040.43L1706.13,1039.25L1720.07,1068.06L1717.36,1069.35Z" fill="#0000eb" stroke="#0000eb" stroke-width="0.9"/>
<path d="M1706.13,1039.25L1708.59,1038.05L1722.77,1066.74L1720.07,1068.06Z" fill="#0000ef" stroke="#0000ef" stroke-width="0.9"/>
<path d="M1708.59,1038.05L1711.03,1036.83L1725.46,1065.4L1722.77,1066.74Z" fill="#0000f4" stroke="#0000f4" stroke-width="0.9"/>
<path d="M1711.03,1036.83L1713.46,1035.59L1728.13,1064.03L1725.46,1065.4Z" fill="#0000f9" stroke="#0000f9" stroke-width="0.9"/>
<path d="M1713.46,1035.59L1715.88,1034.33L1730.79,1062.65L1728.13,1064.03Z" fill="#0000fd" stroke="#0000fd" stroke-width="0.9"/>
<path d="M1715.88,1034.33L1718.29,1033.05L1733.44,1061.24L1730.79,1062.65Z" fill="#0003ff" stroke="#0003ff" stroke-width="0.9"/>
<path d="M1718.29,1033.05L1720.69,1031.75L1736.07,1059.81L1733.44,1061.24Z" fill="#0008ff" stroke="#0008ff" stroke-width="0.9"/>
<path d="M1720.69,1031.75L1723.08,1030.42L1738.69,1058.36L1736.07,1059.81Z" fill="#000dff" stroke="#000dff" stroke-width="0.9"/>
<path d="M1723.08,1030.42L1725.46,1029.08L1741.3,1056.88L1738.69,1058.36Z" fill="#0012ff" stroke="#0012ff" stroke-width="0.9"/>
<path d="M1725.46,1029.08L1727.83,1027.72L1743.9,1055.39L1741.3,1056.88Z" fill="#0018ff" stroke="#0018ff" stroke-width="0.9"/>
<path d="M1727.83,1027.72L1730.19,1026.33L1746.48,1053.88L1743.9,1055.39Z" fill="#001dff" stroke="#001dff" stroke-width="0.9"/>
<path d="M1730.19,1026.33L1732.54,1024.93L1749.05,1052.34L1746.48,1053.88Z" fill="#0022ff" stroke="#0022ff" stroke-width="0.9"/>
<path d="M1732.54,1024.93L1734.88,1023.51L1751.61,1050.79L1749.05,1052.34Z" fill="#0028ff" stroke="#0028ff" stroke-width="0.9"/>
<path d="M1734.88,1023.51L1737.21,1022.07L1754.15,1049.21L1751.61,1050.79Z" fill="#002dff" stroke="#002dff" stroke-width="0.9"/>
<path d="M1737.21,1022.07L1739.53,1020.61L1756.69,1047.62L1754.15,1049.21Z" fill="#0033ff" stroke="#0033ff" stroke-width="0.9"/>
<path d="M1739.53,1020.61L1741.84,1019.13L1759.2,1046.01L1756.69,1047.62Z" fill="#0039ff" stroke="#0039ff" stroke-width="0.9"/>
<path d="M1741.84,1019.13L1744.13,1017.63L1761.71,1044.38L1759.2,1046.01Z" fill="#003eff" stroke="#003eff" stroke-width="0.9"/>
<path d="M1744.13,1017.63L1746.42,1016.12L1764.2,1042.73L1761.71,1044.38Z" fill="#0044ff" stroke="#0044ff" stroke-width="0.9"/>
<path d="M1746.42,1016.12L1748.69,1014.59L1766.68,1041.06L1764.2,1042.73Z" fill="#004aff" stroke="#004aff" stroke-width="0.9"/>
<path d="M1748.69,1014.59L1750.96,1013.04L1769.14,1039.37L1766.68,1041.06Z" fill="#0050ff" stroke="#0050ff" stroke-width="0.9"/>
<path d="M1750.96,1013.04L1753.21,1011.47L1771.59,1037.66L1769.14,1039.37Z" fill="#0056ff" stroke="#0056ff" stroke-width="0.9"/>
<path d="M1753.21,1011.47L1755.45,1009.88L1774.03,1035.94L1771.59,1037.66Z" fill="#005cff" stroke="#005cff" stroke-width="0.9"/>
<path d="M1755.45,1009.88L1757.68,1008.28L1776.45,1034.2L1774.03,1035.94Z" fill="#0062ff" stroke="#0062ff" stroke-width="0.9"/>
<path d="M1757.68,1008.28L1759.9,1006.66L1778.86,1032.44L1776.45,1034.2Z" fill="#0069ff" stroke="#0069ff" stroke-width="0.9"/>
<path d="M1759.9,1006.66L1762.11,1005.02L1781.25,1030.66L1778.86,1032.44Z" fill="#006fff" stroke="#006fff" stroke-width="0.9"/>
<path d="M1762.11,1005.02L1764.3,1003.37L1783.64,1028.87L1781.25,1030.66Z" fill="#0075ff" stroke="#0075ff" stroke-width="0.9"/>
<path d="M1764.3,1003.37L1766.49,1001.7L1786,1027.06L1783.64,1028.87Z" fill="#007cff" stroke="#007cff" stroke-width="0.9"/>
<path d="M1766.49,1001.7L1768.66,1000.02L1788.36,1025.24L1786,1027.06Z" fill="#0082ff" stroke="#0082ff" stroke-width="0.9"/>
<path d="M1768.66,1000.02L1770.82,998.32L1790.7,1023.39L1788.36,1025.24Z" fill="#0089ff" stroke="#0089ff" stroke-width="0.9"/>
<path d="M1770.82,998.32L1772.98,996.6L1793.03,1021.54L1790.7,1023.39Z" fill="#0090ff" stroke="#0090ff" stroke-width="0.9"/>
<path d="M1772.98,996.6L1775.12,994.86L1795.34,1019.66L1793.03,1021.54Z" fill="#0096ff" stroke="#0096ff" stroke-width="0.9"/>
<path d="M1775.12,994.86L1777.24,993.12L1797.64,1017.78L1795.34,1019.66Z" fill="#009dff" stroke="#009dff" stroke-width="0.9"/>
<path d="M1777.24,993.12L1779.36,991.35L1799.92,1015.87L1797.64,1017.78Z" fill="#00a4ff" stroke="#00a4ff" stroke-width="0.9"/>
<path d="M1779.36,991.35L1781.47,989.57L1802.2,1013.95L1799.92,1015.87Z" fill="#00abff" stroke="#00abff" stroke-width="0.9"/>
<path d="M1781.47,989.57L1783.56,987.78L1804.45,1012.02L1802.2,1013.95Z" fill="#00b2ff" stroke="#00b2ff" stroke-width="0.9"/>
<path d="M1783.56,987.78L1785.65,985.97L1806.7,1010.07L1804.45,1012.02Z" fill="#00b9ff" stroke="#00b9ff" stroke-width="0.9"/>
<path d="M1785.65,985.97L1787.72,984.15L1808.93,1008.11L1806.7,1010.07Z" fill="#00c0ff" stroke="#00c0ff" stroke-width="0.9"/>
<path d="M1787.72,984.15L1789.78,982.32L1811.15,1006.14L1808.93,1008.11Z" fill="#00c7ff" stroke="#00c7ff" stroke-width="0.9"/>
<path d="M1789.78,982.32L1791.83,980.46L1813.35,1004.15L1811.15,1006.14Z" fill="#00cfff" stroke="#00cfff" stroke-width="0.9"/>
<path d="M1791.83,980.46L1793.87,978.6L1815.54,1002.14L1813.35,1004.15Z" fill="#00d6ff" stroke="#00d6ff" stroke-width="0.9"/>
<path d="M1793.87,978.6L1795.89,976.72L1817.72,1000.13L1815.54,1002.14Z" fill="#00ddff" stroke="#00ddff" stroke-width="0.9"/>
<path d="M1795.89,976.72L1797.91,974.83L1819.88,998.1L1817.72,1000.13Z" fill="#00e5ff" stroke="#00e5ff" stroke-width="0.9"/>
<path d="M1797.91,974.83L1799.91,972.93L1822.03,996.06L1819.88,998.1Z" fill="#00ecff" stroke="#00ecff" stroke-width="0.9"/>
<path d="M1799.91,972.93L1801.91,971.01L1824.16,994L1822.03,996.06Z" fill="#00f4ff" stroke="#00f4ff" stroke-width="0.9"/>
<path d="M1801.91,971.01L1803.89,969.08L1826.29,991.93L1824.16,994Z" fill="#00fcff" stroke="#00fcff" stroke-width="0.9"/>
<path d="M1803.89,969.08L1805.86,967.13L1828.4,989.85L1826.29,991.93Z" fill="#04fffb" stroke="#04fffb" stroke-width="0.9"/>
<path d="M1805.86,967.13L1807.82,965.18L1830.49,987.76L1828.4,989.85Z" fill="#0cfff3" stroke="#0cfff3" stroke-width="0.9"/>
<path d="M1807.82,965.18L1809.77,963.21L1832.57,985.66L1830.49,987.76Z" fill="#14ffeb" stroke="#14ffeb" stroke-width="0.9"/>
<path d="M1809.77,963.21L1811.71,961.23L1834.64,983.54L1832.57,985.66Z" fill="#1cffe3" stroke="#1cffe3" stroke-width="0.9"/>
<path d="M1811.71,961.23L1813.63,959.24L1836.7,981.42L1834.64,983.54Z" fill="#23ffdc" stroke="#23ffdc" stroke-width="0.9"/>
<path d="M1813.63,959.24L1815.55,957.23L1838.74,979.28L1836.7,981.42Z" fill="#2bffd4" stroke="#2bffd4" stroke-width="0.9"/>
<path d="M1815.55,957.23L1817.46,955.22L1840.77,977.13L1838.74,979.28Z" fill="#33ffcc" stroke="#33ffcc" stroke-width="0.9"/>
<path d="M1817.46,955.22L1819.35,953.19L1842.79,974.97L1840.77,977.13Z" fill="#3bffc4" stroke="#3bffc4" stroke-width="0.9"/>
<path d="M1819.35,953.19L1821.24,951.15L1844.8,972.8L1842.79,974.97Z" fill="#44ffbb" stroke="#44ffbb" stroke-width="0.9"/>
<path d="M1821.24,951.15L1823.11,949.1L1846.79,970.62L1844.8,972.8Z" fill="#4cffb3" stroke="#4cffb3" stroke-width="0.9"/>
<path d="M1823.11,949.1L1824.97,947.04L1848.77,968.44L1846.79,970.62Z" fill="#54ffab" stroke="#54ffab" stroke-width="0.9"/>
<path d="M1824.97,947.04L1826.83,944.97L1850.74,966.24L1848.77,968.44Z" fill="#5cffa3" stroke="#5cffa3" stroke-width="0.9"/>
<path d="M1826.83,944.97L1828.67,942.89L1852.69,964.03L1850.74,966.24Z" fill="#64ff9b" stroke="#64ff9b" stroke-width="0.9"/>
<path d="M1828.67,942.89L1830.5,940.79L1854.63,961.81L1852.69,964.03Z" fill="#6dff92" stroke="#6dff92" stroke-width="0.9"/>
<path d="M1830.5,940.79L1832.32,938.69L1856.56,959.58L1854.63,961.81Z" fill="#75ff8a" stroke="#75ff8a" stroke-width="0.9"/>
<path d="M1832.32,938.69L1834.13,936.58L1858.48,957.34L1856.56,959.58Z" fill="#7eff81" stroke="#7eff81" stroke-width="0.9"/>
<path d="M1834.13,936.58L1835.93,934.45L1860.39,955.1L1858.48,957.34Z" fill="#86ff79" stroke="#86ff79" stroke-width="0.9"/>
<path d="M1835.93,934.45L1837.73,932.32L1862.28,952.84L1860.39,955.1Z" fill="#8fff70" stroke="#8fff70" stroke-width="0.9"/>
<path d="M1837.73,932.32L1839.51,930.18L1864.16,950.58L1862.28,952.84Z" fill="#97ff68" stroke="#97ff68" stroke-width="0.9"/>
<path d="M1839.51,930.18L1841.28,928.03L1866.03,948.31L1864.16,950.58Z" fill="#a0ff5f" stroke="#a0ff5f" stroke-width="0.9"/>
<path d="M1841.28,928.03L1843.04,925.86L1867.89,946.03L1866.03,948.31Z" fill="#a9ff56" stroke="#a9ff56" stroke-width="0.9"/>
<path d="M1843.04,925.86L1844.8,923.69L1869.74,943.74L1867.89,946.03Z" fill="#b1ff4e" stroke="#b1ff4e" stroke-width="0.9"/>
<path d="M1844.8,923.69L1846.54,921.51L1871.57,941.45L1869.74,943.74Z" fill="#baff45" stroke="#baff45" stroke-width="0.9"/>
<path d="M1846.54,921.51L1848.27,919.33L1873.4,939.14L1871.57,941.45Z" fill="#c3ff3c" stroke="#c3ff3c" stroke-width="0.9"/>
<path d="M1848.27,919.33L1850,917.13L1875.21,936.83L1873.4,939.14Z" fill="#ccff33" stroke="#ccff33" stroke-width="0.9"/>
<path d="M1850,917.13L1851.71,914.92L1877.01,934.52L1875.21,936.83Z" fill="#d4ff2b" stroke="#d4ff2b" stroke-width="0.9"/>
<path d="M1851.71,914.92L1853.42,912.71L1878.81,932.19L1877.01,934.52Z" fill="#ddff22" stroke="#ddff22" stroke-width="0.9"/>
<path d="M1853.42,912.71L1855.12,910.49L1880.59,929.86L1878.81,932.19Z" fill="#e6ff19" stroke="#e6ff19" stroke-width="0.9"/>
<path d="M1855.12,910.49L1856.81,908.26L1882.36,927.52L1880.59,929.86Z" fill="#efff10" stroke="#efff10" stroke-width="0.9"/>
<path d="M1856.81,908.26L1858.49,906.02L1884.12,925.18L1882.36,927.52Z" fill="#f8ff07" stroke="#f8ff07" stroke-width="0.9"/>
<path d="M1858.49,906.02L1860.16,903.77L1885.87,922.83L1884.12,925.18Z" fill="#fffd00" stroke="#fffd00" stroke-width="0.9"/>
<path d="M1860.16,903.77L1861.82,901.52L1887.61,920.47L1885.87,922.83Z" fill="#fff300" stroke="#fff300" stroke-width="0.9"/>
<path d="M1861.82,901.52L1863.48,899.26L1889.34,918.11L1887.61,920.47Z" fill="#ffea00" stroke="#ffea00" stroke-width="0.9"/>
<path d="M1863.48,899.26L1865.13,896.99L1891.06,915.74L1889.34,918.11Z" fill="#ffe100" stroke="#ffe100" stroke-width="0.9"/>
<path d="M1865.13,896.99L1866.77,894.71L1892.77,913.37L1891.06,915.74Z" fill="#ffd800" stroke="#ffd800" stroke-width="0.9"/>
<path d="M1866.77,894.71L1868.4,892.43L1894.47,910.99L1892.77,913.37Z" fill="#ffcf00" stroke="#ffcf00" stroke-width="0.9"/>
<path d="M1868.4,892.43L1870.02,890.14L1896.16,908.61L1894.47,910.99Z" fill="#ffc500" stroke="#ffc500" stroke-width="0.9"/>
<path d="M1870.02,890.14L1871.64,887.85L1897.84,906.22L1896.16,908.61Z" fill="#ffbc00" stroke="#ffbc00" stroke-width="0.9"/>
<path d="M1871.64,887.85L1873.25,885.54L1899.51,903.83L1897.84,906.22Z" fill="#ffb300" stroke="#ffb300" stroke-width="0.9"/>
<path d="M1873.25,885.54L1874.85,883.23L1901.18,901.43L1899.51,903.83Z" fill="#ffa900" stroke="#ffa900" stroke-width="0.9"/>
<path d="M1874.85,883.23L1876.45,880.92L1902.83,899.02L1901.18,901.43Z" fill="#ffa000" stroke="#ffa000" stroke-width="0.9"/>
<path d="M1876.45,880.92L1878.04,878.59L1904.48,896.62L1902.83,899.02Z" fill="#ff9700" stroke="#ff9700" stroke-width="0.9"/>
<path d="M1878.04,878.59L1879.62,876.27L1906.11,894.21L1904.48,896.62Z" fill="#ff8d00" stroke="#ff8d00" stroke-width="0.9"/>
<path d="M1879.62,876.27L1881.19,873.93L1907.74,891.79L1906.11,894.21Z" fill="#ff8400" stroke="#ff8400" stroke-width="0.9"/>
<path d="M1881.19,873.93L1882.76,871.59L1909.37,889.37L1907.74,891.79Z" fill="#ff7a00" stroke="#ff7a00" stroke-width="0.9"/>
<path d="M1882.76,871.59L1884.32,869.25L1910.98,886.95L1909.37,889.37Z" fill="#ff7100" stroke="#ff7100" stroke-width="0.9"/>
<path d="M1884.32,869.25L1885.88,866.89L1912.59,884.52L1910.98,886.95Z" fill="#ff6700" stroke="#ff6700" stroke-width="0.9"/>
<path d="M1885.88,866.89L1887.43,864.54L1914.19,882.09L1912.59,884.52Z" fill="#ff5d00" stroke="#ff5d00" stroke-width="0.9"/>
<path d="M1887.43,864.54L1888.98,862.17L1915.78,879.66L1914.19,882.09Z" fill="#ff5400" stroke="#ff5400" stroke-width="0.9"/>
<path d="M1888.98,862.17L1890.52,859.81L1917.36,877.22L1915.78,879.66Z" fill="#ff4a00" stroke="#ff4a00" stroke-width="0.9"/>
<path d="M1890.52,859.81L1892.05,857.44L1918.94,874.79L1917.36,877.22Z" fill="#ff4000" stroke="#ff4000" stroke-width="0.9"/>
<path d="M1892.05,857.44L1893.58,855.06L1920.51,872.35L1918.94,874.79Z" fill="#ff3700" stroke="#ff3700" stroke-width="0.9"/>
<path d="M1893.58,855.06L1895.11,852.68L1922.08,869.9L1920.51,872.35Z" fill="#ff2d00" stroke="#ff2d00" stroke-width="0.9"/>
<path d="M1895.11,852.68L1896.63,850.29L1923.63,867.46L1922.08,869.9Z" fill="#ff2300" stroke="#ff2300" stroke-width="0.9"/>
<path d="M1896.63,850.29L1898.15,847.9L1925.19,865.01L1923.63,867.46Z" fill="#ff1a00" stroke="#ff1a00" stroke-width="0.9"/>
<path d="M1898.15,847.9L1899.66,845.5L1926.73,862.56L1925.19,865.01Z" fill="#ff1000" stroke="#ff1000" stroke-width="0.9"/>
<path d="M1899.66,845.5L1901.17,843.1L1928.27,860.11L1926.73,862.56Z" fill="#ff0600" stroke="#ff0600" stroke-width="0.9"/>
<path d="M1901.17,843.1L1902.67,840.7L1929.81,857.66L1928.27,860.11Z" fill="#fb0000" stroke="#fb0000" stroke-width="0.9"/>
<path d="M1902.67,840.7L1904.17,838.29L1931.34,855.2L1929.81,857.66Z" fill="#f10000" stroke="#f10000" stroke-width="0.9"/>
<path d="M1904.17,838.29L1905.67,835.88L1932.87,852.75L1931.34,855.2Z" fill="#e70000" stroke="#e70000" stroke-width="0.9"/>
<path d="M1905.67,835.88L1907.17,833.46L1934.39,850.29L1932.87,852.75Z" fill="#de0000" stroke="#de0000" stroke-width="0.9"/>
<path d="M1907.17,833.46L1908.66,831.04L1935.9,847.83L1934.39,850.29Z" fill="#d40000" stroke="#d40000" stroke-width="0.9"/>
<path d="M1908.66,831.04L1910.15,828.62L1937.42,845.38L1935.9,847.83Z" fill="#ca0000" stroke="#ca0000" stroke-width="0.9"/>
<path d="M1910.15,828.62L1911.64,826.19L1938.92,842.92L1937.42,845.38Z" fill="#c00000" stroke="#c00000" stroke-width="0.9"/>
<path d="M1911.64,826.19L1913.13,823.76L1940.43,840.46L1938.92,842.92Z" fill="#b60000" stroke="#b60000" stroke-width="0.9"/>
<path d="M1913.13,823.76L1914.62,821.33L1941.93,838.01L1940.43,840.46Z" fill="#ac0000" stroke="#ac0000" stroke-width="0.9"/>
<path d="M1914.62,821.33L1916.1,818.9L1943.43,835.55L1941.93,838.01Z" fill="#a20000" stroke="#a20000" stroke-width="0.9"/>
<path d="M1916.1,818.9L1917.59,816.46L1944.92,833.1L1943.43,835.55Z" fill="#980000" stroke="#980000" stroke-width="0.9"/>
<path d="M1917.59,816.46L1919.08,814.01L1946.42,830.64L1944.92,833.1Z" fill="#8e0000" stroke="#8e0000" stroke-width="0.9"/>
<path d="M1919.08,814.01L1920.56,811.57L1947.91,828.19L1946.42,830.64Z" fill="#840000" stroke="#840000" stroke-width="0.9"/>
<path d="M1586,1068L1588.5,1067.97L1589.17,1099.97L1586,1100Z" fill="#000080" stroke="#000080" stroke-width="0.9"/>
<path d="M1588.5,1067.97L1591,1067.9L1592.33,1099.87L1589.17,1099.97Z" fill="#000080" stroke="#000080" stroke-width="0.9"/>
<path d="M1591,1067.9L1593.5,1067.77L1595.49,1099.7L1592.33,1099.87Z" fill="#000080" stroke="#000080" stroke-width="0.9"/>
<path d="M1593.5,1067.77L1596,1067.58L1598.63,1099.48L1595.49,1099.7Z" fill="#000080" stroke="#000080" stroke-width="0.9"/>
<path d="M1596,1067.58L1598.51,1067.35L1601.77,1099.19L1598.63,1099.48Z" fill="#000081" stroke="#000081" stroke-width="0.9"/>
<path d="M1598.51,1067.35L1601.01,1067.07L1604.91,1098.83L1601.77,1099.19Z" fill="#000082" stroke="#000082" stroke-width="0.9"/>
<path d="M1601.01,1067.07L1603.5,1066.74L1608.02,1098.42L1604.91,1098.83Z" fill="#000083" stroke="#000083" stroke-width="0.9"/>
<path d="M1603.5,1066.74L1606,1066.36L1611.13,1097.94L1608.02,1098.42Z" fill="#000084" stroke="#000084" stroke-width="0.9"/>
<path d="M1606,1066.36L1608.49,1065.93L1614.23,1097.41L1611.13,1097.94Z" fill="#000085" stroke="#000085" stroke-width="0.9"/>
<path d="M1608.49,1065.93L1610.97,1065.45L1617.31,1096.82L1614.23,1097.41Z" fill="#000086" stroke="#000086" stroke-width="0.9"/>
<path d="M1610.97,1065.45L1613.45,1064.93L1620.37,1096.17L1617.31,1096.82Z" fill="#000088" stroke="#000088" stroke-width="0.9"/>
<path d="M1613.45,1064.93L1615.92,1064.36L1623.42,1095.47L1620.37,1096.17Z" fill="#000089" stroke="#000089" stroke-width="0.9"/>
<path d="M1615.92,1064.36L1618.38,1063.74L1626.45,1094.7L1623.42,1095.47Z" fill="#00008b" stroke="#00008b" stroke-width="0.9"/>
<path d="M1618.38,1063.74L1620.84,1063.07L1629.47,1093.89L1626.45,1094.7Z" fill="#00008d" stroke="#00008d" stroke-width="0.9"/>
<path d="M1620.84,1063.07L1623.29,1062.37L1632.47,1093.02L1629.47,1093.89Z" fill="#00008f" stroke="#00008f" stroke-width="0.9"/>
<path d="M1623.29,1062.37L1625.72,1061.61L1635.44,1092.1L1632.47,1093.02Z" fill="#000091" stroke="#000091" stroke-width="0.9"/>
<path d="M1625.72,1061.61L1628.15,1060.82L1638.4,1091.13L1635.44,1092.1Z" fill="#000093" stroke="#000093" stroke-width="0.9"/>
<path d="M1628.15,1060.82L1630.56,1059.98L1641.34,1090.11L1638.4,1091.13Z" fill="#000096" stroke="#000096" stroke-width="0.9"/>
<path d="M1630.56,1059.98L1632.96,1059.09L1644.25,1089.03L1641.34,1090.11Z" fill="#000098" stroke="#000098" stroke-width="0.9"/>
<path d="M1632.96,1059.09L1635.35,1058.17L1647.15,1087.92L1644.25,1089.03Z" fill="#00009b" stroke="#00009b" stroke-width="0.9"/>
<path d="M1635.35,1058.17L1637.73,1057.2L1650.02,1086.75L1647.15,1087.92Z" fill="#00009e" stroke="#00009e" stroke-width="0.9"/>
<path d="M1637.73,1057.2L1640.09,1056.2L1652.87,1085.53L1650.02,1086.75Z" fill="#0000a1" stroke="#0000a1" stroke-width="0.9"/>
<path d="M1640.09,1056.2L1642.44,1055.15L1655.7,1084.28L1652.87,1085.53Z" fill="#0000a4" stroke="#0000a4" stroke-width="0.9"/>
<path d="M1642.44,1055.15L1644.78,1054.06L1658.5,1082.97L1655.7,1084.28Z" fill="#0000a7" stroke="#0000a7" stroke-width="0.9"/>
<path d="M1644.78,1054.06L1647.1,1052.94L1661.28,1081.63L1658.5,1082.97Z" fill="#0000aa" stroke="#0000aa" stroke-width="0.9"/>
<path d="M1647.1,1052.94L1649.4,1051.78L1664.03,1080.24L1661.28,1081.63Z" fill="#0000ad" stroke="#0000ad" stroke-width="0.9"/>
<path d="M1649.4,1051.78L1651.69,1050.58L1666.76,1078.81L1664.03,1080.24Z" fill="#0000b1" stroke="#0000b1" stroke-width="0.9"/>
<path d="M1651.69,1050.58L1653.97,1049.34L1669.47,1077.34L1666.76,1078.81Z" fill="#0000b4" stroke="#0000b4" stroke-width="0.9"/>
<path d="M1653.97,1049.34L1656.22,1048.07L1672.15,1075.83L1669.47,1077.34Z" fill="#0000b8" stroke="#0000b8" stroke-width="0.9"/>
<path d="M1656.22,1048.07L1658.46,1046.76L1674.8,1074.28L1672.15,1075.83Z" fill="#0000bc" stroke="#0000bc" stroke-width="0.9"/>
<path d="M1658.46,1046.76L1660.69,1045.42L1677.43,1072.69L1674.8,1074.28Z" fill="#0000c0" stroke="#0000c0" stroke-width="0.9"/>
<path d="M1660.69,1045.42L1662.89,1044.04L1680.03,1071.07L1677.43,1072.69Z" fill="#0000c4" stroke="#0000c4" stroke-width="0.9"/>
<path d="M1662.89,1044.04L1665.08,1042.63L1682.6,1069.41L1680.03,1071.07Z" fill="#0000c8" stroke="#0000c8" stroke-width="0.9"/>
<path d="M1665.08,1042.63L1667.25,1041.19L1685.15,1067.71L1682.6,1069.41Z" fill="#0000cc" stroke="#0000cc" stroke-width="0.9"/>
<path d="M1667.25,1041.19L1669.4,1039.72L1687.68,1065.99L1685.15,1067.71Z" fill="#0000d0" stroke="#0000d0" stroke-width="0.9"/>
<path d="M1669.4,1039.72L1671.54,1038.21L1690.17,1064.22L1687.68,1065.99Z" fill="#0000d5" stroke="#0000d5" stroke-width="0.9"/>
<path d="M1671.54,1038.21L1673.65,1036.67L1692.64,1062.43L1690.17,1064.22Z" fill="#0000d9" stroke="#0000d9" stroke-width="0.9"/>
<path d="M1673.65,1036.67L1675.75,1035.1L1695.08,1060.6L1692.64,1062.43Z" fill="#0000de" stroke="#0000de" stroke-width="0.9"/>
<path d="M1675.75,1035.1L1677.83,1033.51L1697.5,1058.75L1695.08,1060.6Z" fill="#0000e2" stroke="#0000e2" stroke-width="0.9"/>
<path d="M1677.83,1033.51L1679.88,1031.88L1699.88,1056.86L1697.5,1058.75Z" fill="#0000e7" stroke="#0000e7" stroke-width="0.9"/>
<path d="M1679.88,1031.88L1681.92,1030.23L1702.24,1054.95L1699.88,1056.86Z" fill="#0000ec" stroke="#0000ec" stroke-width="0.9"/>
<path d="M1681.92,1030.23L1683.94,1028.54L1704.58,1053L1702.24,1054.95Z" fill="#0000f1" stroke="#0000f1" stroke-width="0.9"/>
<path d="M1683.94,1028.54L1685.95,1026.83L1706.88,1051.03L1704.58,1053Z" fill="#0000f6" stroke="#0000f6" stroke-width="0.9"/>
<path d="M1685.95,1026.83L1687.93,1025.1L1709.16,1049.04L1706.88,1051.03Z" fill="#0000fb" stroke="#0000fb" stroke-width="0.9"/>
<path d="M1687.93,1025.1L1689.89,1023.34L1711.42,1047.01L1709.16,1049.04Z" fill="#0001ff" stroke="#0001ff" stroke-width="0.9"/>
<path d="M1689.89,1023.34L1691.83,1021.55L1713.64,1044.96L1711.42,1047.01Z" fill="#0007ff" stroke="#0007ff" stroke-width="0.9"/>
<path d="M1691.83,1021.55L1693.76,1019.73L1715.84,1042.89L1713.64,1044.96Z" fill="#000cff" stroke="#000cff" stroke-width="0.9"/>
<path d="M1693.76,1019.73L1695.66,1017.9L1718.02,1040.79L1715.84,1042.89Z" fill="#0011ff" stroke="#0011ff" stroke-width="0.9"/>
<path d="M1695.66,1017.9L1697.55,1016.03L1720.16,1038.67L1718.02,1040.79Z" fill="#0017ff" stroke="#0017ff" stroke-width="0.9"/>
<path d="M1697.55,1016.03L1699.41,1014.15L1722.28,1036.53L1720.16,1038.67Z" fill="#001cff" stroke="#001cff" stroke-width="0.9"/>
<path d="M1699.41,1014.15L1701.26,1012.24L1724.38,1034.37L1722.28,1036.53Z" fill="#0022ff" stroke="#0022ff" stroke-width="0.9"/>
<path d="M1701.26,1012.24L1703.08,1010.31L1726.45,1032.18L1724.38,1034.37Z" fill="#0028ff" stroke="#0028ff" stroke-width="0.9"/>
<path d="M1703.08,1010.31L1704.89,1008.36L1728.49,1029.98L1726.45,1032.18Z" fill="#002eff" stroke="#002eff" stroke-width="0.9"/>
<path d="M1704.89,1008.36L1706.68,1006.39L1730.51,1027.75L1728.49,1029.98Z" fill="#0034ff" stroke="#0034ff" stroke-width="0.9"/>
<path d="M1706.68,1006.39L1708.45,1004.39L1732.5,1025.5L1730.51,1027.75Z" fill="#003aff" stroke="#003aff" stroke-width="0.9"/>
<path d="M1708.45,1004.39L1710.2,1002.38L1734.46,1023.24L1732.5,1025.5Z" fill="#0040ff" stroke="#0040ff" stroke-width="0.9"/>
<path d="M1710.2,1002.38L1711.93,1000.35L1736.4,1020.96L1734.46,1023.24Z" fill="#0046ff" stroke="#0046ff" stroke-width="0.9"/>
<path d="M1711.93,1000.35L1713.64,998.29L1738.32,1018.66L1736.4,1020.96Z" fill="#004cff" stroke="#004cff" stroke-width="0.9"/>
<path d="M1713.64,998.29L1715.33,996.22L1740.21,1016.34L1738.32,1018.66Z" fill="#0052ff" stroke="#0052ff" stroke-width="0.9"/>
<path d="M1715.33,996.22L1717.01,994.13L1742.08,1014.01L1740.21,1016.34Z" fill="#0058ff" stroke="#0058ff" stroke-width="0.9"/>
<path d="M1717.01,994.13L1718.66,992.02L1743.92,1011.66L1742.08,1014.01Z" fill="#005fff" stroke="#005fff" stroke-width="0.9"/>
<path d="M1718.66,992.02L1720.3,989.9L1745.74,1009.3L1743.92,1011.66Z" fill="#0065ff" stroke="#0065ff" stroke-width="0.9"/>
<path d="M1720.3,989.9L1721.92,987.75L1747.54,1006.92L1745.74,1009.3Z" fill="#006cff" stroke="#006cff" stroke-width="0.9"/>
<path d="M1721.92,987.75L1723.52,985.59L1749.31,1004.53L1747.54,1006.92Z" fill="#0072ff" stroke="#0072ff" stroke-width="0.9"/>
<path d="M1723.52,985.59L1725.1,983.42L1751.06,1002.12L1749.31,1004.53Z" fill="#0079ff" stroke="#0079ff" stroke-width="0.9"/>
<path d="M1725.1,983.42L1726.67,981.22L1752.79,999.71L1751.06,1002.12Z" fill="#007fff" stroke="#007fff" stroke-width="0.9"/>
<path d="M1726.67,981.22L1728.22,979.02L1754.5,997.27L1752.79,999.71Z" fill="#0086ff" stroke="#0086ff" stroke-width="0.9"/>
<path d="M1728.22,979.02L1729.75,976.79L1756.18,994.83L1754.5,997.27Z" fill="#008dff" stroke="#008dff" stroke-width="0.9"/>
<path d="M1729.75,976.79L1731.26,974.56L1757.84,992.37L1756.18,994.83Z" fill="#0094ff" stroke="#0094ff" stroke-width="0.9"/>
<path d="M1731.26,974.56L1732.75,972.31L1759.48,989.9L1757.84,992.37Z" fill="#009bff" stroke="#009bff" stroke-width="0.9"/>
<path d="M1732.75,972.31L1734.23,970.04L1761.1,987.42L1759.48,989.9Z" fill="#00a2ff" stroke="#00a2ff" stroke-width="0.9"/>
<path d="M1734.23,970.04L1735.7,967.76L1762.7,984.93L1761.1,987.42Z" fill="#00a8ff" stroke="#00a8ff" stroke-width="0.9"/>
<path d="M1735.7,967.76L1737.14,965.47L1764.27,982.43L1762.7,984.93Z" fill="#00b0ff" stroke="#00b0ff" stroke-width="0.9"/>
<path d="M1737.14,965.47L1738.57,963.16L1765.83,979.92L1764.27,982.43Z" fill="#00b7ff" stroke="#00b7ff" stroke-width="0.9"/>
<path d="M1738.57,963.16L1739.98,960.84L1767.37,977.4L1765.83,979.92Z" fill="#00beff" stroke="#00beff" stroke-width="0.9"/>
<path d="M1739.98,960.84L1741.38,958.51L1768.88,974.87L1767.37,977.4Z" fill="#00c5ff" stroke="#00c5ff" stroke-width="0.9"/>
<path d="M1741.38,958.51L1742.76,956.17L1770.38,972.34L1768.88,974.87Z" fill="#00ccff" stroke="#00ccff" stroke-width="0.9"/>
<path d="M1742.76,956.17L1744.13,953.82L1771.86,969.79L1770.38,972.34Z" fill="#00d3ff" stroke="#00d3ff" stroke-width="0.9"/>
<path d="M1744.13,953.82L1745.48,951.45L1773.32,967.24L1771.86,969.79Z" fill="#00dbff" stroke="#00dbff" stroke-width="0.9"/>
<path d="M1745.48,951.45L1746.82,949.08L1774.76,964.67L1773.32,967.24Z" fill="#00e2ff" stroke="#00e2ff" stroke-width="0.9"/>
<path d="M1746.82,949.08L1748.14,946.69L1776.18,962.1L1774.76,964.67Z" fill="#00e9ff" stroke="#00e9ff" stroke-width="0.9"/>
<path d="M1748.14,946.69L1749.45,944.29L1777.59,959.53L1776.18,962.1Z" fill="#00f1ff" stroke="#00f1ff" stroke-width="0.9"/>
<path d="M1749.45,944.29L1750.74,941.89L1778.98,956.94L1777.59,959.53Z" fill="#00f8ff" stroke="#00f8ff" stroke-width="0.9"/>
<path d="M1750.74,941.89L1752.02,939.47L1780.35,954.35L1778.98,956.94Z" fill="#01fffe" stroke="#01fffe" stroke-width="0.9"/>
<path d="M1752.02,939.47L1753.29,937.04L1781.7,951.75L1780.35,954.35Z" fill="#08fff7" stroke="#08fff7" stroke-width="0.9"/>
<path d="M1753.29,937.04L1754.54,934.61L1783.04,949.15L1781.7,951.75Z" fill="#10ffef" stroke="#10ffef" stroke-width="0.9"/>
<path d="M1754.54,934.61L1755.78,932.16L1784.36,946.54L1783.04,949.15Z" fill="#18ffe7" stroke="#18ffe7" stroke-width="0.9"/>
<path d="M1755.78,932.16L1757,929.71L1785.67,943.93L1784.36,946.54Z" fill="#1fffe0" stroke="#1fffe0" stroke-width="0.9"/>
<path d="M1757,929.71L1758.22,927.24L1786.96,941.31L1785.67,943.93Z" fill="#27ffd8" stroke="#27ffd8" stroke-width="0.9"/>
<path d="M1758.22,927.24L1759.42,924.77L1788.24,938.68L1786.96,941.31Z" fill="#2fffd0" stroke="#2fffd0" stroke-width="0.9"/>
<path d="M1759.42,924.77L1760.6,922.29L1789.5,936.05L1788.24,938.68Z" fill="#36ffc9" stroke="#36ffc9" stroke-width="0.9"/>
<path d="M1760.6,922.29L1761.78,919.81L1790.74,933.42L1789.5,936.05Z" fill="#3effc1" stroke="#3effc1" stroke-width="0.9"/>
<path d="M1761.78,919.81L1762.95,917.31L1791.98,930.78L1790.74,933.42Z" fill="#46ffb9" stroke="#46ffb9" stroke-width="0.9"/>
<path d="M1762.95,917.31L1764.1,914.81L1793.19,928.13L1791.98,930.78Z" fill="#4effb1" stroke="#4effb1" stroke-width="0.9"/>
<path d="M1764.1,914.81L1765.24,912.3L1794.4,925.49L1793.19,928.13Z" fill="#56ffa9" stroke="#56ffa9" stroke-width="0.9"/>
<path d="M1765.24,912.3L1766.37,909.78L1795.59,922.83L1794.4,925.49Z" fill="#5effa1" stroke="#5effa1" stroke-width="0.9"/>
<path d="M1766.37,909.78L1767.49,907.26L1796.77,920.18L1795.59,922.83Z" fill="#66ff99" stroke="#66ff99" stroke-width="0.9"/>
<path d="M1767.49,907.26L1768.6,904.73L1797.94,917.52L1796.77,920.18Z" fill="#6dff92" stroke="#6dff92" stroke-width="0.9"/>
<path d="M1768.6,904.73L1769.7,902.19L1799.09,914.86L1797.94,917.52Z" fill="#75ff8a" stroke="#75ff8a" stroke-width="0.9"/>
<path d="M1769.7,902.19L1770.79,899.65L1800.23,912.19L1799.09,914.86Z" fill="#7eff81" stroke="#7eff81" stroke-width="0.9"/>
<path d="M1770.79,899.65L1771.87,897.1L1801.36,909.52L1800.23,912.19Z" fill="#86ff79" stroke="#86ff79" stroke-width="0.9"/>
<path d="M1771.87,897.1L1772.94,894.54L1802.48,906.85L1801.36,909.52Z" fill="#8eff71" stroke="#8eff71" stroke-width="0.9"/>
<path d="M1772.94,894.54L1774,891.98L1803.59,904.18L1802.48,906.85Z" fill="#96ff69" stroke="#96ff69" stroke-width="0.9"/>
<path d="M1774,891.98L1775.06,889.42L1804.69,901.5L1803.59,904.18Z" fill="#9eff61" stroke="#9eff61" stroke-width="0.9"/>
<path d="M1775.06,889.42L1776.1,886.85L1805.77,898.83L1804.69,901.5Z" fill="#a6ff59" stroke="#a6ff59" stroke-width="0.9"/>
<path d="M1776.1,886.85L1777.14,884.27L1806.85,896.14L1805.77,898.83Z" fill="#aeff51" stroke="#aeff51" stroke-width="0.9"/>
<path d="M1777.14,884.27L1778.16,881.69L1807.92,893.46L1806.85,896.14Z" fill="#b6ff49" stroke="#b6ff49" stroke-width="0.9"/>
<path d="M1778.16,881.69L1779.18,879.1L1808.97,890.78L1807.92,893.46Z" fill="#bfff40" stroke="#bfff40" stroke-width="0.9"/>
<path d="M1779.18,879.1L1780.19,876.51L1810.02,888.09L1808.97,890.78Z" fill="#c7ff38" stroke="#c7ff38" stroke-width="0.9"/>
<path d="M1780.19,876.51L1781.2,873.91L1811.06,885.4L1810.02,888.09Z" fill="#cfff30" stroke="#cfff30" stroke-width="0.9"/>
<path d="M1781.2,873.91L1782.19,871.31L1812.09,882.71L1811.06,885.4Z" fill="#d7ff28" stroke="#d7ff28" stroke-width="0.9"/>
<path d="M1782.19,871.31L1783.18,868.7L1813.11,880.02L1812.09,882.71Z" fill="#e0ff1f" stroke="#e0ff1f" stroke-width="0.9"/>
<path d="M1783.18,868.7L1784.16,866.09L1814.13,877.33L1813.11,880.02Z" fill="#e8ff17" stroke="#e8ff17" stroke-width="0.9"/>
<path d="M1784.16,866.09L1785.14,863.48L1815.13,874.63L1814.13,877.33Z" fill="#f0ff0f" stroke="#f0ff0f" stroke-width="0.9"/>
<path d="M1785.14,863.48L1786.11,860.86L1816.13,871.94L1815.13,874.63Z" fill="#f8ff07" stroke="#f8ff07" stroke-width="0.9"/>
<path d="M1786.11,860.86L1787.07,858.24L1817.12,869.24L1816.13,871.94Z" fill="#fffd00" stroke="#fffd00" stroke-width="0.9"/>
<path d="M1787.07,858.24L1788.03,855.61L1818.11,866.54L1817.12,869.24Z" fill="#fff500" stroke="#fff500" stroke-width="0.9"/>
<path d="M1788.03,855.61L1788.98,852.98L1819.08,863.84L1818.11,866.54Z" fill="#ffec00" stroke="#ffec00" stroke-width="0.9"/>
<path d="M1788.98,852.98L1789.93,850.35L1820.06,861.14L1819.08,863.84Z" fill="#ffe400" stroke="#ffe400" stroke-width="0.9"/>
<path d="M1789.93,850.35L1790.87,847.72L1821.02,858.44L1820.06,861.14Z" fill="#ffdc00" stroke="#ffdc00" stroke-width="0.9"/>
<path d="M1790.87,847.72L1791.81,845.08L1821.98,855.74L1821.02,858.44Z" fill="#ffd300" stroke="#ffd300" stroke-width="0.9"/>
<path d="M1791.81,845.08L1792.74,842.43L1822.93,853.04L1821.98,855.74Z" fill="#ffcb00" stroke="#ffcb00" stroke-width="0.9"/>
<path d="M1792.74,842.43L1793.67,839.79L1823.88,850.34L1822.93,853.04Z" fill="#ffc200" stroke="#ffc200" stroke-width="0.9"/>
<path d="M1793.67,839.79L1794.59,837.14L1824.82,847.64L1823.88,850.34Z" fill="#ffba00" stroke="#ffba00" stroke-width="0.9"/>
<path d="M1794.59,837.14L1795.51,834.49L1825.75,844.93L1824.82,847.64Z" fill="#ffb100" stroke="#ffb100" stroke-width="0.9"/>
<path d="M1795.51,834.49L1796.42,831.83L1826.68,842.23L1825.75,844.93Z" fill="#ffa900" stroke="#ffa900" stroke-width="0.9"/>
<path d="M1796.42,831.83L1797.33,829.18L1827.61,839.53L1826.68,842.23Z" fill="#ffa000" stroke="#ffa000" stroke-width="0.9"/>
<path d="M1797.33,829.18L1798.24,826.52L1828.53,836.82L1827.61,839.53Z" fill="#ff9800" stroke="#ff9800" stroke-width="0.9"/>
<path d="M1798.24,826.52L1799.14,823.86L1829.45,834.12L1828.53,836.82Z" fill="#ff8f00" stroke="#ff8f00" stroke-width="0.9"/>
<path d="M1799.14,823.86L1800.04,821.19L1830.36,831.42L1829.45,834.12Z" fill="#ff8700" stroke="#ff8700" stroke-width="0.9"/>
<path d="M1800.04,821.19L1800.94,818.53L1831.27,828.71L1830.36,831.42Z" fill="#ff7e00" stroke="#ff7e00" stroke-width="0.9"/>
<path d="M1800.94,818.53L1801.83,815.86L1832.18,826.01L1831.27,828.71Z" fill="#ff7600" stroke="#ff7600" stroke-width="0.9"/>
<path d="M1801.83,815.86L1802.72,813.19L1833.08,823.3L1832.18,826.01Z" fill="#ff6d00" stroke="#ff6d00" stroke-width="0.9"/>
<path d="M1802.72,813.19L1803.61,810.52L1833.98,820.6L1833.08,823.3Z" fill="#ff6500" stroke="#ff6500" stroke-width="0.9"/>
<path d="M1803.61,810.52L1804.5,807.84L1834.88,817.89L1833.98,820.6Z" fill="#ff5c00" stroke="#ff5c00" stroke-width="0.9"/>
<path d="M1804.5,807.84L1805.38,805.16L1835.77,815.19L1834.88,817.89Z" fill="#ff5400" stroke="#ff5400" stroke-width="0.9"/>
<path d="M1805.38,805.16L1806.27,802.49L1836.66,812.49L1835.77,815.19Z" fill="#ff4b00" stroke="#ff4b00" stroke-width="0.9"/>
<path d="M1806.27,802.49L1807.15,799.81L1837.55,809.78L1836.66,812.49Z" fill="#ff4200" stroke="#ff4200" stroke-width="0.9"/>
<path d="M1807.15,799.81L1808.02,797.13L1838.44,807.08L1837.55,809.78Z" fill="#ff3a00" stroke="#ff3a00" stroke-width="0.9"/>
<path d="M1808.02,797.13L1808.9,794.44L1839.32,804.38L1838.44,807.08Z" fill="#ff3100" stroke="#ff3100" stroke-width="0.9"/>
<path d="M1808.9,794.44L1809.78,791.76L1840.2,801.67L1839.32,804.38Z" fill="#ff2900" stroke="#ff2900" stroke-width="0.9"/>
<path d="M1809.78,791.76L1810.65,789.07L1841.08,798.97L1840.2,801.67Z" fill="#ff2000" stroke="#ff2000" stroke-width="0.9"/>
<path d="M1810.65,789.07L1811.52,786.39L1841.96,796.27L1841.08,798.97Z" fill="#ff1700" stroke="#ff1700" stroke-width="0.9"/>
<path d="M1811.52,786.39L1812.39,783.7L1842.84,793.57L1841.96,796.27Z" fill="#ff0f00" stroke="#ff0f00" stroke-width="0.9"/>
<path d="M1812.39,783.7L1813.27,781.01L1843.71,790.86L1842.84,793.57Z" fill="#ff0600" stroke="#ff0600" stroke-width="0.9"/>
<path d="M1813.27,781.01L1814.14,778.32L1844.58,788.16L1843.71,790.86Z" fill="#fd0000" stroke="#fd0000" stroke-width="0.9"/>
<path d="M1814.14,778.32L1815,775.63L1845.46,785.46L1844.58,788.16Z" fill="#f40000" stroke="#f40000" stroke-width="0.9"/>
<path d="M1815,775.63L1815.87,772.94L1846.33,782.76L1845.46,785.46Z" fill="#eb0000" stroke="#eb0000" stroke-width="0.9"/>
<path d="M1815.87,772.94L1816.74,770.25L1847.2,780.06L1846.33,782.76Z" fill="#e30000" stroke="#e30000" stroke-width="0.9"/>
<path d="M1816.74,770.25L1817.61,767.55L1848.07,777.36L1847.2,780.06Z" fill="#da0000" stroke="#da0000" stroke-width="0.9"/>
<path d="M1817.61,767.55L1818.47,764.86L1848.94,774.66L1848.07,777.36Z" fill="#d20000" stroke="#d20000" stroke-width="0.9"/>
<path d="M1818.47,764.86L1819.34,762.16L1849.81,771.96L1848.94,774.66Z" fill="#c90000" stroke="#c90000" stroke-width="0.9"/>
<path d="M1819.34,762.16L1820.21,759.47L1850.67,769.26L1849.81,771.96Z" fill="#c00000" stroke="#c00000" stroke-width="0.9"/>
<path d="M1820.21,759.47L1821.07,756.77L1851.54,766.56L1850.67,769.26Z" fill="#b80000" stroke="#b80000" stroke-width="0.9"/>
<path d="M1821.07,756.77L1821.94,754.08L1852.41,763.86L1851.54,766.56Z" fill="#af0000" stroke="#af0000" stroke-width="0.9"/>
<path d="M1821.94,754.08L1822.81,751.38L1853.27,761.17L1852.41,763.86Z" fill="#a60000" stroke="#a60000" stroke-width="0.9"/>
<path d="M1822.81,751.38L1823.67,748.68L1854.14,758.47L1853.27,761.17Z" fill="#9e0000" stroke="#9e0000" stroke-width="0.9"/>
<path d="M1823.67,748.68L1824.54,745.99L1855.01,755.77L1854.14,758.47Z" fill="#950000" stroke="#950000" stroke-width="0.9"/>
<path d="M1824.54,745.99L1825.4,743.29L1855.87,753.07L1855.01,755.77Z" fill="#8c0000" stroke="#8c0000" stroke-width="0.9"/>
<path d="M1825.4,743.29L1826.27,740.59L1856.74,750.37L1855.87,753.07Z" fill="#840000" stroke="#840000" stroke-width="0.9"/>
<path d="M1586,1068L1588.53,1067.97L1589.25,1099.96L1586,1100Z" fill="#000080" stroke="#000080" stroke-width="0.9"/>
<path d="M1588.53,1067.97L1591.05,1067.89L1592.5,1099.85L1589.25,1099.96Z" fill="#000080" stroke="#000080" stroke-width="0.9"/>
<path d="M1591.05,1067.89L1593.58,1067.74L1595.74,1099.67L1592.5,1099.85Z" fill="#000080" stroke="#000080" stroke-width="0.9"/>
<path d="M1593.58,1067.74L1596.11,1067.54L1598.97,1099.42L1595.74,1099.67Z" fill="#000080" stroke="#000080" stroke-width="0.9"/>
<path d="M1596.11,1067.54L1598.63,1067.29L1602.19,1099.09L1598.97,1099.42Z" fill="#000081" stroke="#000081" stroke-width="0.9"/>
<path d="M1598.63,1067.29L1601.15,1066.98L1605.41,1098.69L1602.19,1099.09Z" fill="#000082" stroke="#000082" stroke-width="0.9"/>
<path d="M1601.15,1066.98L1603.67,1066.61L1608.61,1098.23L1605.41,1098.69Z" fill="#000082" stroke="#000082" stroke-width="0.9"/>
<path d="M1603.67,1066.61L1606.18,1066.19L1611.8,1097.7L1608.61,1098.23Z" fill="#000083" stroke="#000083" stroke-width="0.9"/>
<path d="M1606.18,1066.19L1608.69,1065.72L1614.97,1097.1L1611.8,1097.7Z" fill="#000085" stroke="#000085" stroke-width="0.9"/>
<path d="M1608.69,1065.72L1611.18,1065.19L1618.12,1096.43L1614.97,1097.1Z" fill="#000086" stroke="#000086" stroke-width="0.9"/>
<path d="M1611.18,1065.19L1613.67,1064.61L1621.26,1095.7L1618.12,1096.43Z" fill="#000087" stroke="#000087" stroke-width="0.9"/>
<path d="M1613.67,1064.61L1616.15,1063.98L1624.38,1094.9L1621.26,1095.7Z" fill="#000089" stroke="#000089" stroke-width="0.9"/>
<path d="M1616.15,1063.98L1618.62,1063.3L1627.48,1094.04L1624.38,1094.9Z" fill="#00008a" stroke="#00008a" stroke-width="0.9"/>
<path d="M1618.62,1063.3L1621.07,1062.56L1630.56,1093.12L1627.48,1094.04Z" fill="#00008c" stroke="#00008c" stroke-width="0.9"/>
<path d="M1621.07,1062.56L1623.51,1061.77L1633.62,1092.14L1630.56,1093.12Z" fill="#00008e" stroke="#00008e" stroke-width="0.9"/>
<path d="M1623.51,1061.77L1625.94,1060.94L1636.65,1091.09L1633.62,1092.14Z" fill="#000090" stroke="#000090" stroke-width="0.9"/>
<path d="M1625.94,1060.94L1628.36,1060.05L1639.66,1089.99L1636.65,1091.09Z" fill="#000092" stroke="#000092" stroke-width="0.9"/>
<path d="M1628.36,1060.05L1630.76,1059.12L1642.65,1088.83L1639.66,1089.99Z" fill="#000094" stroke="#000094" stroke-width="0.9"/>
<path d="M1630.76,1059.12L1633.14,1058.14L1645.61,1087.61L1642.65,1088.83Z" fill="#000097" stroke="#000097" stroke-width="0.9"/>
<path d="M1633.14,1058.14L1635.51,1057.11L1648.54,1086.34L1645.61,1087.61Z" fill="#000099" stroke="#000099" stroke-width="0.9"/>
<path d="M1635.51,1057.11L1637.85,1056.04L1651.45,1085.01L1648.54,1086.34Z" fill="#00009c" stroke="#00009c" stroke-width="0.9"/>
<path d="M1637.85,1056.04L1640.18,1054.92L1654.32,1083.62L1651.45,1085.01Z" fill="#00009e" stroke="#00009e" stroke-width="0.9"/>
<path d="M1640.18,1054.92L1642.5,1053.75L1657.17,1082.19L1654.32,1083.62Z" fill="#0000a1" stroke="#0000a1" stroke-width="0.9"/>
<path d="M1642.5,1053.75L1644.79,1052.54L1659.99,1080.7L1657.17,1082.19Z" fill="#0000a4" stroke="#0000a4" stroke-width="0.9"/>
<path d="M1644.79,1052.54L1647.06,1051.29L1662.78,1079.16L1659.99,1080.7Z" fill="#0000a7" stroke="#0000a7" stroke-width="0.9"/>
<path d="M1647.06,1051.29L1649.31,1049.99L1665.53,1077.57L1662.78,1079.16Z" fill="#0000ab" stroke="#0000ab" stroke-width="0.9"/>
<path d="M1649.31,1049.99L1651.54,1048.65L1668.26,1075.94L1665.53,1077.57Z" fill="#0000ae" stroke="#0000ae" stroke-width="0.9"/>
<path d="M1651.54,1048.65L1653.74,1047.27L1670.95,1074.25L1668.26,1075.94Z" fill="#0000b1" stroke="#0000b1" stroke-width="0.9"/>
<path d="M1653.74,1047.27L1655.93,1045.85L1673.61,1072.52L1670.95,1074.25Z" fill="#0000b5" stroke="#0000b5" stroke-width="0.9"/>
<path d="M1655.93,1045.85L1658.09,1044.39L1676.24,1070.75L1673.61,1072.52Z" fill="#0000b8" stroke="#0000b8" stroke-width="0.9"/>
<path d="M1658.09,1044.39L1660.22,1042.9L1678.83,1068.93L1676.24,1070.75Z" fill="#0000bc" stroke="#0000bc" stroke-width="0.9"/>
<path d="M1660.22,1042.9L1662.34,1041.36L1681.39,1067.07L1678.83,1068.93Z" fill="#0000c0" stroke="#0000c0" stroke-width="0.9"/>
<path d="M1662.34,1041.36L1664.42,1039.78L1683.91,1065.16L1681.39,1067.07Z" fill="#0000c4" stroke="#0000c4" stroke-width="0.9"/>
<path d="M1664.42,1039.78L1666.49,1038.17L1686.4,1063.22L1683.91,1065.16Z" fill="#0000c8" stroke="#0000c8" stroke-width="0.9"/>
<path d="M1666.49,1038.17L1668.53,1036.52L1688.86,1061.23L1686.4,1063.22Z" fill="#0000cc" stroke="#0000cc" stroke-width="0.9"/>
<path d="M1668.53,1036.52L1670.54,1034.84L1691.27,1059.21L1688.86,1061.23Z" fill="#0000d0" stroke="#0000d0" stroke-width="0.9"/>
<path d="M1670.54,1034.84L1672.52,1033.12L1693.66,1057.15L1691.27,1059.21Z" fill="#0000d4" stroke="#0000d4" stroke-width="0.9"/>
<path d="M1672.52,1033.12L1674.48,1031.37L1696,1055.05L1693.66,1057.15Z" fill="#0000d9" stroke="#0000d9" stroke-width="0.9"/>
<path d="M1674.48,1031.37L1676.42,1029.58L1698.32,1052.92L1696,1055.05Z" fill="#0000dd" stroke="#0000dd" stroke-width="0.9"/>
<path d="M1676.42,1029.58L1678.32,1027.76L1700.59,1050.75L1698.32,1052.92Z" fill="#0000e2" stroke="#0000e2" stroke-width="0.9"/>
<path d="M1678.32,1027.76L1680.2,1025.91L1702.83,1048.55L1700.59,1050.75Z" fill="#0000e6" stroke="#0000e6" stroke-width="0.9"/>
<path d="M1680.2,1025.91L1682.06,1024.03L1705.03,1046.31L1702.83,1048.55Z" fill="#0000eb" stroke="#0000eb" stroke-width="0.9"/>
<path d="M1682.06,1024.03L1683.88,1022.12L1707.19,1044.04L1705.03,1046.31Z" fill="#0000f0" stroke="#0000f0" stroke-width="0.9"/>
<path d="M1683.88,1022.12L1685.68,1020.18L1709.32,1041.74L1707.19,1044.04Z" fill="#0000f5" stroke="#0000f5" stroke-width="0.9"/>
<path d="M1685.68,1020.18L1687.45,1018.21L1711.41,1039.42L1709.32,1041.74Z" fill="#0000fa" stroke="#0000fa" stroke-width="0.9"/>
<path d="M1687.45,1018.21L1689.19,1016.21L1713.47,1037.06L1711.41,1039.42Z" fill="#0000ff" stroke="#0000ff" stroke-width="0.9"/>
<path d="M1689.19,1016.21L1690.9,1014.19L1715.49,1034.67L1713.47,1037.06Z" fill="#0005ff" stroke="#0005ff" stroke-width="0.9"/>
<path d="M1690.9,1014.19L1692.59,1012.14L1717.47,1032.26L1715.49,1034.67Z" fill="#000bff" stroke="#000bff" stroke-width="0.9"/>
<path d="M1692.59,1012.14L1694.25,1010.06L1719.41,1029.82L1717.47,1032.26Z" fill="#0010ff" stroke="#0010ff" stroke-width="0.9"/>
<path d="M1694.25,1010.06L1695.87,1007.95L1721.32,1027.36L1719.41,1029.82Z" fill="#0015ff" stroke="#0015ff" stroke-width="0.9"/>
<path d="M1695.87,1007.95L1697.47,1005.82L1723.19,1024.87L1721.32,1027.36Z" fill="#001bff" stroke="#001bff" stroke-width="0.9"/>
<path d="M1697.47,1005.82L1699.05,1003.67L1725.02,1022.35L1723.19,1024.87Z" fill="#0021ff" stroke="#0021ff" stroke-width="0.9"/>
<path d="M1699.05,1003.67L1700.59,1001.49L1726.82,1019.82L1725.02,1022.35Z" fill="#0026ff" stroke="#0026ff" stroke-width="0.9"/>
<path d="M1700.59,1001.49L1702.1,999.29L1728.58,1017.26L1726.82,1019.82Z" fill="#002cff" stroke="#002cff" stroke-width="0.9"/>
<path d="M1702.1,999.29L1703.59,997.07L1730.31,1014.68L1728.58,1017.26Z" fill="#0032ff" stroke="#0032ff" stroke-width="0.9"/>
<path d="M1703.59,997.07L1705.05,994.82L1732,1012.08L1730.31,1014.68Z" fill="#0038ff" stroke="#0038ff" stroke-width="0.9"/>
<path d="M1705.05,994.82L1706.48,992.56L1733.65,1009.46L1732,1012.08Z" fill="#003eff" stroke="#003eff" stroke-width="0.9"/>
<path d="M1706.48,992.56L1707.88,990.27L1735.27,1006.82L1733.65,1009.46Z" fill="#0044ff" stroke="#0044ff" stroke-width="0.9"/>
<path d="M1707.88,990.27L1709.25,987.97L1736.85,1004.16L1735.27,1006.82Z" fill="#004aff" stroke="#004aff" stroke-width="0.9"/>
<path d="M1709.25,987.97L1710.6,985.64L1738.4,1001.49L1736.85,1004.16Z" fill="#0050ff" stroke="#0050ff" stroke-width="0.9"/>
<path d="M1710.6,985.64L1711.92,983.3L1739.91,998.79L1738.4,1001.49Z" fill="#0056ff" stroke="#0056ff" stroke-width="0.9"/>
<path d="M1711.92,983.3L1713.21,980.93L1741.39,996.09L1739.91,998.79Z" fill="#005cff" stroke="#005cff" stroke-width="0.9"/>
<path d="M1713.21,980.93L1714.47,978.55L1742.83,993.36L1741.39,996.09Z" fill="#0063ff" stroke="#0063ff" stroke-width="0.9"/>
<path d="M1714.47,978.55L1715.7,976.15L1744.24,990.62L1742.83,993.36Z" fill="#0069ff" stroke="#0069ff" stroke-width="0.9"/>
<path d="M1715.7,976.15L1716.91,973.74L1745.62,987.87L1744.24,990.62Z" fill="#0070ff" stroke="#0070ff" stroke-width="0.9"/>
<path d="M1716.91,973.74L1718.09,971.31L1746.96,985.1L1745.62,987.87Z" fill="#0076ff" stroke="#0076ff" stroke-width="0.9"/>
<path d="M1718.09,971.31L1719.24,968.86L1748.27,982.32L1746.96,985.1Z" fill="#007dff" stroke="#007dff" stroke-width="0.9"/>
<path d="M1719.24,968.86L1720.36,966.4L1749.54,979.53L1748.27,982.32Z" fill="#0083ff" stroke="#0083ff" stroke-width="0.9"/>
<path d="M1720.36,966.4L1721.46,963.92L1750.79,976.72L1749.54,979.53Z" fill="#008aff" stroke="#008aff" stroke-width="0.9"/>
<path d="M1721.46,963.92L1722.53,961.43L1752,973.91L1750.79,976.72Z" fill="#0091ff" stroke="#0091ff" stroke-width="0.9"/>
<path d="M1722.53,961.43L1723.58,958.92L1753.18,971.08L1752,973.91Z" fill="#0098ff" stroke="#0098ff" stroke-width="0.9"/>
<path d="M1723.58,958.92L1724.59,956.41L1754.32,968.24L1753.18,971.08Z" fill="#009fff" stroke="#009fff" stroke-width="0.9"/>
<path d="M1724.59,956.41L1725.59,953.87L1755.44,965.4L1754.32,968.24Z" fill="#00a5ff" stroke="#00a5ff" stroke-width="0.9"/>
<path d="M1725.59,953.87L1726.55,951.33L1756.53,962.54L1755.44,965.4Z" fill="#00acff" stroke="#00acff" stroke-width="0.9"/>
<path d="M1726.55,951.33L1727.49,948.77L1757.58,959.67L1756.53,962.54Z" fill="#00b4ff" stroke="#00b4ff" stroke-width="0.9"/>
<path d="M1727.49,948.77L1728.41,946.2L1758.61,956.8L1757.58,959.67Z" fill="#00bbff" stroke="#00bbff" stroke-width="0.9"/>
<path d="M1728.41,946.2L1729.3,943.62L1759.6,953.92L1758.61,956.8Z" fill="#00c2ff" stroke="#00c2ff" stroke-width="0.9"/>
<path d="M1729.3,943.62L1730.17,941.03L1760.57,951.03L1759.6,953.92Z" fill="#00c9ff" stroke="#00c9ff" stroke-width="0.9"/>
<path d="M1730.17,941.03L1731.01,938.43L1761.5,948.13L1760.57,951.03Z" fill="#00d0ff" stroke="#00d0ff" stroke-width="0.9"/>
<path d="M1731.01,938.43L1731.83,935.82L1762.41,945.23L1761.5,948.13Z" fill="#00d7ff" stroke="#00d7ff" stroke-width="0.9"/>
<path d="M1731.83,935.82L1732.62,933.2L1763.29,942.32L1762.41,945.23Z" fill="#00dfff" stroke="#00dfff" stroke-width="0.9"/>
<path d="M1732.62,933.2L1733.39,930.57L1764.14,939.41L1763.29,942.32Z" fill="#00e6ff" stroke="#00e6ff" stroke-width="0.9"/>
<path d="M1733.39,930.57L1734.13,927.93L1764.97,936.49L1764.14,939.41Z" fill="#00eeff" stroke="#00eeff" stroke-width="0.9"/>
<path d="M1734.13,927.93L1734.86,925.28L1765.77,933.56L1764.97,936.49Z" fill="#00f5ff" stroke="#00f5ff" stroke-width="0.9"/>
<path d="M1734.86,925.28L1735.56,922.62L1766.54,930.63L1765.77,933.56Z" fill="#00fdff" stroke="#00fdff" stroke-width="0.9"/>
<path d="M1735.56,922.62L1736.23,919.96L1767.28,927.7L1766.54,930.63Z" fill="#05fffa" stroke="#05fffa" stroke-width="0.9"/>
<path d="M1736.23,919.96L1736.89,917.28L1768,924.76L1767.28,927.7Z" fill="#0dfff2" stroke="#0dfff2" stroke-width="0.9"/>
<path d="M1736.89,917.28L1737.52,914.6L1768.7,921.82L1768,924.76Z" fill="#14ffeb" stroke="#14ffeb" stroke-width="0.9"/>
<path d="M1737.52,914.6L1738.13,911.91L1769.36,918.88L1768.7,921.82Z" fill="#1cffe3" stroke="#1cffe3" stroke-width="0.9"/>
<path d="M1738.13,911.91L1738.72,909.22L1770.01,915.93L1769.36,918.88Z" fill="#24ffdb" stroke="#24ffdb" stroke-width="0.9"/>
<path d="M1738.72,909.22L1739.29,906.51L1770.63,912.98L1770.01,915.93Z" fill="#2bffd4" stroke="#2bffd4" stroke-width="0.9"/>
<path d="M1739.29,906.51L1739.84,903.8L1771.23,910.02L1770.63,912.98Z" fill="#33ffcc" stroke="#33ffcc" stroke-width="0.9"/>
<path d="M1739.84,903.8L1740.37,901.09L1771.8,907.07L1771.23,910.02Z" fill="#3bffc4" stroke="#3bffc4" stroke-width="0.9"/>
<path d="M1740.37,901.09L1740.87,898.36L1772.35,904.11L1771.8,907.07Z" fill="#43ffbc" stroke="#43ffbc" stroke-width="0.9"/>
<path d="M1740.87,898.36L1741.36,895.64L1772.88,901.15L1772.35,904.11Z" fill="#4bffb4" stroke="#4bffb4" stroke-width="0.9"/>
<path d="M1741.36,895.64L1741.83,892.9L1773.39,898.19L1772.88,901.15Z" fill="#53ffac" stroke="#53ffac" stroke-width="0.9"/>
<path d="M1741.83,892.9L1742.28,890.16L1773.88,895.23L1773.39,898.19Z" fill="#5bffa4" stroke="#5bffa4" stroke-width="0.9"/>
<path d="M1742.28,890.16L1742.71,887.42L1774.34,892.27L1773.88,895.23Z" fill="#63ff9c" stroke="#63ff9c" stroke-width="0.9"/>
<path d="M1742.71,887.42L1743.12,884.67L1774.78,889.3L1774.34,892.27Z" fill="#6bff94" stroke="#6bff94" stroke-width="0.9"/>
<path d="M1743.12,884.67L1743.51,881.91L1775.21,886.34L1774.78,889.3Z" fill="#73ff8c" stroke="#73ff8c" stroke-width="0.9"/>
<path d="M1743.51,881.91L1743.89,879.15L1775.61,883.37L1775.21,886.34Z" fill="#7bff84" stroke="#7bff84" stroke-width="0.9"/>
<path d="M1743.89,879.15L1744.25,876.39L1776,880.41L1775.61,883.37Z" fill="#83ff7c" stroke="#83ff7c" stroke-width="0.9"/>
<path d="M1744.25,876.39L1744.59,873.62L1776.36,877.44L1776,880.41Z" fill="#8bff74" stroke="#8bff74" stroke-width="0.9"/>
<path d="M1744.59,873.62L1744.92,870.85L1776.71,874.48L1776.36,877.44Z" fill="#93ff6c" stroke="#93ff6c" stroke-width="0.9"/>
<path d="M1744.92,870.85L1745.22,868.07L1777.04,871.51L1776.71,874.48Z" fill="#9bff64" stroke="#9bff64" stroke-width="0.9"/>
<path d="M1745.22,868.07L1745.52,865.29L1777.35,868.55L1777.04,871.51Z" fill="#a4ff5b" stroke="#a4ff5b" stroke-width="0.9"/>
<path d="M1745.52,865.29L1745.79,862.51L1777.64,865.58L1777.35,868.55Z" fill="#acff53" stroke="#acff53" stroke-width="0.9"/>
<path d="M1745.79,862.51L1746.05,859.72L1777.92,862.62L1777.64,865.58Z" fill="#b4ff4b" stroke="#b4ff4b" stroke-width="0.9"/>
<path d="M1746.05,859.72L1746.3,856.93L1778.18,859.65L1777.92,862.62Z" fill="#bcff43" stroke="#bcff43" stroke-width="0.9"/>
<path d="M1746.3,856.93L1746.53,854.13L1778.43,856.69L1778.18,859.65Z" fill="#c5ff3a" stroke="#c5ff3a" stroke-width="0.9"/>
<path d="M1746.53,854.13L1746.75,851.34L1778.66,853.73L1778.43,856.69Z" fill="#cdff32" stroke="#cdff32" stroke-width="0.9"/>
<path d="M1746.75,851.34L1746.95,848.54L1778.87,850.77L1778.66,853.73Z" fill="#d6ff29" stroke="#d6ff29" stroke-width="0.9"/>
<path d="M1746.95,848.54L1747.14,845.73L1779.07,847.81L1778.87,850.77Z" fill="#deff21" stroke="#deff21" stroke-width="0.9"/>
<path d="M1747.14,845.73L1747.31,842.92L1779.26,844.85L1779.07,847.81Z" fill="#e6ff19" stroke="#e6ff19" stroke-width="0.9"/>
<path d="M1747.31,842.92L1747.48,840.11L1779.43,841.89L1779.26,844.85Z" fill="#efff10" stroke="#efff10" stroke-width="0.9"/>
<path d="M1747.48,840.11L1747.63,837.3L1779.59,838.93L1779.43,841.89Z" fill="#f7ff08" stroke="#f7ff08" stroke-width="0.9"/>
<path d="M1747.63,837.3L1747.76,834.49L1779.73,835.98L1779.59,838.93Z" fill="#fffe00" stroke="#fffe00" stroke-width="0.9"/>
<path d="M1747.76,834.49L1747.89,831.67L1779.86,833.02L1779.73,835.98Z" fill="#fff600" stroke="#fff600" stroke-width="0.9"/>
<path d="M1747.89,831.67L1748,828.85L1779.98,830.07L1779.86,833.02Z" fill="#ffed00" stroke="#ffed00" stroke-width="0.9"/>
<path d="M1748,828.85L1748.11,826.02L1780.09,827.12L1779.98,830.07Z" fill="#ffe500" stroke="#ffe500" stroke-width="0.9"/>
<path d="M1748.11,826.02L1748.2,823.2L1780.18,824.17L1780.09,827.12Z" fill="#ffdc00" stroke="#ffdc00" stroke-width="0.9"/>
<path d="M1748.2,823.2L1748.28,820.37L1780.27,821.22L1780.18,824.17Z" fill="#ffd400" stroke="#ffd400" stroke-width="0.9"/>
<path d="M1748.28,820.37L1748.35,817.54L1780.34,818.28L1780.27,821.22Z" fill="#ffcb00" stroke="#ffcb00" stroke-width="0.9"/>
<path d="M1748.35,817.54L1748.41,814.71L1780.4,815.33L1780.34,818.28Z" fill="#ffc200" stroke="#ffc200" stroke-width="0.9"/>
<path d="M1748.41,814.71L1748.46,811.87L1780.46,812.39L1780.4,815.33Z" fill="#ffba00" stroke="#ffba00" stroke-width="0.9"/>
<path d="M1748.46,811.87L1748.5,809.04L1780.5,809.45L1780.46,812.39Z" fill="#ffb100" stroke="#ffb100" stroke-width="0.9"/>
<path d="M1748.5,809.04L1748.53,806.2L1780.53,806.51L1780.5,809.45Z" fill="#ffa800" stroke="#ffa800" stroke-width="0.9"/>
<path d="M1748.53,806.2L1748.56,803.36L1780.56,803.58L1780.53,806.51Z" fill="#ffa000" stroke="#ffa000" stroke-width="0.9"/>
<path d="M1748.56,803.36L1748.57,800.52L1780.57,800.64L1780.56,803.58Z" fill="#ff9700" stroke="#ff9700" stroke-width="0.9"/>
<path d="M1748.57,800.52L1748.58,797.67L1780.58,797.71L1780.57,800.64Z" fill="#ff8e00" stroke="#ff8e00" stroke-width="0.9"/>
<path d="M1748.58,797.67L1748.58,794.83L1780.58,794.78L1780.58,797.71Z" fill="#ff8600" stroke="#ff8600" stroke-width="0.9"/>
<path d="M1748.58,794.83L1748.57,791.98L1780.57,791.85L1780.58,794.78Z" fill="#ff7d00" stroke="#ff7d00" stroke-width="0.9"/>
<path d="M1748.57,791.98L1748.56,789.13L1780.56,788.92L1780.57,791.85Z" fill="#ff7400" stroke="#ff7400" stroke-width="0.9"/>
<path d="M1748.56,789.13L1748.53,786.28L1780.53,785.99L1780.56,788.92Z" fill="#ff6b00" stroke="#ff6b00" stroke-width="0.9"/>
<path d="M1748.53,786.28L1748.51,783.42L1780.5,783.07L1780.53,785.99Z" fill="#ff6300" stroke="#ff6300" stroke-width="0.9"/>
<path d="M1748.51,783.42L1748.47,780.57L1780.47,780.15L1780.5,783.07Z" fill="#ff5a00" stroke="#ff5a00" stroke-width="0.9"/>
<path d="M1748.47,780.57L1748.43,777.71L1780.43,777.23L1780.47,780.15Z" fill="#ff5100" stroke="#ff5100" stroke-width="0.9"/>
<path d="M1748.43,777.71L1748.38,774.85L1780.38,774.31L1780.43,777.23Z" fill="#ff4800" stroke="#ff4800" stroke-width="0.9"/>
<path d="M1748.38,774.85L1748.33,771.99L1780.33,771.39L1780.38,774.31Z" fill="#ff3f00" stroke="#ff3f00" stroke-width="0.9"/>
<path d="M1748.33,771.99L1748.28,769.13L1780.27,768.48L1780.33,771.39Z" fill="#ff3700" stroke="#ff3700" stroke-width="0.9"/>
<path d="M1748.28,769.13L1748.22,766.27L1780.21,765.56L1780.27,768.48Z" fill="#ff2e00" stroke="#ff2e00" stroke-width="0.9"/>
<path d="M1748.22,766.27L1748.15,763.41L1780.14,762.65L1780.21,765.56Z" fill="#ff2500" stroke="#ff2500" stroke-width="0.9"/>
<path d="M1748.15,763.41L1748.08,760.54L1780.07,759.74L1780.14,762.65Z" fill="#ff1c00" stroke="#ff1c00" stroke-width="0.9"/>
<path d="M1748.08,760.54L1748.01,757.67L1780,756.83L1780.07,759.74Z" fill="#ff1300" stroke="#ff1300" stroke-width="0.9"/>
<path d="M1748.01,757.67L1747.93,754.8L1779.92,753.93L1780,756.83Z" fill="#ff0a00" stroke="#ff0a00" stroke-width="0.9"/>
<path d="M1747.93,754.8L1747.85,751.93L1779.84,751.02L1779.92,753.93Z" fill="#ff0200" stroke="#ff0200" stroke-width="0.9"/>
<path d="M1747.85,751.93L1747.77,749.06L1779.75,748.12L1779.84,751.02Z" fill="#f80000" stroke="#f80000" stroke-width="0.9"/>
<path d="M1747.77,749.06L1747.68,746.19L1779.67,745.22L1779.75,748.12Z" fill="#ef0000" stroke="#ef0000" stroke-width="0.9"/>
<path d="M1747.68,746.19L1747.59,743.31L1779.58,742.32L1779.67,745.22Z" fill="#e60000" stroke="#e60000" stroke-width="0.9"/>
<path d="M1747.59,743.31L1747.5,740.44L1779.48,739.42L1779.58,742.32Z" fill="#dd0000" stroke="#dd0000" stroke-width="0.9"/>
<path d="M1747.5,740.44L1747.41,737.56L1779.39,736.52L1779.48,739.42Z" fill="#d40000" stroke="#d40000" stroke-width="0.9"/>
<path d="M1747.41,737.56L1747.31,734.68L1779.3,733.62L1779.39,736.52Z" fill="#cb0000" stroke="#cb0000" stroke-width="0.9"/>
<path d="M1747.31,734.68L1747.22,731.8L1779.2,730.73L1779.3,733.62Z" fill="#c20000" stroke="#c20000" stroke-width="0.9"/>
<path d="M1747.22,731.8L1747.12,728.92L1779.1,727.84L1779.2,730.73Z" fill="#b90000" stroke="#b90000" stroke-width="0.9"/>
<path d="M1747.12,728.92L1747.02,726.04L1779,724.94L1779.1,727.84Z" fill="#b10000" stroke="#b10000" stroke-width="0.9"/>
<path d="M1747.02,726.04L1746.92,723.16L1778.9,722.05L1779,724.94Z" fill="#a80000" stroke="#a80000" stroke-width="0.9"/>
<path d="M1746.92,723.16L1746.82,720.27L1778.8,719.16L1778.9,722.05Z" fill="#9f0000" stroke="#9f0000" stroke-width="0.9"/>
<path d="M1746.82,720.27L1746.72,717.39L1778.7,716.27L1778.8,719.16Z" fill="#960000" stroke="#960000" stroke-width="0.9"/>
<path d="M1746.72,717.39L1746.62,714.5L1778.6,713.39L1778.7,716.27Z" fill="#8d0000" stroke="#8d0000" stroke-width="0.9"/>
<path d="M1746.62,714.5L1746.52,711.62L1778.5,710.5L1778.6,713.39Z" fill="#840000" stroke="#840000" stroke-width="0.9"/>
</g>
<defs><linearGradient id="arrg" gradientUnits="userSpaceOnUse" x1="0" y1="672" x2="0" y2="910"><stop offset="0" stop-color="#e3843f"/><stop offset="0.45" stop-color="#d3a58f"/><stop offset="1" stop-color="#a9bee5"/></linearGradient></defs>
<path d="M1618.4,646.9 L1628.6,667.3 L1622,662.6 L1622,1149.5 L1614.8,1149.5 L1614.8,662.6 L1608.2,667.3 Z" fill="url(#arrg)"/>
<path d="M1712.4,646.9 L1722.6,667.3 L1716,662.6 L1716,1149.5 L1708.8,1149.5 L1708.8,662.6 L1702.2,667.3 Z" fill="url(#arrg)"/>
<path d="M1806.2,646.9 L1816.4,667.3 L1809.8,662.6 L1809.8,1149.5 L1802.6,1149.5 L1802.6,662.6 L1796,667.3 Z" fill="url(#arrg)"/>
<path d="M1899.5,646.9 L1909.7,667.3 L1903.1,662.6 L1903.1,1149.5 L1895.9,1149.5 L1895.9,662.6 L1889.3,667.3 Z" fill="url(#arrg)"/>
<path d="M1993.5,646.9 L2003.7,667.3 L1997.1,662.6 L1997.1,1149.5 L1989.9,1149.5 L1989.9,662.6 L1983.3,667.3 Z" fill="url(#arrg)"/>
<text x="1685.5" y="693.3" font-size="28.5" fill="#000" font-weight="bold" textLength="33.5" lengthAdjust="spacingAndGlyphs">B4</text>
<text x="1719" y="693.3" font-size="28.5" fill="#000" textLength="102" lengthAdjust="spacingAndGlyphs">=48mT</text>
<text x="1830.2" y="734.4" font-size="28.5" fill="#000" font-weight="bold" textLength="33.5" lengthAdjust="spacingAndGlyphs">B3</text>
<text x="1863.7" y="734.4" font-size="28.5" fill="#000" textLength="102" lengthAdjust="spacingAndGlyphs">=34mT</text>
<text x="1939.6" y="814.9" font-size="28.5" fill="#000" font-weight="bold" textLength="33.5" lengthAdjust="spacingAndGlyphs">B2</text>
<text x="1973.1" y="814.9" font-size="28.5" fill="#000" textLength="102" lengthAdjust="spacingAndGlyphs">=18mT</text>
<text x="2007.1" y="1049.5" font-size="28.5" fill="#000" font-weight="bold" textLength="33.5" lengthAdjust="spacingAndGlyphs">B1</text>
<text x="2040.6" y="1049.5" font-size="28.5" fill="#000" textLength="86" lengthAdjust="spacingAndGlyphs">=0mT</text>
<text x="1814.1" y="1134.3" font-size="28.5" fill="#000" font-weight="bold" textLength="15.5" lengthAdjust="spacingAndGlyphs">L</text>
<text x="1829.6" y="1134.3" font-size="28.5" fill="#000" textLength="108" lengthAdjust="spacingAndGlyphs">=10mm</text>
</svg></body></html>
